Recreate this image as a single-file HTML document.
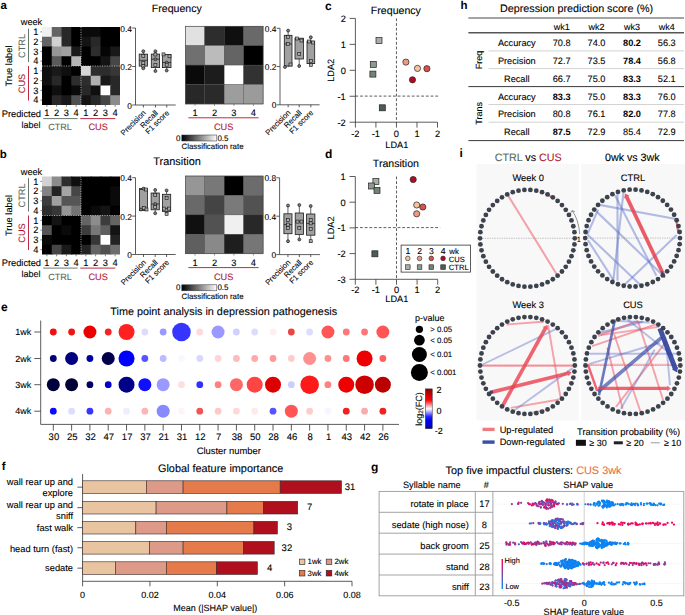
<!DOCTYPE html>
<html><head><meta charset="utf-8"><style>
html,body{margin:0;padding:0;background:#fff;overflow:hidden;}
svg{display:block;}
text{font-family:"Liberation Sans", sans-serif;text-rendering:geometricPrecision;}
</style></head><body>
<svg width="685" height="615" viewBox="0 0 685 615">
<rect width="685" height="615" fill="#fff"/>
<text x="0.60" y="8.90" font-size="11.5" text-anchor="start" font-weight="bold" fill="#000">a</text>
<text x="176.80" y="11.90" font-size="10.6" text-anchor="middle" font-weight="normal" fill="#000" stroke="#000" stroke-width="0.1">Frequency</text>
<rect x="42.00" y="27.00" width="10.75" height="10.75" fill="rgb(240,240,240)" stroke="none" stroke-width="0"/>
<rect x="51.75" y="27.00" width="10.75" height="10.75" fill="rgb(100,100,100)" stroke="none" stroke-width="0"/>
<rect x="61.50" y="27.00" width="10.75" height="10.75" fill="rgb(40,40,40)" stroke="none" stroke-width="0"/>
<rect x="71.25" y="27.00" width="10.75" height="10.75" fill="rgb(0,0,0)" stroke="none" stroke-width="0"/>
<rect x="81.00" y="27.00" width="10.75" height="10.75" fill="rgb(10,10,10)" stroke="none" stroke-width="0"/>
<rect x="90.75" y="27.00" width="10.75" height="10.75" fill="rgb(10,10,10)" stroke="none" stroke-width="0"/>
<rect x="100.50" y="27.00" width="10.75" height="10.75" fill="rgb(0,0,0)" stroke="none" stroke-width="0"/>
<rect x="110.25" y="27.00" width="9.75" height="10.75" fill="rgb(0,0,0)" stroke="none" stroke-width="0"/>
<rect x="42.00" y="36.75" width="10.75" height="10.75" fill="rgb(100,100,100)" stroke="none" stroke-width="0"/>
<rect x="51.75" y="36.75" width="10.75" height="10.75" fill="rgb(210,210,210)" stroke="none" stroke-width="0"/>
<rect x="61.50" y="36.75" width="10.75" height="10.75" fill="rgb(40,40,40)" stroke="none" stroke-width="0"/>
<rect x="71.25" y="36.75" width="10.75" height="10.75" fill="rgb(0,0,0)" stroke="none" stroke-width="0"/>
<rect x="81.00" y="36.75" width="10.75" height="10.75" fill="rgb(20,20,20)" stroke="none" stroke-width="0"/>
<rect x="90.75" y="36.75" width="10.75" height="10.75" fill="rgb(40,40,40)" stroke="none" stroke-width="0"/>
<rect x="100.50" y="36.75" width="10.75" height="10.75" fill="rgb(0,0,0)" stroke="none" stroke-width="0"/>
<rect x="110.25" y="36.75" width="9.75" height="10.75" fill="rgb(0,0,0)" stroke="none" stroke-width="0"/>
<rect x="42.00" y="46.50" width="10.75" height="10.75" fill="rgb(0,0,0)" stroke="none" stroke-width="0"/>
<rect x="51.75" y="46.50" width="10.75" height="10.75" fill="rgb(150,150,150)" stroke="none" stroke-width="0"/>
<rect x="61.50" y="46.50" width="10.75" height="10.75" fill="rgb(160,160,160)" stroke="none" stroke-width="0"/>
<rect x="71.25" y="46.50" width="10.75" height="10.75" fill="rgb(25,25,25)" stroke="none" stroke-width="0"/>
<rect x="81.00" y="46.50" width="10.75" height="10.75" fill="rgb(0,0,0)" stroke="none" stroke-width="0"/>
<rect x="90.75" y="46.50" width="10.75" height="10.75" fill="rgb(45,45,45)" stroke="none" stroke-width="0"/>
<rect x="100.50" y="46.50" width="10.75" height="10.75" fill="rgb(5,5,5)" stroke="none" stroke-width="0"/>
<rect x="110.25" y="46.50" width="9.75" height="10.75" fill="rgb(25,25,25)" stroke="none" stroke-width="0"/>
<rect x="42.00" y="56.25" width="10.75" height="10.75" fill="rgb(0,0,0)" stroke="none" stroke-width="0"/>
<rect x="51.75" y="56.25" width="10.75" height="10.75" fill="rgb(90,90,90)" stroke="none" stroke-width="0"/>
<rect x="61.50" y="56.25" width="10.75" height="10.75" fill="rgb(0,0,0)" stroke="none" stroke-width="0"/>
<rect x="71.25" y="56.25" width="10.75" height="10.75" fill="rgb(180,180,180)" stroke="none" stroke-width="0"/>
<rect x="81.00" y="56.25" width="10.75" height="10.75" fill="rgb(0,0,0)" stroke="none" stroke-width="0"/>
<rect x="90.75" y="56.25" width="10.75" height="10.75" fill="rgb(0,0,0)" stroke="none" stroke-width="0"/>
<rect x="100.50" y="56.25" width="10.75" height="10.75" fill="rgb(20,20,20)" stroke="none" stroke-width="0"/>
<rect x="110.25" y="56.25" width="9.75" height="10.75" fill="rgb(70,70,70)" stroke="none" stroke-width="0"/>
<rect x="42.00" y="66.00" width="10.75" height="10.75" fill="rgb(15,15,15)" stroke="none" stroke-width="0"/>
<rect x="51.75" y="66.00" width="10.75" height="10.75" fill="rgb(25,25,25)" stroke="none" stroke-width="0"/>
<rect x="61.50" y="66.00" width="10.75" height="10.75" fill="rgb(15,15,15)" stroke="none" stroke-width="0"/>
<rect x="71.25" y="66.00" width="10.75" height="10.75" fill="rgb(0,0,0)" stroke="none" stroke-width="0"/>
<rect x="81.00" y="66.00" width="10.75" height="10.75" fill="rgb(215,215,215)" stroke="none" stroke-width="0"/>
<rect x="90.75" y="66.00" width="10.75" height="10.75" fill="rgb(45,45,45)" stroke="none" stroke-width="0"/>
<rect x="100.50" y="66.00" width="10.75" height="10.75" fill="rgb(45,45,45)" stroke="none" stroke-width="0"/>
<rect x="110.25" y="66.00" width="9.75" height="10.75" fill="rgb(55,55,55)" stroke="none" stroke-width="0"/>
<rect x="42.00" y="75.75" width="10.75" height="10.75" fill="rgb(15,15,15)" stroke="none" stroke-width="0"/>
<rect x="51.75" y="75.75" width="10.75" height="10.75" fill="rgb(40,40,40)" stroke="none" stroke-width="0"/>
<rect x="61.50" y="75.75" width="10.75" height="10.75" fill="rgb(0,0,0)" stroke="none" stroke-width="0"/>
<rect x="71.25" y="75.75" width="10.75" height="10.75" fill="rgb(45,45,45)" stroke="none" stroke-width="0"/>
<rect x="81.00" y="75.75" width="10.75" height="10.75" fill="rgb(45,45,45)" stroke="none" stroke-width="0"/>
<rect x="90.75" y="75.75" width="10.75" height="10.75" fill="rgb(175,175,175)" stroke="none" stroke-width="0"/>
<rect x="100.50" y="75.75" width="10.75" height="10.75" fill="rgb(25,25,25)" stroke="none" stroke-width="0"/>
<rect x="110.25" y="75.75" width="9.75" height="10.75" fill="rgb(40,40,40)" stroke="none" stroke-width="0"/>
<rect x="42.00" y="85.50" width="10.75" height="10.75" fill="rgb(0,0,0)" stroke="none" stroke-width="0"/>
<rect x="51.75" y="85.50" width="10.75" height="10.75" fill="rgb(15,15,15)" stroke="none" stroke-width="0"/>
<rect x="61.50" y="85.50" width="10.75" height="10.75" fill="rgb(0,0,0)" stroke="none" stroke-width="0"/>
<rect x="71.25" y="85.50" width="10.75" height="10.75" fill="rgb(10,10,10)" stroke="none" stroke-width="0"/>
<rect x="81.00" y="85.50" width="10.75" height="10.75" fill="rgb(40,40,40)" stroke="none" stroke-width="0"/>
<rect x="90.75" y="85.50" width="10.75" height="10.75" fill="rgb(15,15,15)" stroke="none" stroke-width="0"/>
<rect x="100.50" y="85.50" width="10.75" height="10.75" fill="rgb(255,255,255)" stroke="none" stroke-width="0"/>
<rect x="110.25" y="85.50" width="9.75" height="10.75" fill="rgb(40,40,40)" stroke="none" stroke-width="0"/>
<rect x="42.00" y="95.25" width="10.75" height="9.75" fill="rgb(0,0,0)" stroke="none" stroke-width="0"/>
<rect x="51.75" y="95.25" width="10.75" height="9.75" fill="rgb(40,40,40)" stroke="none" stroke-width="0"/>
<rect x="61.50" y="95.25" width="10.75" height="9.75" fill="rgb(25,25,25)" stroke="none" stroke-width="0"/>
<rect x="71.25" y="95.25" width="10.75" height="9.75" fill="rgb(80,80,80)" stroke="none" stroke-width="0"/>
<rect x="81.00" y="95.25" width="10.75" height="9.75" fill="rgb(20,20,20)" stroke="none" stroke-width="0"/>
<rect x="90.75" y="95.25" width="10.75" height="9.75" fill="rgb(40,40,40)" stroke="none" stroke-width="0"/>
<rect x="100.50" y="95.25" width="10.75" height="9.75" fill="rgb(70,70,70)" stroke="none" stroke-width="0"/>
<rect x="110.25" y="95.25" width="9.75" height="9.75" fill="rgb(140,140,140)" stroke="none" stroke-width="0"/>
<line x1="81.00" y1="27.00" x2="81.00" y2="105.00" stroke="#dddddd" stroke-width="0.7" stroke-dasharray="1.1,1.3"/>
<line x1="42.00" y1="66.00" x2="120.00" y2="66.00" stroke="#dddddd" stroke-width="0.7" stroke-dasharray="1.1,1.3"/>
<line x1="40.40" y1="31.88" x2="42.00" y2="31.88" stroke="#333" stroke-width="0.6"/>
<line x1="40.40" y1="41.62" x2="42.00" y2="41.62" stroke="#333" stroke-width="0.6"/>
<line x1="40.40" y1="51.38" x2="42.00" y2="51.38" stroke="#333" stroke-width="0.6"/>
<line x1="40.40" y1="61.12" x2="42.00" y2="61.12" stroke="#333" stroke-width="0.6"/>
<line x1="40.40" y1="70.88" x2="42.00" y2="70.88" stroke="#333" stroke-width="0.6"/>
<line x1="40.40" y1="80.62" x2="42.00" y2="80.62" stroke="#333" stroke-width="0.6"/>
<line x1="40.40" y1="90.38" x2="42.00" y2="90.38" stroke="#333" stroke-width="0.6"/>
<line x1="40.40" y1="100.12" x2="42.00" y2="100.12" stroke="#333" stroke-width="0.6"/>
<line x1="46.88" y1="105.00" x2="46.88" y2="106.80" stroke="#333" stroke-width="0.6"/>
<line x1="56.62" y1="105.00" x2="56.62" y2="106.80" stroke="#333" stroke-width="0.6"/>
<line x1="66.38" y1="105.00" x2="66.38" y2="106.80" stroke="#333" stroke-width="0.6"/>
<line x1="76.12" y1="105.00" x2="76.12" y2="106.80" stroke="#333" stroke-width="0.6"/>
<line x1="85.88" y1="105.00" x2="85.88" y2="106.80" stroke="#333" stroke-width="0.6"/>
<line x1="95.62" y1="105.00" x2="95.62" y2="106.80" stroke="#333" stroke-width="0.6"/>
<line x1="105.38" y1="105.00" x2="105.38" y2="106.80" stroke="#333" stroke-width="0.6"/>
<line x1="115.12" y1="105.00" x2="115.12" y2="106.80" stroke="#333" stroke-width="0.6"/>
<text x="35.80" y="35.17" font-size="9.3" text-anchor="middle" font-weight="normal" fill="#000" stroke="#000" stroke-width="0.1">1</text>
<text x="35.80" y="44.92" font-size="9.3" text-anchor="middle" font-weight="normal" fill="#000" stroke="#000" stroke-width="0.1">2</text>
<text x="35.80" y="54.67" font-size="9.3" text-anchor="middle" font-weight="normal" fill="#000" stroke="#000" stroke-width="0.1">3</text>
<text x="35.80" y="64.42" font-size="9.3" text-anchor="middle" font-weight="normal" fill="#000" stroke="#000" stroke-width="0.1">4</text>
<text x="35.80" y="74.17" font-size="9.3" text-anchor="middle" font-weight="normal" fill="#000" stroke="#000" stroke-width="0.1">1</text>
<text x="35.80" y="83.92" font-size="9.3" text-anchor="middle" font-weight="normal" fill="#000" stroke="#000" stroke-width="0.1">2</text>
<text x="35.80" y="93.67" font-size="9.3" text-anchor="middle" font-weight="normal" fill="#000" stroke="#000" stroke-width="0.1">3</text>
<text x="35.80" y="103.42" font-size="9.3" text-anchor="middle" font-weight="normal" fill="#000" stroke="#000" stroke-width="0.1">4</text>
<text x="31.50" y="25.10" font-size="9.2" text-anchor="middle" font-weight="normal" fill="#000" stroke="#000" stroke-width="0.1">week</text>
<text x="25.00" y="46.00" font-size="9.2" text-anchor="middle" font-weight="normal" fill="#58695c" stroke="#58695c" stroke-width="0.1" transform="rotate(-90 25.00 46.00) ">CTRL</text>
<line x1="28.50" y1="28.60" x2="28.50" y2="62.00" stroke="#58695c" stroke-width="0.9"/>
<text x="24.70" y="83.50" font-size="9.2" text-anchor="middle" font-weight="normal" fill="#b4142e" stroke="#b4142e" stroke-width="0.1" transform="rotate(-90 24.70 83.50) ">CUS</text>
<line x1="28.50" y1="66.00" x2="28.50" y2="100.60" stroke="#b4142e" stroke-width="0.9"/>
<text x="12.40" y="66.00" font-size="9.3" text-anchor="middle" font-weight="normal" fill="#000" stroke="#000" stroke-width="0.1" transform="rotate(-90 12.40 66.00) ">True label</text>
<text x="41.00" y="116.60" font-size="9.3" text-anchor="end" font-weight="normal" fill="#000" stroke="#000" stroke-width="0.1">Predicted</text>
<text x="46.88" y="116.20" font-size="9.3" text-anchor="middle" font-weight="normal" fill="#000" stroke="#000" stroke-width="0.1">1</text>
<text x="56.62" y="116.20" font-size="9.3" text-anchor="middle" font-weight="normal" fill="#000" stroke="#000" stroke-width="0.1">2</text>
<text x="66.38" y="116.20" font-size="9.3" text-anchor="middle" font-weight="normal" fill="#000" stroke="#000" stroke-width="0.1">3</text>
<text x="76.12" y="116.20" font-size="9.3" text-anchor="middle" font-weight="normal" fill="#000" stroke="#000" stroke-width="0.1">4</text>
<text x="85.88" y="116.20" font-size="9.3" text-anchor="middle" font-weight="normal" fill="#000" stroke="#000" stroke-width="0.1">1</text>
<text x="95.62" y="116.20" font-size="9.3" text-anchor="middle" font-weight="normal" fill="#000" stroke="#000" stroke-width="0.1">2</text>
<text x="105.38" y="116.20" font-size="9.3" text-anchor="middle" font-weight="normal" fill="#000" stroke="#000" stroke-width="0.1">3</text>
<text x="115.12" y="116.20" font-size="9.3" text-anchor="middle" font-weight="normal" fill="#000" stroke="#000" stroke-width="0.1">4</text>
<line x1="43.20" y1="118.60" x2="77.60" y2="118.60" stroke="#58695c" stroke-width="0.9"/>
<line x1="80.30" y1="118.60" x2="115.30" y2="118.60" stroke="#b4142e" stroke-width="0.9"/>
<text x="40.50" y="127.80" font-size="9" text-anchor="end" font-weight="normal" fill="#000" stroke="#000" stroke-width="0.1">label</text>
<text x="60.00" y="130.00" font-size="9" text-anchor="middle" font-weight="normal" fill="#58695c" stroke="#58695c" stroke-width="0.1">CTRL</text>
<text x="98.20" y="130.00" font-size="9.2" text-anchor="middle" font-weight="normal" fill="#b4142e" stroke="#b4142e" stroke-width="0.1">CUS</text>
<rect x="185.30" y="26.20" width="19.45" height="19.45" fill="rgb(225,225,225)" stroke="#444" stroke-width="0.35"/>
<rect x="204.75" y="26.20" width="19.45" height="19.45" fill="rgb(45,45,45)" stroke="#444" stroke-width="0.35"/>
<rect x="224.20" y="26.20" width="19.45" height="19.45" fill="rgb(15,15,15)" stroke="#444" stroke-width="0.35"/>
<rect x="243.65" y="26.20" width="19.45" height="19.45" fill="rgb(105,105,105)" stroke="#444" stroke-width="0.35"/>
<rect x="185.30" y="45.65" width="19.45" height="19.45" fill="rgb(112,112,112)" stroke="#444" stroke-width="0.35"/>
<rect x="204.75" y="45.65" width="19.45" height="19.45" fill="rgb(187,187,187)" stroke="#444" stroke-width="0.35"/>
<rect x="224.20" y="45.65" width="19.45" height="19.45" fill="rgb(100,100,100)" stroke="#444" stroke-width="0.35"/>
<rect x="243.65" y="45.65" width="19.45" height="19.45" fill="rgb(0,0,0)" stroke="#444" stroke-width="0.35"/>
<rect x="185.30" y="65.10" width="19.45" height="19.45" fill="rgb(10,10,10)" stroke="#444" stroke-width="0.35"/>
<rect x="204.75" y="65.10" width="19.45" height="19.45" fill="rgb(28,28,28)" stroke="#444" stroke-width="0.35"/>
<rect x="224.20" y="65.10" width="19.45" height="19.45" fill="rgb(255,255,255)" stroke="#444" stroke-width="0.35"/>
<rect x="243.65" y="65.10" width="19.45" height="19.45" fill="rgb(50,50,50)" stroke="#444" stroke-width="0.35"/>
<rect x="185.30" y="84.55" width="19.45" height="19.45" fill="rgb(40,40,40)" stroke="#444" stroke-width="0.35"/>
<rect x="204.75" y="84.55" width="19.45" height="19.45" fill="rgb(42,42,42)" stroke="#444" stroke-width="0.35"/>
<rect x="224.20" y="84.55" width="19.45" height="19.45" fill="rgb(157,157,157)" stroke="#444" stroke-width="0.35"/>
<rect x="243.65" y="84.55" width="19.45" height="19.45" fill="rgb(155,155,155)" stroke="#444" stroke-width="0.35"/>
<rect x="185.30" y="26.20" width="77.80" height="77.80" fill="none" stroke="#444" stroke-width="0.5"/>
<line x1="195.03" y1="104.00" x2="195.03" y2="105.80" stroke="#555" stroke-width="0.6"/>
<text x="195.03" y="115.80" font-size="9.3" text-anchor="middle" font-weight="normal" fill="#000" stroke="#000" stroke-width="0.1">1</text>
<line x1="214.48" y1="104.00" x2="214.48" y2="105.80" stroke="#555" stroke-width="0.6"/>
<text x="214.48" y="115.80" font-size="9.3" text-anchor="middle" font-weight="normal" fill="#000" stroke="#000" stroke-width="0.1">2</text>
<line x1="233.93" y1="104.00" x2="233.93" y2="105.80" stroke="#555" stroke-width="0.6"/>
<text x="233.93" y="115.80" font-size="9.3" text-anchor="middle" font-weight="normal" fill="#000" stroke="#000" stroke-width="0.1">3</text>
<line x1="253.38" y1="104.00" x2="253.38" y2="105.80" stroke="#555" stroke-width="0.6"/>
<text x="253.38" y="115.80" font-size="9.3" text-anchor="middle" font-weight="normal" fill="#000" stroke="#000" stroke-width="0.1">4</text>
<line x1="188.40" y1="117.80" x2="258.60" y2="117.80" stroke="#b4142e" stroke-width="0.9"/>
<text x="223.70" y="129.80" font-size="9.2" text-anchor="middle" font-weight="normal" fill="#b4142e" stroke="#b4142e" stroke-width="0.1">CUS</text>
<defs><linearGradient id="gb135" x1="0" x2="1" y1="0" y2="0"><stop offset="0" stop-color="#000"/><stop offset="1" stop-color="#fff"/></linearGradient></defs>
<rect x="181.80" y="135.00" width="35.00" height="6.00" fill="url(#gb135)" stroke="#333" stroke-width="0.5"/>
<line x1="188.80" y1="141.00" x2="188.80" y2="140.00" stroke="#888" stroke-width="0.4"/>
<line x1="195.80" y1="141.00" x2="195.80" y2="140.00" stroke="#888" stroke-width="0.4"/>
<line x1="202.80" y1="141.00" x2="202.80" y2="140.00" stroke="#888" stroke-width="0.4"/>
<line x1="209.80" y1="141.00" x2="209.80" y2="140.00" stroke="#888" stroke-width="0.4"/>
<text x="180.50" y="140.60" font-size="8" text-anchor="end" font-weight="normal" fill="#000" stroke="#000" stroke-width="0.1">0</text>
<text x="217.40" y="140.60" font-size="8" text-anchor="start" font-weight="normal" fill="#000" stroke="#000" stroke-width="0.1">0.5</text>
<text x="181.60" y="149.00" font-size="7.85" text-anchor="start" font-weight="normal" fill="#000" stroke="#000" stroke-width="0.1">Classification rate</text>
<line x1="135.50" y1="28.00" x2="135.50" y2="105.00" stroke="#333" stroke-width="0.8"/>
<line x1="135.50" y1="105.00" x2="175.70" y2="105.00" stroke="#333" stroke-width="0.8"/>
<line x1="132.20" y1="28.00" x2="135.50" y2="28.00" stroke="#333" stroke-width="0.8"/>
<text x="132.00" y="31.50" font-size="8.4" text-anchor="end" font-weight="normal" fill="#000" stroke="#000" stroke-width="0.1">0.4</text>
<line x1="132.20" y1="66.50" x2="135.50" y2="66.50" stroke="#333" stroke-width="0.8"/>
<text x="132.00" y="70.00" font-size="8.4" text-anchor="end" font-weight="normal" fill="#000" stroke="#000" stroke-width="0.1">0.2</text>
<line x1="132.20" y1="105.00" x2="135.50" y2="105.00" stroke="#333" stroke-width="0.8"/>
<text x="132.00" y="108.50" font-size="8.4" text-anchor="end" font-weight="normal" fill="#000" stroke="#000" stroke-width="0.1">0</text>
<line x1="143.35" y1="105.00" x2="143.35" y2="107.50" stroke="#333" stroke-width="0.8"/>
<line x1="143.35" y1="51.20" x2="143.35" y2="54.10" stroke="#222" stroke-width="0.7"/>
<line x1="143.35" y1="66.10" x2="143.35" y2="68.30" stroke="#222" stroke-width="0.7"/>
<rect x="139.20" y="54.10" width="8.30" height="12.00" fill="#a0a0a0" stroke="#1a1a1a" stroke-width="0.8"/>
<line x1="139.20" y1="60.30" x2="147.50" y2="60.30" stroke="#222" stroke-width="0.8"/>
<line x1="155.45" y1="105.00" x2="155.45" y2="107.50" stroke="#333" stroke-width="0.8"/>
<line x1="155.45" y1="51.20" x2="155.45" y2="54.10" stroke="#222" stroke-width="0.7"/>
<line x1="155.45" y1="67.60" x2="155.45" y2="71.00" stroke="#222" stroke-width="0.7"/>
<rect x="151.30" y="54.10" width="8.30" height="13.50" fill="#a0a0a0" stroke="#1a1a1a" stroke-width="0.8"/>
<line x1="151.30" y1="59.20" x2="159.60" y2="59.20" stroke="#222" stroke-width="0.8"/>
<line x1="166.75" y1="105.00" x2="166.75" y2="107.50" stroke="#333" stroke-width="0.8"/>
<line x1="166.75" y1="54.40" x2="166.75" y2="54.40" stroke="#222" stroke-width="0.7"/>
<line x1="166.75" y1="67.60" x2="166.75" y2="70.50" stroke="#222" stroke-width="0.7"/>
<rect x="162.50" y="54.40" width="8.50" height="13.20" fill="#a0a0a0" stroke="#1a1a1a" stroke-width="0.8"/>
<line x1="162.50" y1="62.50" x2="171.00" y2="62.50" stroke="#222" stroke-width="0.8"/>
<circle cx="143.30" cy="51.20" r="1.50" fill="#7a7a7a" stroke="#111" stroke-width="0.6"/>
<rect x="141.80" y="54.50" width="3.00" height="3.00" fill="#acacac" stroke="#111" stroke-width="0.6"/>
<rect x="141.80" y="61.50" width="3.00" height="3.00" fill="#acacac" stroke="#111" stroke-width="0.6"/>
<rect x="141.80" y="64.50" width="3.00" height="3.00" fill="#acacac" stroke="#111" stroke-width="0.6"/>
<circle cx="143.30" cy="68.30" r="1.50" fill="#7a7a7a" stroke="#111" stroke-width="0.6"/>
<circle cx="155.40" cy="51.20" r="1.50" fill="#7a7a7a" stroke="#111" stroke-width="0.6"/>
<rect x="153.90" y="53.00" width="3.00" height="3.00" fill="#acacac" stroke="#111" stroke-width="0.6"/>
<circle cx="155.40" cy="59.20" r="1.50" fill="#7a7a7a" stroke="#111" stroke-width="0.6"/>
<rect x="153.90" y="63.50" width="3.00" height="3.00" fill="#acacac" stroke="#111" stroke-width="0.6"/>
<circle cx="155.40" cy="71.00" r="1.50" fill="#7a7a7a" stroke="#111" stroke-width="0.6"/>
<rect x="162.00" y="52.90" width="3.00" height="3.00" fill="#acacac" stroke="#111" stroke-width="0.6"/>
<rect x="168.00" y="54.80" width="3.00" height="3.00" fill="#acacac" stroke="#111" stroke-width="0.6"/>
<circle cx="166.70" cy="62.50" r="1.50" fill="#7a7a7a" stroke="#111" stroke-width="0.6"/>
<rect x="165.20" y="63.20" width="3.00" height="3.00" fill="#acacac" stroke="#111" stroke-width="0.6"/>
<circle cx="166.70" cy="70.50" r="1.50" fill="#7a7a7a" stroke="#111" stroke-width="0.6"/>
<text x="146.35" y="113.40" font-size="7.75" text-anchor="end" font-weight="normal" fill="#000" stroke="#000" stroke-width="0.1" transform="rotate(-45 146.35 113.40) ">Precision</text>
<text x="158.45" y="113.40" font-size="7.75" text-anchor="end" font-weight="normal" fill="#000" stroke="#000" stroke-width="0.1" transform="rotate(-45 158.45 113.40) ">Recall</text>
<text x="169.75" y="113.40" font-size="7.75" text-anchor="end" font-weight="normal" fill="#000" stroke="#000" stroke-width="0.1" transform="rotate(-45 169.75 113.40) ">F1 score</text>
<line x1="280.00" y1="28.30" x2="280.00" y2="104.80" stroke="#333" stroke-width="0.8"/>
<line x1="280.00" y1="104.80" x2="319.60" y2="104.80" stroke="#333" stroke-width="0.8"/>
<line x1="276.70" y1="28.30" x2="280.00" y2="28.30" stroke="#333" stroke-width="0.8"/>
<text x="276.50" y="31.80" font-size="8.4" text-anchor="end" font-weight="normal" fill="#000" stroke="#000" stroke-width="0.1">0.4</text>
<line x1="276.70" y1="66.55" x2="280.00" y2="66.55" stroke="#333" stroke-width="0.8"/>
<text x="276.50" y="70.05" font-size="8.4" text-anchor="end" font-weight="normal" fill="#000" stroke="#000" stroke-width="0.1">0.2</text>
<line x1="276.70" y1="104.80" x2="280.00" y2="104.80" stroke="#333" stroke-width="0.8"/>
<text x="276.50" y="108.30" font-size="8.4" text-anchor="end" font-weight="normal" fill="#000" stroke="#000" stroke-width="0.1">0</text>
<line x1="288.15" y1="104.80" x2="288.15" y2="107.30" stroke="#333" stroke-width="0.8"/>
<line x1="288.15" y1="30.60" x2="288.15" y2="35.30" stroke="#222" stroke-width="0.7"/>
<line x1="288.15" y1="66.00" x2="288.15" y2="67.20" stroke="#222" stroke-width="0.7"/>
<rect x="284.30" y="35.30" width="7.70" height="30.70" fill="#a0a0a0" stroke="#1a1a1a" stroke-width="0.8"/>
<line x1="284.30" y1="44.00" x2="292.00" y2="44.00" stroke="#222" stroke-width="0.8"/>
<line x1="299.20" y1="104.80" x2="299.20" y2="107.30" stroke="#333" stroke-width="0.8"/>
<line x1="299.20" y1="38.20" x2="299.20" y2="38.20" stroke="#222" stroke-width="0.7"/>
<line x1="299.20" y1="59.00" x2="299.20" y2="66.00" stroke="#222" stroke-width="0.7"/>
<rect x="295.00" y="38.20" width="8.40" height="20.80" fill="#a0a0a0" stroke="#1a1a1a" stroke-width="0.8"/>
<line x1="295.00" y1="39.50" x2="303.40" y2="39.50" stroke="#222" stroke-width="0.8"/>
<line x1="310.85" y1="104.80" x2="310.85" y2="107.30" stroke="#333" stroke-width="0.8"/>
<line x1="310.85" y1="37.20" x2="310.85" y2="41.20" stroke="#222" stroke-width="0.7"/>
<line x1="310.85" y1="63.60" x2="310.85" y2="64.80" stroke="#222" stroke-width="0.7"/>
<rect x="307.00" y="41.20" width="7.70" height="22.40" fill="#a0a0a0" stroke="#1a1a1a" stroke-width="0.8"/>
<line x1="307.00" y1="42.50" x2="314.70" y2="42.50" stroke="#222" stroke-width="0.8"/>
<circle cx="288.10" cy="30.60" r="1.50" fill="#7a7a7a" stroke="#111" stroke-width="0.6"/>
<rect x="286.60" y="35.50" width="3.00" height="3.00" fill="#acacac" stroke="#111" stroke-width="0.6"/>
<rect x="286.60" y="42.50" width="3.00" height="3.00" fill="#acacac" stroke="#111" stroke-width="0.6"/>
<rect x="289.00" y="63.00" width="3.00" height="3.00" fill="#acacac" stroke="#111" stroke-width="0.6"/>
<circle cx="285.00" cy="67.00" r="1.50" fill="#7a7a7a" stroke="#111" stroke-width="0.6"/>
<rect x="295.50" y="37.00" width="3.00" height="3.00" fill="#acacac" stroke="#111" stroke-width="0.6"/>
<rect x="300.00" y="39.00" width="3.00" height="3.00" fill="#acacac" stroke="#111" stroke-width="0.6"/>
<rect x="297.70" y="52.50" width="3.00" height="3.00" fill="#acacac" stroke="#111" stroke-width="0.6"/>
<circle cx="299.20" cy="66.00" r="1.50" fill="#7a7a7a" stroke="#111" stroke-width="0.6"/>
<circle cx="310.80" cy="37.20" r="1.50" fill="#7a7a7a" stroke="#111" stroke-width="0.6"/>
<rect x="307.50" y="40.00" width="3.00" height="3.00" fill="#acacac" stroke="#111" stroke-width="0.6"/>
<rect x="311.50" y="41.00" width="3.00" height="3.00" fill="#acacac" stroke="#111" stroke-width="0.6"/>
<rect x="309.30" y="59.50" width="3.00" height="3.00" fill="#acacac" stroke="#111" stroke-width="0.6"/>
<rect x="309.30" y="63.30" width="3.00" height="3.00" fill="#acacac" stroke="#111" stroke-width="0.6"/>
<text x="291.15" y="113.20" font-size="7.75" text-anchor="end" font-weight="normal" fill="#000" stroke="#000" stroke-width="0.1" transform="rotate(-45 291.15 113.20) ">Precision</text>
<text x="302.20" y="113.20" font-size="7.75" text-anchor="end" font-weight="normal" fill="#000" stroke="#000" stroke-width="0.1" transform="rotate(-45 302.20 113.20) ">Recall</text>
<text x="313.85" y="113.20" font-size="7.75" text-anchor="end" font-weight="normal" fill="#000" stroke="#000" stroke-width="0.1" transform="rotate(-45 313.85 113.20) ">F1 score</text>
<text x="-0.20" y="158.30" font-size="11.5" text-anchor="start" font-weight="bold" fill="#000">b</text>
<text x="177.10" y="164.70" font-size="10.95" text-anchor="middle" font-weight="normal" fill="#000" stroke="#000" stroke-width="0.1">Transition</text>
<rect x="42.00" y="176.50" width="10.75" height="10.75" fill="rgb(210,210,210)" stroke="none" stroke-width="0"/>
<rect x="51.75" y="176.50" width="10.75" height="10.75" fill="rgb(140,140,140)" stroke="none" stroke-width="0"/>
<rect x="61.50" y="176.50" width="10.75" height="10.75" fill="rgb(45,45,45)" stroke="none" stroke-width="0"/>
<rect x="71.25" y="176.50" width="10.75" height="10.75" fill="rgb(15,15,15)" stroke="none" stroke-width="0"/>
<rect x="81.00" y="176.50" width="10.75" height="10.75" fill="rgb(0,0,0)" stroke="none" stroke-width="0"/>
<rect x="90.75" y="176.50" width="10.75" height="10.75" fill="rgb(0,0,0)" stroke="none" stroke-width="0"/>
<rect x="100.50" y="176.50" width="10.75" height="10.75" fill="rgb(0,0,0)" stroke="none" stroke-width="0"/>
<rect x="110.25" y="176.50" width="9.75" height="10.75" fill="rgb(0,0,0)" stroke="none" stroke-width="0"/>
<rect x="42.00" y="186.25" width="10.75" height="10.75" fill="rgb(130,130,130)" stroke="none" stroke-width="0"/>
<rect x="51.75" y="186.25" width="10.75" height="10.75" fill="rgb(35,35,35)" stroke="none" stroke-width="0"/>
<rect x="61.50" y="186.25" width="10.75" height="10.75" fill="rgb(165,165,165)" stroke="none" stroke-width="0"/>
<rect x="71.25" y="186.25" width="10.75" height="10.75" fill="rgb(70,70,70)" stroke="none" stroke-width="0"/>
<rect x="81.00" y="186.25" width="10.75" height="10.75" fill="rgb(0,0,0)" stroke="none" stroke-width="0"/>
<rect x="90.75" y="186.25" width="10.75" height="10.75" fill="rgb(0,0,0)" stroke="none" stroke-width="0"/>
<rect x="100.50" y="186.25" width="10.75" height="10.75" fill="rgb(0,0,0)" stroke="none" stroke-width="0"/>
<rect x="110.25" y="186.25" width="9.75" height="10.75" fill="rgb(10,10,10)" stroke="none" stroke-width="0"/>
<rect x="42.00" y="196.00" width="10.75" height="10.75" fill="rgb(60,60,60)" stroke="none" stroke-width="0"/>
<rect x="51.75" y="196.00" width="10.75" height="10.75" fill="rgb(160,160,160)" stroke="none" stroke-width="0"/>
<rect x="61.50" y="196.00" width="10.75" height="10.75" fill="rgb(85,85,85)" stroke="none" stroke-width="0"/>
<rect x="71.25" y="196.00" width="10.75" height="10.75" fill="rgb(85,85,85)" stroke="none" stroke-width="0"/>
<rect x="81.00" y="196.00" width="10.75" height="10.75" fill="rgb(0,0,0)" stroke="none" stroke-width="0"/>
<rect x="90.75" y="196.00" width="10.75" height="10.75" fill="rgb(0,0,0)" stroke="none" stroke-width="0"/>
<rect x="100.50" y="196.00" width="10.75" height="10.75" fill="rgb(0,0,0)" stroke="none" stroke-width="0"/>
<rect x="110.25" y="196.00" width="9.75" height="10.75" fill="rgb(10,10,10)" stroke="none" stroke-width="0"/>
<rect x="42.00" y="205.75" width="10.75" height="10.75" fill="rgb(45,45,45)" stroke="none" stroke-width="0"/>
<rect x="51.75" y="205.75" width="10.75" height="10.75" fill="rgb(55,55,55)" stroke="none" stroke-width="0"/>
<rect x="61.50" y="205.75" width="10.75" height="10.75" fill="rgb(150,150,150)" stroke="none" stroke-width="0"/>
<rect x="71.25" y="205.75" width="10.75" height="10.75" fill="rgb(115,115,115)" stroke="none" stroke-width="0"/>
<rect x="81.00" y="205.75" width="10.75" height="10.75" fill="rgb(0,0,0)" stroke="none" stroke-width="0"/>
<rect x="90.75" y="205.75" width="10.75" height="10.75" fill="rgb(10,10,10)" stroke="none" stroke-width="0"/>
<rect x="100.50" y="205.75" width="10.75" height="10.75" fill="rgb(20,20,20)" stroke="none" stroke-width="0"/>
<rect x="110.25" y="205.75" width="9.75" height="10.75" fill="rgb(0,0,0)" stroke="none" stroke-width="0"/>
<rect x="42.00" y="215.50" width="10.75" height="10.75" fill="rgb(0,0,0)" stroke="none" stroke-width="0"/>
<rect x="51.75" y="215.50" width="10.75" height="10.75" fill="rgb(20,20,20)" stroke="none" stroke-width="0"/>
<rect x="61.50" y="215.50" width="10.75" height="10.75" fill="rgb(0,0,0)" stroke="none" stroke-width="0"/>
<rect x="71.25" y="215.50" width="10.75" height="10.75" fill="rgb(0,0,0)" stroke="none" stroke-width="0"/>
<rect x="81.00" y="215.50" width="10.75" height="10.75" fill="rgb(100,100,100)" stroke="none" stroke-width="0"/>
<rect x="90.75" y="215.50" width="10.75" height="10.75" fill="rgb(140,140,140)" stroke="none" stroke-width="0"/>
<rect x="100.50" y="215.50" width="10.75" height="10.75" fill="rgb(60,60,60)" stroke="none" stroke-width="0"/>
<rect x="110.25" y="215.50" width="9.75" height="10.75" fill="rgb(100,100,100)" stroke="none" stroke-width="0"/>
<rect x="42.00" y="225.25" width="10.75" height="10.75" fill="rgb(85,85,85)" stroke="none" stroke-width="0"/>
<rect x="51.75" y="225.25" width="10.75" height="10.75" fill="rgb(0,0,0)" stroke="none" stroke-width="0"/>
<rect x="61.50" y="225.25" width="10.75" height="10.75" fill="rgb(10,10,10)" stroke="none" stroke-width="0"/>
<rect x="71.25" y="225.25" width="10.75" height="10.75" fill="rgb(0,0,0)" stroke="none" stroke-width="0"/>
<rect x="81.00" y="225.25" width="10.75" height="10.75" fill="rgb(60,60,60)" stroke="none" stroke-width="0"/>
<rect x="90.75" y="225.25" width="10.75" height="10.75" fill="rgb(120,120,120)" stroke="none" stroke-width="0"/>
<rect x="100.50" y="225.25" width="10.75" height="10.75" fill="rgb(95,95,95)" stroke="none" stroke-width="0"/>
<rect x="110.25" y="225.25" width="9.75" height="10.75" fill="rgb(20,20,20)" stroke="none" stroke-width="0"/>
<rect x="42.00" y="235.00" width="10.75" height="10.75" fill="rgb(10,10,10)" stroke="none" stroke-width="0"/>
<rect x="51.75" y="235.00" width="10.75" height="10.75" fill="rgb(0,0,0)" stroke="none" stroke-width="0"/>
<rect x="61.50" y="235.00" width="10.75" height="10.75" fill="rgb(0,0,0)" stroke="none" stroke-width="0"/>
<rect x="71.25" y="235.00" width="10.75" height="10.75" fill="rgb(0,0,0)" stroke="none" stroke-width="0"/>
<rect x="81.00" y="235.00" width="10.75" height="10.75" fill="rgb(0,0,0)" stroke="none" stroke-width="0"/>
<rect x="90.75" y="235.00" width="10.75" height="10.75" fill="rgb(55,55,55)" stroke="none" stroke-width="0"/>
<rect x="100.50" y="235.00" width="10.75" height="10.75" fill="rgb(255,255,255)" stroke="none" stroke-width="0"/>
<rect x="110.25" y="235.00" width="9.75" height="10.75" fill="rgb(35,35,35)" stroke="none" stroke-width="0"/>
<rect x="42.00" y="244.75" width="10.75" height="9.75" fill="rgb(0,0,0)" stroke="none" stroke-width="0"/>
<rect x="51.75" y="244.75" width="10.75" height="9.75" fill="rgb(70,70,70)" stroke="none" stroke-width="0"/>
<rect x="61.50" y="244.75" width="10.75" height="9.75" fill="rgb(25,25,25)" stroke="none" stroke-width="0"/>
<rect x="71.25" y="244.75" width="10.75" height="9.75" fill="rgb(0,0,0)" stroke="none" stroke-width="0"/>
<rect x="81.00" y="244.75" width="10.75" height="9.75" fill="rgb(35,35,35)" stroke="none" stroke-width="0"/>
<rect x="90.75" y="244.75" width="10.75" height="9.75" fill="rgb(100,100,100)" stroke="none" stroke-width="0"/>
<rect x="100.50" y="244.75" width="10.75" height="9.75" fill="rgb(80,80,80)" stroke="none" stroke-width="0"/>
<rect x="110.25" y="244.75" width="9.75" height="9.75" fill="rgb(110,110,110)" stroke="none" stroke-width="0"/>
<line x1="81.00" y1="176.50" x2="81.00" y2="254.50" stroke="#dddddd" stroke-width="0.7" stroke-dasharray="1.1,1.3"/>
<line x1="42.00" y1="215.50" x2="120.00" y2="215.50" stroke="#dddddd" stroke-width="0.7" stroke-dasharray="1.1,1.3"/>
<line x1="40.40" y1="181.38" x2="42.00" y2="181.38" stroke="#333" stroke-width="0.6"/>
<line x1="40.40" y1="191.12" x2="42.00" y2="191.12" stroke="#333" stroke-width="0.6"/>
<line x1="40.40" y1="200.88" x2="42.00" y2="200.88" stroke="#333" stroke-width="0.6"/>
<line x1="40.40" y1="210.62" x2="42.00" y2="210.62" stroke="#333" stroke-width="0.6"/>
<line x1="40.40" y1="220.38" x2="42.00" y2="220.38" stroke="#333" stroke-width="0.6"/>
<line x1="40.40" y1="230.12" x2="42.00" y2="230.12" stroke="#333" stroke-width="0.6"/>
<line x1="40.40" y1="239.88" x2="42.00" y2="239.88" stroke="#333" stroke-width="0.6"/>
<line x1="40.40" y1="249.62" x2="42.00" y2="249.62" stroke="#333" stroke-width="0.6"/>
<line x1="46.88" y1="254.50" x2="46.88" y2="256.30" stroke="#333" stroke-width="0.6"/>
<line x1="56.62" y1="254.50" x2="56.62" y2="256.30" stroke="#333" stroke-width="0.6"/>
<line x1="66.38" y1="254.50" x2="66.38" y2="256.30" stroke="#333" stroke-width="0.6"/>
<line x1="76.12" y1="254.50" x2="76.12" y2="256.30" stroke="#333" stroke-width="0.6"/>
<line x1="85.88" y1="254.50" x2="85.88" y2="256.30" stroke="#333" stroke-width="0.6"/>
<line x1="95.62" y1="254.50" x2="95.62" y2="256.30" stroke="#333" stroke-width="0.6"/>
<line x1="105.38" y1="254.50" x2="105.38" y2="256.30" stroke="#333" stroke-width="0.6"/>
<line x1="115.12" y1="254.50" x2="115.12" y2="256.30" stroke="#333" stroke-width="0.6"/>
<text x="35.80" y="184.68" font-size="9.3" text-anchor="middle" font-weight="normal" fill="#000" stroke="#000" stroke-width="0.1">1</text>
<text x="35.80" y="194.43" font-size="9.3" text-anchor="middle" font-weight="normal" fill="#000" stroke="#000" stroke-width="0.1">2</text>
<text x="35.80" y="204.18" font-size="9.3" text-anchor="middle" font-weight="normal" fill="#000" stroke="#000" stroke-width="0.1">3</text>
<text x="35.80" y="213.93" font-size="9.3" text-anchor="middle" font-weight="normal" fill="#000" stroke="#000" stroke-width="0.1">4</text>
<text x="35.80" y="223.68" font-size="9.3" text-anchor="middle" font-weight="normal" fill="#000" stroke="#000" stroke-width="0.1">1</text>
<text x="35.80" y="233.43" font-size="9.3" text-anchor="middle" font-weight="normal" fill="#000" stroke="#000" stroke-width="0.1">2</text>
<text x="35.80" y="243.18" font-size="9.3" text-anchor="middle" font-weight="normal" fill="#000" stroke="#000" stroke-width="0.1">3</text>
<text x="35.80" y="252.93" font-size="9.3" text-anchor="middle" font-weight="normal" fill="#000" stroke="#000" stroke-width="0.1">4</text>
<text x="31.50" y="174.60" font-size="9.2" text-anchor="middle" font-weight="normal" fill="#000" stroke="#000" stroke-width="0.1">week</text>
<text x="25.00" y="195.50" font-size="9.2" text-anchor="middle" font-weight="normal" fill="#58695c" stroke="#58695c" stroke-width="0.1" transform="rotate(-90 25.00 195.50) ">CTRL</text>
<line x1="28.50" y1="178.10" x2="28.50" y2="211.50" stroke="#58695c" stroke-width="0.9"/>
<text x="24.70" y="233.00" font-size="9.2" text-anchor="middle" font-weight="normal" fill="#b4142e" stroke="#b4142e" stroke-width="0.1" transform="rotate(-90 24.70 233.00) ">CUS</text>
<line x1="28.50" y1="215.50" x2="28.50" y2="250.10" stroke="#b4142e" stroke-width="0.9"/>
<text x="12.40" y="215.50" font-size="9.3" text-anchor="middle" font-weight="normal" fill="#000" stroke="#000" stroke-width="0.1" transform="rotate(-90 12.40 215.50) ">True label</text>
<text x="41.00" y="266.10" font-size="9.3" text-anchor="end" font-weight="normal" fill="#000" stroke="#000" stroke-width="0.1">Predicted</text>
<text x="46.88" y="265.70" font-size="9.3" text-anchor="middle" font-weight="normal" fill="#000" stroke="#000" stroke-width="0.1">1</text>
<text x="56.62" y="265.70" font-size="9.3" text-anchor="middle" font-weight="normal" fill="#000" stroke="#000" stroke-width="0.1">2</text>
<text x="66.38" y="265.70" font-size="9.3" text-anchor="middle" font-weight="normal" fill="#000" stroke="#000" stroke-width="0.1">3</text>
<text x="76.12" y="265.70" font-size="9.3" text-anchor="middle" font-weight="normal" fill="#000" stroke="#000" stroke-width="0.1">4</text>
<text x="85.88" y="265.70" font-size="9.3" text-anchor="middle" font-weight="normal" fill="#000" stroke="#000" stroke-width="0.1">1</text>
<text x="95.62" y="265.70" font-size="9.3" text-anchor="middle" font-weight="normal" fill="#000" stroke="#000" stroke-width="0.1">2</text>
<text x="105.38" y="265.70" font-size="9.3" text-anchor="middle" font-weight="normal" fill="#000" stroke="#000" stroke-width="0.1">3</text>
<text x="115.12" y="265.70" font-size="9.3" text-anchor="middle" font-weight="normal" fill="#000" stroke="#000" stroke-width="0.1">4</text>
<line x1="43.20" y1="268.10" x2="77.60" y2="268.10" stroke="#58695c" stroke-width="0.9"/>
<line x1="80.30" y1="268.10" x2="115.30" y2="268.10" stroke="#b4142e" stroke-width="0.9"/>
<text x="40.50" y="277.30" font-size="9" text-anchor="end" font-weight="normal" fill="#000" stroke="#000" stroke-width="0.1">label</text>
<text x="60.00" y="279.50" font-size="9" text-anchor="middle" font-weight="normal" fill="#58695c" stroke="#58695c" stroke-width="0.1">CTRL</text>
<text x="98.20" y="279.50" font-size="9.2" text-anchor="middle" font-weight="normal" fill="#b4142e" stroke="#b4142e" stroke-width="0.1">CUS</text>
<rect x="185.30" y="176.00" width="19.45" height="19.45" fill="rgb(150,150,150)" stroke="#444" stroke-width="0.35"/>
<rect x="204.75" y="176.00" width="19.45" height="19.45" fill="rgb(120,120,120)" stroke="#444" stroke-width="0.35"/>
<rect x="224.20" y="176.00" width="19.45" height="19.45" fill="rgb(0,0,0)" stroke="#444" stroke-width="0.35"/>
<rect x="243.65" y="176.00" width="19.45" height="19.45" fill="rgb(108,108,108)" stroke="#444" stroke-width="0.35"/>
<rect x="185.30" y="195.45" width="19.45" height="19.45" fill="rgb(105,105,105)" stroke="#444" stroke-width="0.35"/>
<rect x="204.75" y="195.45" width="19.45" height="19.45" fill="rgb(68,68,68)" stroke="#444" stroke-width="0.35"/>
<rect x="224.20" y="195.45" width="19.45" height="19.45" fill="rgb(122,122,122)" stroke="#444" stroke-width="0.35"/>
<rect x="243.65" y="195.45" width="19.45" height="19.45" fill="rgb(82,82,82)" stroke="#444" stroke-width="0.35"/>
<rect x="185.30" y="214.90" width="19.45" height="19.45" fill="rgb(16,16,16)" stroke="#444" stroke-width="0.35"/>
<rect x="204.75" y="214.90" width="19.45" height="19.45" fill="rgb(82,82,82)" stroke="#444" stroke-width="0.35"/>
<rect x="224.20" y="214.90" width="19.45" height="19.45" fill="rgb(240,240,240)" stroke="#444" stroke-width="0.35"/>
<rect x="243.65" y="214.90" width="19.45" height="19.45" fill="rgb(40,40,40)" stroke="#444" stroke-width="0.35"/>
<rect x="185.30" y="234.35" width="19.45" height="19.45" fill="rgb(95,95,95)" stroke="#444" stroke-width="0.35"/>
<rect x="204.75" y="234.35" width="19.45" height="19.45" fill="rgb(137,137,137)" stroke="#444" stroke-width="0.35"/>
<rect x="224.20" y="234.35" width="19.45" height="19.45" fill="rgb(30,30,30)" stroke="#444" stroke-width="0.35"/>
<rect x="243.65" y="234.35" width="19.45" height="19.45" fill="rgb(118,118,118)" stroke="#444" stroke-width="0.35"/>
<rect x="185.30" y="176.00" width="77.80" height="77.80" fill="none" stroke="#444" stroke-width="0.5"/>
<line x1="195.03" y1="253.80" x2="195.03" y2="255.60" stroke="#555" stroke-width="0.6"/>
<text x="195.03" y="265.60" font-size="9.3" text-anchor="middle" font-weight="normal" fill="#000" stroke="#000" stroke-width="0.1">1</text>
<line x1="214.48" y1="253.80" x2="214.48" y2="255.60" stroke="#555" stroke-width="0.6"/>
<text x="214.48" y="265.60" font-size="9.3" text-anchor="middle" font-weight="normal" fill="#000" stroke="#000" stroke-width="0.1">2</text>
<line x1="233.93" y1="253.80" x2="233.93" y2="255.60" stroke="#555" stroke-width="0.6"/>
<text x="233.93" y="265.60" font-size="9.3" text-anchor="middle" font-weight="normal" fill="#000" stroke="#000" stroke-width="0.1">3</text>
<line x1="253.38" y1="253.80" x2="253.38" y2="255.60" stroke="#555" stroke-width="0.6"/>
<text x="253.38" y="265.60" font-size="9.3" text-anchor="middle" font-weight="normal" fill="#000" stroke="#000" stroke-width="0.1">4</text>
<line x1="188.40" y1="267.60" x2="258.60" y2="267.60" stroke="#b4142e" stroke-width="0.9"/>
<text x="223.70" y="279.60" font-size="9.2" text-anchor="middle" font-weight="normal" fill="#b4142e" stroke="#b4142e" stroke-width="0.1">CUS</text>
<defs><linearGradient id="gb284" x1="0" x2="1" y1="0" y2="0"><stop offset="0" stop-color="#000"/><stop offset="1" stop-color="#fff"/></linearGradient></defs>
<rect x="181.80" y="284.80" width="35.00" height="6.00" fill="url(#gb284)" stroke="#333" stroke-width="0.5"/>
<line x1="188.80" y1="290.80" x2="188.80" y2="289.80" stroke="#888" stroke-width="0.4"/>
<line x1="195.80" y1="290.80" x2="195.80" y2="289.80" stroke="#888" stroke-width="0.4"/>
<line x1="202.80" y1="290.80" x2="202.80" y2="289.80" stroke="#888" stroke-width="0.4"/>
<line x1="209.80" y1="290.80" x2="209.80" y2="289.80" stroke="#888" stroke-width="0.4"/>
<text x="180.50" y="290.40" font-size="8" text-anchor="end" font-weight="normal" fill="#000" stroke="#000" stroke-width="0.1">0</text>
<text x="217.40" y="290.40" font-size="8" text-anchor="start" font-weight="normal" fill="#000" stroke="#000" stroke-width="0.1">0.5</text>
<text x="181.60" y="298.80" font-size="7.85" text-anchor="start" font-weight="normal" fill="#000" stroke="#000" stroke-width="0.1">Classification rate</text>
<line x1="135.50" y1="177.70" x2="135.50" y2="254.50" stroke="#333" stroke-width="0.8"/>
<line x1="135.50" y1="254.50" x2="175.70" y2="254.50" stroke="#333" stroke-width="0.8"/>
<line x1="132.20" y1="177.70" x2="135.50" y2="177.70" stroke="#333" stroke-width="0.8"/>
<text x="132.00" y="181.20" font-size="8.4" text-anchor="end" font-weight="normal" fill="#000" stroke="#000" stroke-width="0.1">0.4</text>
<line x1="132.20" y1="216.10" x2="135.50" y2="216.10" stroke="#333" stroke-width="0.8"/>
<text x="132.00" y="219.60" font-size="8.4" text-anchor="end" font-weight="normal" fill="#000" stroke="#000" stroke-width="0.1">0.2</text>
<line x1="132.20" y1="254.50" x2="135.50" y2="254.50" stroke="#333" stroke-width="0.8"/>
<text x="132.00" y="258.00" font-size="8.4" text-anchor="end" font-weight="normal" fill="#000" stroke="#000" stroke-width="0.1">0</text>
<line x1="143.50" y1="254.50" x2="143.50" y2="257.00" stroke="#333" stroke-width="0.8"/>
<line x1="143.50" y1="188.60" x2="143.50" y2="188.60" stroke="#222" stroke-width="0.7"/>
<line x1="143.50" y1="210.60" x2="143.50" y2="210.60" stroke="#222" stroke-width="0.7"/>
<rect x="139.40" y="188.60" width="8.20" height="22.00" fill="#a0a0a0" stroke="#1a1a1a" stroke-width="0.8"/>
<line x1="139.40" y1="189.50" x2="147.60" y2="189.50" stroke="#222" stroke-width="0.8"/>
<line x1="155.20" y1="254.50" x2="155.20" y2="257.00" stroke="#333" stroke-width="0.8"/>
<line x1="155.20" y1="189.90" x2="155.20" y2="193.00" stroke="#222" stroke-width="0.7"/>
<line x1="155.20" y1="209.80" x2="155.20" y2="213.30" stroke="#222" stroke-width="0.7"/>
<rect x="151.10" y="193.00" width="8.20" height="16.80" fill="#a0a0a0" stroke="#1a1a1a" stroke-width="0.8"/>
<line x1="151.10" y1="204.00" x2="159.30" y2="204.00" stroke="#222" stroke-width="0.8"/>
<line x1="166.60" y1="254.50" x2="166.60" y2="257.00" stroke="#333" stroke-width="0.8"/>
<line x1="166.60" y1="190.40" x2="166.60" y2="194.30" stroke="#222" stroke-width="0.7"/>
<line x1="166.60" y1="211.40" x2="166.60" y2="213.80" stroke="#222" stroke-width="0.7"/>
<rect x="162.50" y="194.30" width="8.20" height="17.10" fill="#a0a0a0" stroke="#1a1a1a" stroke-width="0.8"/>
<line x1="162.50" y1="208.60" x2="170.70" y2="208.60" stroke="#222" stroke-width="0.8"/>
<circle cx="143.50" cy="188.60" r="1.50" fill="#7a7a7a" stroke="#111" stroke-width="0.6"/>
<rect x="144.50" y="188.00" width="3.00" height="3.00" fill="#acacac" stroke="#111" stroke-width="0.6"/>
<circle cx="141.00" cy="209.50" r="1.50" fill="#7a7a7a" stroke="#111" stroke-width="0.6"/>
<rect x="142.50" y="206.50" width="3.00" height="3.00" fill="#acacac" stroke="#111" stroke-width="0.6"/>
<rect x="145.00" y="208.00" width="3.00" height="3.00" fill="#acacac" stroke="#111" stroke-width="0.6"/>
<circle cx="155.20" cy="189.90" r="1.50" fill="#7a7a7a" stroke="#111" stroke-width="0.6"/>
<rect x="153.70" y="193.50" width="3.00" height="3.00" fill="#acacac" stroke="#111" stroke-width="0.6"/>
<circle cx="155.20" cy="204.00" r="1.50" fill="#7a7a7a" stroke="#111" stroke-width="0.6"/>
<rect x="153.70" y="205.50" width="3.00" height="3.00" fill="#acacac" stroke="#111" stroke-width="0.6"/>
<circle cx="155.20" cy="213.30" r="1.50" fill="#7a7a7a" stroke="#111" stroke-width="0.6"/>
<circle cx="166.60" cy="190.40" r="1.50" fill="#7a7a7a" stroke="#111" stroke-width="0.6"/>
<rect x="165.10" y="196.50" width="3.00" height="3.00" fill="#acacac" stroke="#111" stroke-width="0.6"/>
<rect x="162.50" y="207.10" width="3.00" height="3.00" fill="#acacac" stroke="#111" stroke-width="0.6"/>
<rect x="167.50" y="207.10" width="3.00" height="3.00" fill="#acacac" stroke="#111" stroke-width="0.6"/>
<rect x="165.10" y="212.30" width="3.00" height="3.00" fill="#acacac" stroke="#111" stroke-width="0.6"/>
<text x="146.50" y="262.90" font-size="7.75" text-anchor="end" font-weight="normal" fill="#000" stroke="#000" stroke-width="0.1" transform="rotate(-45 146.50 262.90) ">Precision</text>
<text x="158.20" y="262.90" font-size="7.75" text-anchor="end" font-weight="normal" fill="#000" stroke="#000" stroke-width="0.1" transform="rotate(-45 158.20 262.90) ">Recall</text>
<text x="169.60" y="262.90" font-size="7.75" text-anchor="end" font-weight="normal" fill="#000" stroke="#000" stroke-width="0.1" transform="rotate(-45 169.60 262.90) ">F1 score</text>
<line x1="279.60" y1="177.80" x2="279.60" y2="254.60" stroke="#333" stroke-width="0.8"/>
<line x1="279.60" y1="254.60" x2="320.00" y2="254.60" stroke="#333" stroke-width="0.8"/>
<line x1="276.30" y1="177.80" x2="279.60" y2="177.80" stroke="#333" stroke-width="0.8"/>
<text x="276.10" y="181.30" font-size="8.4" text-anchor="end" font-weight="normal" fill="#000" stroke="#000" stroke-width="0.1">0.8</text>
<line x1="276.30" y1="216.20" x2="279.60" y2="216.20" stroke="#333" stroke-width="0.8"/>
<text x="276.10" y="219.70" font-size="8.4" text-anchor="end" font-weight="normal" fill="#000" stroke="#000" stroke-width="0.1">0.4</text>
<line x1="276.30" y1="254.60" x2="279.60" y2="254.60" stroke="#333" stroke-width="0.8"/>
<text x="276.10" y="258.10" font-size="8.4" text-anchor="end" font-weight="normal" fill="#000" stroke="#000" stroke-width="0.1">0</text>
<line x1="287.95" y1="254.60" x2="287.95" y2="257.10" stroke="#333" stroke-width="0.8"/>
<line x1="287.95" y1="205.50" x2="287.95" y2="213.80" stroke="#222" stroke-width="0.7"/>
<line x1="287.95" y1="233.70" x2="287.95" y2="241.20" stroke="#222" stroke-width="0.7"/>
<rect x="283.90" y="213.80" width="8.10" height="19.90" fill="#a0a0a0" stroke="#1a1a1a" stroke-width="0.8"/>
<line x1="283.90" y1="224.60" x2="292.00" y2="224.60" stroke="#222" stroke-width="0.8"/>
<line x1="299.35" y1="254.60" x2="299.35" y2="257.10" stroke="#333" stroke-width="0.8"/>
<line x1="299.35" y1="205.00" x2="299.35" y2="213.00" stroke="#222" stroke-width="0.7"/>
<line x1="299.35" y1="234.40" x2="299.35" y2="239.50" stroke="#222" stroke-width="0.7"/>
<rect x="295.20" y="213.00" width="8.30" height="21.40" fill="#a0a0a0" stroke="#1a1a1a" stroke-width="0.8"/>
<line x1="295.20" y1="221.60" x2="303.50" y2="221.60" stroke="#222" stroke-width="0.8"/>
<line x1="310.75" y1="254.60" x2="310.75" y2="257.10" stroke="#333" stroke-width="0.8"/>
<line x1="310.75" y1="206.00" x2="310.75" y2="214.00" stroke="#222" stroke-width="0.7"/>
<line x1="310.75" y1="235.20" x2="310.75" y2="241.20" stroke="#222" stroke-width="0.7"/>
<rect x="306.60" y="214.00" width="8.30" height="21.20" fill="#a0a0a0" stroke="#1a1a1a" stroke-width="0.8"/>
<line x1="306.60" y1="223.40" x2="314.90" y2="223.40" stroke="#222" stroke-width="0.8"/>
<circle cx="288.00" cy="205.50" r="1.50" fill="#7a7a7a" stroke="#111" stroke-width="0.6"/>
<rect x="286.50" y="218.50" width="3.00" height="3.00" fill="#acacac" stroke="#111" stroke-width="0.6"/>
<rect x="286.50" y="223.10" width="3.00" height="3.00" fill="#acacac" stroke="#111" stroke-width="0.6"/>
<rect x="286.50" y="226.50" width="3.00" height="3.00" fill="#acacac" stroke="#111" stroke-width="0.6"/>
<circle cx="288.00" cy="241.20" r="1.50" fill="#7a7a7a" stroke="#111" stroke-width="0.6"/>
<circle cx="299.30" cy="205.00" r="1.50" fill="#7a7a7a" stroke="#111" stroke-width="0.6"/>
<rect x="296.00" y="220.10" width="3.00" height="3.00" fill="#acacac" stroke="#111" stroke-width="0.6"/>
<rect x="300.00" y="220.10" width="3.00" height="3.00" fill="#acacac" stroke="#111" stroke-width="0.6"/>
<rect x="297.80" y="226.50" width="3.00" height="3.00" fill="#acacac" stroke="#111" stroke-width="0.6"/>
<circle cx="299.30" cy="239.50" r="1.50" fill="#7a7a7a" stroke="#111" stroke-width="0.6"/>
<circle cx="310.70" cy="206.00" r="1.50" fill="#7a7a7a" stroke="#111" stroke-width="0.6"/>
<rect x="309.20" y="218.50" width="3.00" height="3.00" fill="#acacac" stroke="#111" stroke-width="0.6"/>
<rect x="309.20" y="221.90" width="3.00" height="3.00" fill="#acacac" stroke="#111" stroke-width="0.6"/>
<rect x="309.20" y="227.50" width="3.00" height="3.00" fill="#acacac" stroke="#111" stroke-width="0.6"/>
<rect x="309.20" y="239.70" width="3.00" height="3.00" fill="#acacac" stroke="#111" stroke-width="0.6"/>
<text x="290.95" y="263.00" font-size="7.75" text-anchor="end" font-weight="normal" fill="#000" stroke="#000" stroke-width="0.1" transform="rotate(-45 290.95 263.00) ">Precision</text>
<text x="302.35" y="263.00" font-size="7.75" text-anchor="end" font-weight="normal" fill="#000" stroke="#000" stroke-width="0.1" transform="rotate(-45 302.35 263.00) ">Recall</text>
<text x="313.75" y="263.00" font-size="7.75" text-anchor="end" font-weight="normal" fill="#000" stroke="#000" stroke-width="0.1" transform="rotate(-45 313.75 263.00) ">F1 score</text>
<text x="325.00" y="9.50" font-size="12" text-anchor="start" font-weight="bold" fill="#000">c</text>
<text x="395.90" y="13.50" font-size="10.6" text-anchor="middle" font-weight="normal" fill="#000" stroke="#000" stroke-width="0.1">Frequency</text>
<line x1="355.40" y1="18.40" x2="355.40" y2="122.20" stroke="#333" stroke-width="0.8"/>
<line x1="355.40" y1="122.20" x2="437.50" y2="122.20" stroke="#333" stroke-width="0.8"/>
<line x1="349.60" y1="18.40" x2="355.40" y2="18.40" stroke="#333" stroke-width="0.8"/>
<text x="345.80" y="21.70" font-size="9.3" text-anchor="end" font-weight="normal" fill="#000" stroke="#000" stroke-width="0.1">2</text>
<line x1="349.60" y1="44.35" x2="355.40" y2="44.35" stroke="#333" stroke-width="0.8"/>
<text x="345.80" y="47.65" font-size="9.3" text-anchor="end" font-weight="normal" fill="#000" stroke="#000" stroke-width="0.1">1</text>
<line x1="349.60" y1="70.30" x2="355.40" y2="70.30" stroke="#333" stroke-width="0.8"/>
<text x="345.80" y="73.60" font-size="9.3" text-anchor="end" font-weight="normal" fill="#000" stroke="#000" stroke-width="0.1">0</text>
<line x1="349.60" y1="96.25" x2="355.40" y2="96.25" stroke="#333" stroke-width="0.8"/>
<text x="345.80" y="99.55" font-size="9.3" text-anchor="end" font-weight="normal" fill="#000" stroke="#000" stroke-width="0.1">-1</text>
<line x1="349.60" y1="122.20" x2="355.40" y2="122.20" stroke="#333" stroke-width="0.8"/>
<text x="345.80" y="125.50" font-size="9.3" text-anchor="end" font-weight="normal" fill="#000" stroke="#000" stroke-width="0.1">-2</text>
<line x1="355.40" y1="122.20" x2="355.40" y2="127.60" stroke="#333" stroke-width="0.8"/>
<text x="355.40" y="136.70" font-size="9.3" text-anchor="middle" font-weight="normal" fill="#000" stroke="#000" stroke-width="0.1">-2</text>
<line x1="375.92" y1="122.20" x2="375.92" y2="127.60" stroke="#333" stroke-width="0.8"/>
<text x="375.92" y="136.70" font-size="9.3" text-anchor="middle" font-weight="normal" fill="#000" stroke="#000" stroke-width="0.1">-1</text>
<line x1="396.45" y1="122.20" x2="396.45" y2="127.60" stroke="#333" stroke-width="0.8"/>
<text x="396.45" y="136.70" font-size="9.3" text-anchor="middle" font-weight="normal" fill="#000" stroke="#000" stroke-width="0.1">0</text>
<line x1="416.98" y1="122.20" x2="416.98" y2="127.60" stroke="#333" stroke-width="0.8"/>
<text x="416.98" y="136.70" font-size="9.3" text-anchor="middle" font-weight="normal" fill="#000" stroke="#000" stroke-width="0.1">1</text>
<line x1="437.50" y1="122.20" x2="437.50" y2="127.60" stroke="#333" stroke-width="0.8"/>
<text x="437.50" y="136.70" font-size="9.3" text-anchor="middle" font-weight="normal" fill="#000" stroke="#000" stroke-width="0.1">2</text>
<line x1="396.45" y1="18.40" x2="396.45" y2="122.20" stroke="#333" stroke-width="0.8" stroke-dasharray="2.8,1.9"/>
<line x1="355.40" y1="96.10" x2="440.00" y2="96.10" stroke="#333" stroke-width="0.8" stroke-dasharray="2.8,1.9"/>
<text x="396.80" y="147.70" font-size="9.2" text-anchor="middle" font-weight="normal" fill="#000" stroke="#000" stroke-width="0.1">LDA1</text>
<text x="333.90" y="70.30" font-size="9.2" text-anchor="middle" font-weight="normal" fill="#000" stroke="#000" stroke-width="0.1" transform="rotate(-90 333.90 70.30) ">LDA2</text>
<rect x="376.00" y="37.60" width="6.00" height="6.00" fill="#a9aea9" stroke="#222" stroke-width="0.7"/>
<rect x="370.30" y="61.40" width="6.00" height="6.00" fill="#8f9a8f" stroke="#222" stroke-width="0.7"/>
<rect x="369.90" y="71.10" width="6.00" height="6.00" fill="#748474" stroke="#222" stroke-width="0.7"/>
<rect x="379.30" y="104.80" width="6.00" height="6.00" fill="#4c5c50" stroke="#222" stroke-width="0.7"/>
<circle cx="405.90" cy="62.10" r="3.10" fill="#eb9a86" stroke="#222" stroke-width="0.7"/>
<circle cx="417.50" cy="68.40" r="3.10" fill="#f4c49a" stroke="#222" stroke-width="0.7"/>
<circle cx="426.90" cy="68.70" r="3.10" fill="#d85050" stroke="#222" stroke-width="0.7"/>
<circle cx="412.50" cy="79.80" r="3.10" fill="#b5091f" stroke="#222" stroke-width="0.7"/>
<text x="325.00" y="157.50" font-size="12" text-anchor="start" font-weight="bold" fill="#000">d</text>
<text x="395.90" y="166.50" font-size="10.6" text-anchor="middle" font-weight="normal" fill="#000" stroke="#000" stroke-width="0.1">Transition</text>
<line x1="355.30" y1="176.50" x2="355.30" y2="279.30" stroke="#333" stroke-width="0.8"/>
<line x1="355.30" y1="279.30" x2="437.70" y2="279.30" stroke="#333" stroke-width="0.8"/>
<line x1="349.50" y1="176.50" x2="355.30" y2="176.50" stroke="#333" stroke-width="0.8"/>
<text x="345.70" y="179.80" font-size="9.3" text-anchor="end" font-weight="normal" fill="#000" stroke="#000" stroke-width="0.1">1</text>
<line x1="349.50" y1="202.20" x2="355.30" y2="202.20" stroke="#333" stroke-width="0.8"/>
<text x="345.70" y="205.50" font-size="9.3" text-anchor="end" font-weight="normal" fill="#000" stroke="#000" stroke-width="0.1">0</text>
<line x1="349.50" y1="227.90" x2="355.30" y2="227.90" stroke="#333" stroke-width="0.8"/>
<text x="345.70" y="231.20" font-size="9.3" text-anchor="end" font-weight="normal" fill="#000" stroke="#000" stroke-width="0.1">-1</text>
<line x1="349.50" y1="253.60" x2="355.30" y2="253.60" stroke="#333" stroke-width="0.8"/>
<text x="345.70" y="256.90" font-size="9.3" text-anchor="end" font-weight="normal" fill="#000" stroke="#000" stroke-width="0.1">-2</text>
<line x1="349.50" y1="279.30" x2="355.30" y2="279.30" stroke="#333" stroke-width="0.8"/>
<text x="345.70" y="282.60" font-size="9.3" text-anchor="end" font-weight="normal" fill="#000" stroke="#000" stroke-width="0.1">-3</text>
<line x1="355.30" y1="279.30" x2="355.30" y2="284.70" stroke="#333" stroke-width="0.8"/>
<text x="355.30" y="292.50" font-size="9.3" text-anchor="middle" font-weight="normal" fill="#000" stroke="#000" stroke-width="0.1">-2</text>
<line x1="375.90" y1="279.30" x2="375.90" y2="284.70" stroke="#333" stroke-width="0.8"/>
<text x="375.90" y="292.50" font-size="9.3" text-anchor="middle" font-weight="normal" fill="#000" stroke="#000" stroke-width="0.1">-1</text>
<line x1="396.50" y1="279.30" x2="396.50" y2="284.70" stroke="#333" stroke-width="0.8"/>
<text x="396.50" y="292.50" font-size="9.3" text-anchor="middle" font-weight="normal" fill="#000" stroke="#000" stroke-width="0.1">0</text>
<line x1="417.10" y1="279.30" x2="417.10" y2="284.70" stroke="#333" stroke-width="0.8"/>
<text x="417.10" y="292.50" font-size="9.3" text-anchor="middle" font-weight="normal" fill="#000" stroke="#000" stroke-width="0.1">1</text>
<line x1="437.70" y1="279.30" x2="437.70" y2="284.70" stroke="#333" stroke-width="0.8"/>
<text x="437.70" y="292.50" font-size="9.3" text-anchor="middle" font-weight="normal" fill="#000" stroke="#000" stroke-width="0.1">2</text>
<line x1="396.50" y1="176.50" x2="396.50" y2="279.30" stroke="#333" stroke-width="0.8" stroke-dasharray="2.8,1.9"/>
<line x1="355.30" y1="227.60" x2="440.20" y2="227.60" stroke="#333" stroke-width="0.8" stroke-dasharray="2.8,1.9"/>
<text x="396.80" y="302.40" font-size="9.2" text-anchor="middle" font-weight="normal" fill="#000" stroke="#000" stroke-width="0.1">LDA1</text>
<text x="333.90" y="227.90" font-size="9.2" text-anchor="middle" font-weight="normal" fill="#000" stroke="#000" stroke-width="0.1" transform="rotate(-90 333.90 227.90) ">LDA2</text>
<rect x="372.90" y="178.50" width="6.00" height="6.00" fill="#a9aea9" stroke="#222" stroke-width="0.7"/>
<rect x="368.60" y="183.00" width="6.00" height="6.00" fill="#8f9a8f" stroke="#222" stroke-width="0.7"/>
<rect x="374.00" y="187.40" width="6.00" height="6.00" fill="#748474" stroke="#222" stroke-width="0.7"/>
<rect x="371.90" y="250.80" width="6.00" height="6.00" fill="#4c5c50" stroke="#222" stroke-width="0.7"/>
<circle cx="413.20" cy="179.50" r="3.10" fill="#b5091f" stroke="#222" stroke-width="0.7"/>
<circle cx="416.70" cy="205.00" r="3.10" fill="#f4c49a" stroke="#222" stroke-width="0.7"/>
<circle cx="422.80" cy="207.00" r="3.10" fill="#d85050" stroke="#222" stroke-width="0.7"/>
<circle cx="416.70" cy="213.80" r="3.10" fill="#eb9a86" stroke="#222" stroke-width="0.7"/>
<rect x="401.10" y="245.10" width="69.40" height="27.00" fill="#fff" stroke="#333" stroke-width="0.8"/>
<text x="407.80" y="254.40" font-size="8.6" text-anchor="middle" font-weight="normal" fill="#000" stroke="#000" stroke-width="0.1">1</text>
<circle cx="407.80" cy="258.40" r="2.30" fill="#f4c49a" stroke="#222" stroke-width="0.6"/>
<rect x="405.50" y="264.80" width="4.60" height="4.60" fill="#a9aea9" stroke="#222" stroke-width="0.6"/>
<text x="419.55" y="254.40" font-size="8.6" text-anchor="middle" font-weight="normal" fill="#000" stroke="#000" stroke-width="0.1">2</text>
<circle cx="419.55" cy="258.40" r="2.30" fill="#eb9a86" stroke="#222" stroke-width="0.6"/>
<rect x="417.25" y="264.80" width="4.60" height="4.60" fill="#8f9a8f" stroke="#222" stroke-width="0.6"/>
<text x="431.30" y="254.40" font-size="8.6" text-anchor="middle" font-weight="normal" fill="#000" stroke="#000" stroke-width="0.1">3</text>
<circle cx="431.30" cy="258.40" r="2.30" fill="#d85050" stroke="#222" stroke-width="0.6"/>
<rect x="429.00" y="264.80" width="4.60" height="4.60" fill="#748474" stroke="#222" stroke-width="0.6"/>
<text x="443.05" y="254.40" font-size="8.6" text-anchor="middle" font-weight="normal" fill="#000" stroke="#000" stroke-width="0.1">4</text>
<circle cx="443.05" cy="258.40" r="2.30" fill="#b5091f" stroke="#222" stroke-width="0.6"/>
<rect x="440.75" y="264.80" width="4.60" height="4.60" fill="#4c5c50" stroke="#222" stroke-width="0.6"/>
<text x="449.30" y="254.20" font-size="7.8" text-anchor="start" font-weight="normal" fill="#000" stroke="#000" stroke-width="0.1">wk</text>
<text x="448.80" y="261.50" font-size="7.6" text-anchor="start" font-weight="normal" fill="#000" stroke="#000" stroke-width="0.1">CUS</text>
<text x="448.80" y="270.40" font-size="7.6" text-anchor="start" font-weight="normal" fill="#000" stroke="#000" stroke-width="0.1">CTRL</text>
<text x="460.40" y="9.20" font-size="11.5" text-anchor="start" font-weight="bold" fill="#000">h</text>
<text x="500.00" y="11.60" font-size="10.78" text-anchor="start" font-weight="normal" fill="#000" stroke="#000" stroke-width="0.1">Depression prediction score (%)</text>
<line x1="468.40" y1="18.00" x2="684.00" y2="18.00" stroke="#333" stroke-width="0.9"/>
<line x1="468.40" y1="32.80" x2="684.00" y2="32.80" stroke="#555" stroke-width="1.4"/>
<line x1="468.40" y1="86.60" x2="684.00" y2="86.60" stroke="#222" stroke-width="0.9"/>
<line x1="468.40" y1="140.60" x2="684.00" y2="140.60" stroke="#222" stroke-width="0.9"/>
<line x1="488.50" y1="50.90" x2="684.00" y2="50.90" stroke="#c8c8c8" stroke-width="0.8"/>
<line x1="488.50" y1="68.60" x2="684.00" y2="68.60" stroke="#c8c8c8" stroke-width="0.8"/>
<line x1="488.50" y1="104.50" x2="684.00" y2="104.50" stroke="#c8c8c8" stroke-width="0.8"/>
<line x1="488.50" y1="122.20" x2="684.00" y2="122.20" stroke="#c8c8c8" stroke-width="0.8"/>
<text x="561.70" y="30.20" font-size="9" text-anchor="middle" font-weight="normal" fill="#000" stroke="#000" stroke-width="0.1">wk1</text>
<text x="596.50" y="30.20" font-size="9" text-anchor="middle" font-weight="normal" fill="#000" stroke="#000" stroke-width="0.1">wk2</text>
<text x="632.00" y="30.20" font-size="9" text-anchor="middle" font-weight="normal" fill="#000" stroke="#000" stroke-width="0.1">wk3</text>
<text x="666.80" y="30.20" font-size="9" text-anchor="middle" font-weight="normal" fill="#000" stroke="#000" stroke-width="0.1">wk4</text>
<text x="516.80" y="45.90" font-size="9.2" text-anchor="middle" font-weight="normal" fill="#000" stroke="#000" stroke-width="0.1">Accuracy</text>
<text x="561.70" y="45.90" font-size="9.2" text-anchor="middle" font-weight="normal" fill="#000" stroke="#000" stroke-width="0.1">70.8</text>
<text x="596.50" y="45.90" font-size="9.2" text-anchor="middle" font-weight="normal" fill="#000" stroke="#000" stroke-width="0.1">74.0</text>
<text x="632.00" y="45.90" font-size="9.2" text-anchor="middle" font-weight="bold" fill="#000">80.2</text>
<text x="666.80" y="45.90" font-size="9.2" text-anchor="middle" font-weight="normal" fill="#000" stroke="#000" stroke-width="0.1">56.3</text>
<text x="516.80" y="63.70" font-size="9.2" text-anchor="middle" font-weight="normal" fill="#000" stroke="#000" stroke-width="0.1">Precision</text>
<text x="561.70" y="63.70" font-size="9.2" text-anchor="middle" font-weight="normal" fill="#000" stroke="#000" stroke-width="0.1">72.7</text>
<text x="596.50" y="63.70" font-size="9.2" text-anchor="middle" font-weight="normal" fill="#000" stroke="#000" stroke-width="0.1">73.5</text>
<text x="632.00" y="63.70" font-size="9.2" text-anchor="middle" font-weight="bold" fill="#000">78.4</text>
<text x="666.80" y="63.70" font-size="9.2" text-anchor="middle" font-weight="normal" fill="#000" stroke="#000" stroke-width="0.1">56.8</text>
<text x="516.80" y="81.70" font-size="9.2" text-anchor="middle" font-weight="normal" fill="#000" stroke="#000" stroke-width="0.1">Recall</text>
<text x="561.70" y="81.70" font-size="9.2" text-anchor="middle" font-weight="normal" fill="#000" stroke="#000" stroke-width="0.1">66.7</text>
<text x="596.50" y="81.70" font-size="9.2" text-anchor="middle" font-weight="normal" fill="#000" stroke="#000" stroke-width="0.1">75.0</text>
<text x="632.00" y="81.70" font-size="9.2" text-anchor="middle" font-weight="bold" fill="#000">83.3</text>
<text x="666.80" y="81.70" font-size="9.2" text-anchor="middle" font-weight="normal" fill="#000" stroke="#000" stroke-width="0.1">52.1</text>
<text x="516.80" y="99.60" font-size="9.2" text-anchor="middle" font-weight="normal" fill="#000" stroke="#000" stroke-width="0.1">Accuracy</text>
<text x="561.70" y="99.60" font-size="9.2" text-anchor="middle" font-weight="bold" fill="#000">83.3</text>
<text x="596.50" y="99.60" font-size="9.2" text-anchor="middle" font-weight="normal" fill="#000" stroke="#000" stroke-width="0.1">75.0</text>
<text x="632.00" y="99.60" font-size="9.2" text-anchor="middle" font-weight="bold" fill="#000">83.3</text>
<text x="666.80" y="99.60" font-size="9.2" text-anchor="middle" font-weight="normal" fill="#000" stroke="#000" stroke-width="0.1">76.0</text>
<text x="516.80" y="117.30" font-size="9.2" text-anchor="middle" font-weight="normal" fill="#000" stroke="#000" stroke-width="0.1">Precision</text>
<text x="561.70" y="117.30" font-size="9.2" text-anchor="middle" font-weight="normal" fill="#000" stroke="#000" stroke-width="0.1">80.8</text>
<text x="596.50" y="117.30" font-size="9.2" text-anchor="middle" font-weight="normal" fill="#000" stroke="#000" stroke-width="0.1">76.1</text>
<text x="632.00" y="117.30" font-size="9.2" text-anchor="middle" font-weight="bold" fill="#000">82.0</text>
<text x="666.80" y="117.30" font-size="9.2" text-anchor="middle" font-weight="normal" fill="#000" stroke="#000" stroke-width="0.1">77.8</text>
<text x="516.80" y="135.10" font-size="9.2" text-anchor="middle" font-weight="normal" fill="#000" stroke="#000" stroke-width="0.1">Recall</text>
<text x="561.70" y="135.10" font-size="9.2" text-anchor="middle" font-weight="bold" fill="#000">87.5</text>
<text x="596.50" y="135.10" font-size="9.2" text-anchor="middle" font-weight="normal" fill="#000" stroke="#000" stroke-width="0.1">72.9</text>
<text x="632.00" y="135.10" font-size="9.2" text-anchor="middle" font-weight="normal" fill="#000" stroke="#000" stroke-width="0.1">85.4</text>
<text x="666.80" y="135.10" font-size="9.2" text-anchor="middle" font-weight="normal" fill="#000" stroke="#000" stroke-width="0.1">72.9</text>
<text x="481.60" y="60.00" font-size="9" text-anchor="middle" font-weight="normal" fill="#000" stroke="#000" stroke-width="0.1" transform="rotate(-90 481.60 60.00) ">Freq</text>
<text x="481.60" y="113.40" font-size="9" text-anchor="middle" font-weight="normal" fill="#000" stroke="#000" stroke-width="0.1" transform="rotate(-90 481.60 113.40) ">Trans</text>
<text x="459.50" y="157.00" font-size="12" text-anchor="start" font-weight="bold" fill="#000">i</text>
<text x="528.2" y="160.6" font-size="10.7" text-anchor="middle" fill="#000" stroke="#000" stroke-width="0.1" transform="translate(528.2 160.6) scale(1 1.0) translate(-528.2 -160.6)"><tspan fill="#58695c" stroke="#58695c">CTRL</tspan> vs <tspan fill="#b4142e" stroke="#b4142e">CUS</tspan></text>
<text x="632.30" y="160.60" font-size="10.7" text-anchor="middle" font-weight="normal" fill="#000" stroke="#000" stroke-width="0.1">0wk vs 3wk</text>
<rect x="476.60" y="164.00" width="102.20" height="256.40" fill="#f8f8f8" stroke="none" stroke-width="0"/>
<rect x="581.40" y="164.00" width="103.60" height="256.40" fill="#f8f8f8" stroke="none" stroke-width="0"/>
<text x="528.20" y="181.30" font-size="9.35" text-anchor="middle" font-weight="normal" fill="#000" stroke="#000" stroke-width="0.1">Week 0</text>
<text x="633.00" y="181.30" font-size="9.35" text-anchor="middle" font-weight="normal" fill="#000" stroke="#000" stroke-width="0.1">CTRL</text>
<text x="528.20" y="307.50" font-size="9.35" text-anchor="middle" font-weight="normal" fill="#000" stroke="#000" stroke-width="0.1">Week 3</text>
<text x="633.00" y="307.50" font-size="9.35" text-anchor="middle" font-weight="normal" fill="#000" stroke="#000" stroke-width="0.1">CUS</text>
<line x1="480.00" y1="238.30" x2="574.80" y2="238.30" stroke="#888" stroke-width="0.5" stroke-dasharray="1.4,1"/>
<line x1="507.45" y1="194.46" x2="556.50" y2="273.96" stroke="#f05a68" stroke-width="2.1" stroke-opacity="0.55"/>
<line x1="545.50" y1="193.61" x2="554.81" y2="198.69" stroke="#e8404e" stroke-width="1.8" stroke-opacity="0.7"/>
<circle cx="480.00" cy="238.30" r="2.40" fill="#3d434d" stroke="none" stroke-width="0"/>
<circle cx="480.37" cy="232.22" r="2.40" fill="#3d434d" stroke="none" stroke-width="0"/>
<circle cx="481.49" cy="226.24" r="2.40" fill="#3d434d" stroke="none" stroke-width="0"/>
<circle cx="483.33" cy="220.45" r="2.40" fill="#3d434d" stroke="none" stroke-width="0"/>
<circle cx="485.86" cy="214.93" r="2.40" fill="#3d434d" stroke="none" stroke-width="0"/>
<circle cx="489.05" cy="209.79" r="2.40" fill="#3d434d" stroke="none" stroke-width="0"/>
<circle cx="492.85" cy="205.10" r="2.40" fill="#3d434d" stroke="none" stroke-width="0"/>
<circle cx="497.19" cy="200.93" r="2.40" fill="#3d434d" stroke="none" stroke-width="0"/>
<circle cx="502.00" cy="197.35" r="2.40" fill="#3d434d" stroke="none" stroke-width="0"/>
<circle cx="507.22" cy="194.42" r="2.40" fill="#3d434d" stroke="none" stroke-width="0"/>
<circle cx="512.75" cy="192.17" r="2.40" fill="#3d434d" stroke="none" stroke-width="0"/>
<circle cx="518.52" cy="190.66" r="2.40" fill="#3d434d" stroke="none" stroke-width="0"/>
<circle cx="524.42" cy="189.90" r="2.40" fill="#3d434d" stroke="none" stroke-width="0"/>
<circle cx="530.38" cy="189.90" r="2.40" fill="#3d434d" stroke="none" stroke-width="0"/>
<circle cx="536.28" cy="190.66" r="2.40" fill="#3d434d" stroke="none" stroke-width="0"/>
<circle cx="542.05" cy="192.17" r="2.40" fill="#3d434d" stroke="none" stroke-width="0"/>
<circle cx="547.58" cy="194.42" r="2.40" fill="#3d434d" stroke="none" stroke-width="0"/>
<circle cx="552.80" cy="197.35" r="2.40" fill="#3d434d" stroke="none" stroke-width="0"/>
<circle cx="557.61" cy="200.93" r="2.40" fill="#3d434d" stroke="none" stroke-width="0"/>
<circle cx="561.95" cy="205.10" r="2.40" fill="#3d434d" stroke="none" stroke-width="0"/>
<circle cx="565.75" cy="209.79" r="2.40" fill="#3d434d" stroke="none" stroke-width="0"/>
<circle cx="568.94" cy="214.93" r="2.40" fill="#3d434d" stroke="none" stroke-width="0"/>
<circle cx="571.47" cy="220.45" r="2.40" fill="#3d434d" stroke="none" stroke-width="0"/>
<circle cx="573.31" cy="226.24" r="2.40" fill="#3d434d" stroke="none" stroke-width="0"/>
<circle cx="574.43" cy="232.22" r="2.40" fill="#3d434d" stroke="none" stroke-width="0"/>
<circle cx="574.80" cy="238.30" r="2.40" fill="#3d434d" stroke="none" stroke-width="0"/>
<circle cx="574.43" cy="244.38" r="2.40" fill="#3d434d" stroke="none" stroke-width="0"/>
<circle cx="573.31" cy="250.36" r="2.40" fill="#3d434d" stroke="none" stroke-width="0"/>
<circle cx="571.47" cy="256.15" r="2.40" fill="#3d434d" stroke="none" stroke-width="0"/>
<circle cx="568.94" cy="261.67" r="2.40" fill="#3d434d" stroke="none" stroke-width="0"/>
<circle cx="565.75" cy="266.81" r="2.40" fill="#3d434d" stroke="none" stroke-width="0"/>
<circle cx="561.95" cy="271.50" r="2.40" fill="#3d434d" stroke="none" stroke-width="0"/>
<circle cx="557.61" cy="275.67" r="2.40" fill="#3d434d" stroke="none" stroke-width="0"/>
<circle cx="552.80" cy="279.25" r="2.40" fill="#3d434d" stroke="none" stroke-width="0"/>
<circle cx="547.58" cy="282.18" r="2.40" fill="#3d434d" stroke="none" stroke-width="0"/>
<circle cx="542.05" cy="284.43" r="2.40" fill="#3d434d" stroke="none" stroke-width="0"/>
<circle cx="536.28" cy="285.94" r="2.40" fill="#3d434d" stroke="none" stroke-width="0"/>
<circle cx="530.38" cy="286.70" r="2.40" fill="#3d434d" stroke="none" stroke-width="0"/>
<circle cx="524.42" cy="286.70" r="2.40" fill="#3d434d" stroke="none" stroke-width="0"/>
<circle cx="518.52" cy="285.94" r="2.40" fill="#3d434d" stroke="none" stroke-width="0"/>
<circle cx="512.75" cy="284.43" r="2.40" fill="#3d434d" stroke="none" stroke-width="0"/>
<circle cx="507.22" cy="282.18" r="2.40" fill="#3d434d" stroke="none" stroke-width="0"/>
<circle cx="502.00" cy="279.25" r="2.40" fill="#3d434d" stroke="none" stroke-width="0"/>
<circle cx="497.19" cy="275.67" r="2.40" fill="#3d434d" stroke="none" stroke-width="0"/>
<circle cx="492.85" cy="271.50" r="2.40" fill="#3d434d" stroke="none" stroke-width="0"/>
<circle cx="489.05" cy="266.81" r="2.40" fill="#3d434d" stroke="none" stroke-width="0"/>
<circle cx="485.86" cy="261.67" r="2.40" fill="#3d434d" stroke="none" stroke-width="0"/>
<circle cx="483.33" cy="256.15" r="2.40" fill="#3d434d" stroke="none" stroke-width="0"/>
<circle cx="481.49" cy="250.36" r="2.40" fill="#3d434d" stroke="none" stroke-width="0"/>
<circle cx="480.37" cy="244.38" r="2.40" fill="#3d434d" stroke="none" stroke-width="0"/>
<path d="M579.8,234.1 Q578.5,219 572.1,210.6" fill="none" stroke="#333" stroke-width="0.5"/>
<path d="M570.6,213.2 L572.1,210.6 L574.9,211.7" fill="none" stroke="#333" stroke-width="0.5"/>
<text x="578.80" y="241.80" font-size="7.5" text-anchor="middle" font-weight="normal" fill="#000" stroke="#000" stroke-width="0.1">1</text>
<line x1="585.20" y1="238.10" x2="680.00" y2="238.10" stroke="#888" stroke-width="0.5" stroke-dasharray="1.4,1"/>
<line x1="598.07" y1="204.61" x2="675.88" y2="218.98" stroke="#5a6ec8" stroke-width="2.1" stroke-opacity="0.45"/>
<line x1="614.98" y1="195.30" x2="656.42" y2="275.65" stroke="#5a6ec8" stroke-width="2.1" stroke-opacity="0.45"/>
<line x1="617.52" y1="193.61" x2="617.52" y2="280.72" stroke="#5a6ec8" stroke-width="2.1" stroke-opacity="0.45"/>
<line x1="623.44" y1="192.77" x2="613.29" y2="280.72" stroke="#5a6ec8" stroke-width="2.1" stroke-opacity="0.45"/>
<line x1="587.92" y1="235.05" x2="641.20" y2="285.80" stroke="#5a6ec8" stroke-width="2.1" stroke-opacity="0.45"/>
<line x1="587.92" y1="240.13" x2="613.29" y2="279.88" stroke="#5a6ec8" stroke-width="2.1" stroke-opacity="0.45"/>
<line x1="676.72" y1="235.05" x2="624.29" y2="284.95" stroke="#5a6ec8" stroke-width="2.1" stroke-opacity="0.45"/>
<line x1="598.07" y1="209.68" x2="587.07" y2="235.05" stroke="#5a6ec8" stroke-width="2.1" stroke-opacity="0.45"/>
<line x1="596.38" y1="211.37" x2="661.50" y2="273.96" stroke="#5a6ec8" stroke-width="2.1" stroke-opacity="0.45"/>
<line x1="663.19" y1="273.96" x2="626.67" y2="196.87" stroke="#e8404e" stroke-width="3.7" stroke-opacity="0.85"/>
<polygon points="625.13,193.61 629.51,195.85 624.09,198.42" fill="#e8404e" fill-opacity="0.85"/>
<line x1="675.88" y1="218.14" x2="678.41" y2="233.36" stroke="#e8404e" stroke-width="2.0" stroke-opacity="0.8"/>
<line x1="661.50" y1="271.42" x2="664.88" y2="277.34" stroke="#2c3e9a" stroke-width="1.5" stroke-opacity="0.9"/>
<circle cx="585.20" cy="238.10" r="2.40" fill="#3d434d" stroke="none" stroke-width="0"/>
<circle cx="585.57" cy="232.02" r="2.40" fill="#3d434d" stroke="none" stroke-width="0"/>
<circle cx="586.69" cy="226.04" r="2.40" fill="#3d434d" stroke="none" stroke-width="0"/>
<circle cx="588.53" cy="220.25" r="2.40" fill="#3d434d" stroke="none" stroke-width="0"/>
<circle cx="591.06" cy="214.73" r="2.40" fill="#3d434d" stroke="none" stroke-width="0"/>
<circle cx="594.25" cy="209.59" r="2.40" fill="#3d434d" stroke="none" stroke-width="0"/>
<circle cx="598.05" cy="204.90" r="2.40" fill="#3d434d" stroke="none" stroke-width="0"/>
<circle cx="602.39" cy="200.73" r="2.40" fill="#3d434d" stroke="none" stroke-width="0"/>
<circle cx="607.20" cy="197.15" r="2.40" fill="#3d434d" stroke="none" stroke-width="0"/>
<circle cx="612.42" cy="194.22" r="2.40" fill="#3d434d" stroke="none" stroke-width="0"/>
<circle cx="617.95" cy="191.97" r="2.40" fill="#3d434d" stroke="none" stroke-width="0"/>
<circle cx="623.72" cy="190.46" r="2.40" fill="#3d434d" stroke="none" stroke-width="0"/>
<circle cx="629.62" cy="189.70" r="2.40" fill="#3d434d" stroke="none" stroke-width="0"/>
<circle cx="635.58" cy="189.70" r="2.40" fill="#3d434d" stroke="none" stroke-width="0"/>
<circle cx="641.48" cy="190.46" r="2.40" fill="#3d434d" stroke="none" stroke-width="0"/>
<circle cx="647.25" cy="191.97" r="2.40" fill="#3d434d" stroke="none" stroke-width="0"/>
<circle cx="652.78" cy="194.22" r="2.40" fill="#3d434d" stroke="none" stroke-width="0"/>
<circle cx="658.00" cy="197.15" r="2.40" fill="#3d434d" stroke="none" stroke-width="0"/>
<circle cx="662.81" cy="200.73" r="2.40" fill="#3d434d" stroke="none" stroke-width="0"/>
<circle cx="667.15" cy="204.90" r="2.40" fill="#3d434d" stroke="none" stroke-width="0"/>
<circle cx="670.95" cy="209.59" r="2.40" fill="#3d434d" stroke="none" stroke-width="0"/>
<circle cx="674.14" cy="214.73" r="2.40" fill="#3d434d" stroke="none" stroke-width="0"/>
<circle cx="676.67" cy="220.25" r="2.40" fill="#3d434d" stroke="none" stroke-width="0"/>
<circle cx="678.51" cy="226.04" r="2.40" fill="#3d434d" stroke="none" stroke-width="0"/>
<circle cx="679.63" cy="232.02" r="2.40" fill="#3d434d" stroke="none" stroke-width="0"/>
<circle cx="680.00" cy="238.10" r="2.40" fill="#3d434d" stroke="none" stroke-width="0"/>
<circle cx="679.63" cy="244.18" r="2.40" fill="#3d434d" stroke="none" stroke-width="0"/>
<circle cx="678.51" cy="250.16" r="2.40" fill="#3d434d" stroke="none" stroke-width="0"/>
<circle cx="676.67" cy="255.95" r="2.40" fill="#3d434d" stroke="none" stroke-width="0"/>
<circle cx="674.14" cy="261.47" r="2.40" fill="#3d434d" stroke="none" stroke-width="0"/>
<circle cx="670.95" cy="266.61" r="2.40" fill="#3d434d" stroke="none" stroke-width="0"/>
<circle cx="667.15" cy="271.30" r="2.40" fill="#3d434d" stroke="none" stroke-width="0"/>
<circle cx="662.81" cy="275.47" r="2.40" fill="#3d434d" stroke="none" stroke-width="0"/>
<circle cx="658.00" cy="279.05" r="2.40" fill="#3d434d" stroke="none" stroke-width="0"/>
<circle cx="652.78" cy="281.98" r="2.40" fill="#3d434d" stroke="none" stroke-width="0"/>
<circle cx="647.25" cy="284.23" r="2.40" fill="#3d434d" stroke="none" stroke-width="0"/>
<circle cx="641.48" cy="285.74" r="2.40" fill="#3d434d" stroke="none" stroke-width="0"/>
<circle cx="635.58" cy="286.50" r="2.40" fill="#3d434d" stroke="none" stroke-width="0"/>
<circle cx="629.62" cy="286.50" r="2.40" fill="#3d434d" stroke="none" stroke-width="0"/>
<circle cx="623.72" cy="285.74" r="2.40" fill="#3d434d" stroke="none" stroke-width="0"/>
<circle cx="617.95" cy="284.23" r="2.40" fill="#3d434d" stroke="none" stroke-width="0"/>
<circle cx="612.42" cy="281.98" r="2.40" fill="#3d434d" stroke="none" stroke-width="0"/>
<circle cx="607.20" cy="279.05" r="2.40" fill="#3d434d" stroke="none" stroke-width="0"/>
<circle cx="602.39" cy="275.47" r="2.40" fill="#3d434d" stroke="none" stroke-width="0"/>
<circle cx="598.05" cy="271.30" r="2.40" fill="#3d434d" stroke="none" stroke-width="0"/>
<circle cx="594.25" cy="266.61" r="2.40" fill="#3d434d" stroke="none" stroke-width="0"/>
<circle cx="591.06" cy="261.47" r="2.40" fill="#3d434d" stroke="none" stroke-width="0"/>
<circle cx="588.53" cy="255.95" r="2.40" fill="#3d434d" stroke="none" stroke-width="0"/>
<circle cx="586.69" cy="250.16" r="2.40" fill="#3d434d" stroke="none" stroke-width="0"/>
<circle cx="585.57" cy="244.18" r="2.40" fill="#3d434d" stroke="none" stroke-width="0"/>
<line x1="480.00" y1="365.50" x2="574.80" y2="365.50" stroke="#888" stroke-width="0.5" stroke-dasharray="1.4,1"/>
<line x1="482.07" y1="365.59" x2="575.11" y2="365.59" stroke="#f05a68" stroke-width="2.3" stroke-opacity="0.55"/>
<line x1="506.60" y1="324.49" x2="542.51" y2="321.77" stroke="#f05a68" stroke-width="1.9" stroke-opacity="0.55"/>
<polygon points="544.66,321.61 542.46,323.58 542.19,319.99" fill="#f05a68" fill-opacity="0.55"/>
<line x1="548.04" y1="324.99" x2="560.73" y2="398.57" stroke="#f05a68" stroke-width="1.9" stroke-opacity="0.55"/>
<line x1="510.83" y1="407.88" x2="557.75" y2="399.79" stroke="#f05a68" stroke-width="1.9" stroke-opacity="0.55"/>
<polygon points="559.88,399.42 557.88,401.59 557.27,398.04" fill="#f05a68" fill-opacity="0.55"/>
<line x1="569.19" y1="381.66" x2="571.72" y2="385.04" stroke="#f05a68" stroke-width="1.8" stroke-opacity="0.5"/>
<line x1="532.82" y1="412.11" x2="544.66" y2="410.41" stroke="#f05a68" stroke-width="1.8" stroke-opacity="0.5"/>
<line x1="482.07" y1="364.74" x2="555.65" y2="329.22" stroke="#5a6ec8" stroke-width="1.9" stroke-opacity="0.42"/>
<line x1="514.21" y1="410.41" x2="572.57" y2="368.13" stroke="#5a6ec8" stroke-width="1.9" stroke-opacity="0.42"/>
<line x1="502.37" y1="406.19" x2="545.46" y2="328.15" stroke="#e8404e" stroke-width="3.7" stroke-opacity="0.8"/>
<polygon points="547.20,324.99 547.94,329.86 542.68,326.96" fill="#e8404e" fill-opacity="0.8"/>
<line x1="489.69" y1="392.65" x2="568.23" y2="373.22" stroke="#e8404e" stroke-width="3.7" stroke-opacity="0.8"/>
<polygon points="571.72,372.36 568.66,376.20 567.22,370.38" fill="#e8404e" fill-opacity="0.8"/>
<line x1="493.07" y1="391.81" x2="491.19" y2="392.18" stroke="#2c3e9a" stroke-width="2.5" stroke-opacity="0.9"/>
<polygon points="488.84,392.65 491.00,390.18 491.78,394.10" fill="#2c3e9a" fill-opacity="0.9"/>
<circle cx="480.00" cy="365.50" r="2.40" fill="#3d434d" stroke="none" stroke-width="0"/>
<circle cx="480.37" cy="359.42" r="2.40" fill="#3d434d" stroke="none" stroke-width="0"/>
<circle cx="481.49" cy="353.44" r="2.40" fill="#3d434d" stroke="none" stroke-width="0"/>
<circle cx="483.33" cy="347.65" r="2.40" fill="#3d434d" stroke="none" stroke-width="0"/>
<circle cx="485.86" cy="342.13" r="2.40" fill="#3d434d" stroke="none" stroke-width="0"/>
<circle cx="489.05" cy="336.99" r="2.40" fill="#3d434d" stroke="none" stroke-width="0"/>
<circle cx="492.85" cy="332.30" r="2.40" fill="#3d434d" stroke="none" stroke-width="0"/>
<circle cx="497.19" cy="328.13" r="2.40" fill="#3d434d" stroke="none" stroke-width="0"/>
<circle cx="502.00" cy="324.55" r="2.40" fill="#3d434d" stroke="none" stroke-width="0"/>
<circle cx="507.22" cy="321.62" r="2.40" fill="#3d434d" stroke="none" stroke-width="0"/>
<circle cx="512.75" cy="319.37" r="2.40" fill="#3d434d" stroke="none" stroke-width="0"/>
<circle cx="518.52" cy="317.86" r="2.40" fill="#3d434d" stroke="none" stroke-width="0"/>
<circle cx="524.42" cy="317.10" r="2.40" fill="#3d434d" stroke="none" stroke-width="0"/>
<circle cx="530.38" cy="317.10" r="2.40" fill="#3d434d" stroke="none" stroke-width="0"/>
<circle cx="536.28" cy="317.86" r="2.40" fill="#3d434d" stroke="none" stroke-width="0"/>
<circle cx="542.05" cy="319.37" r="2.40" fill="#3d434d" stroke="none" stroke-width="0"/>
<circle cx="547.58" cy="321.62" r="2.40" fill="#3d434d" stroke="none" stroke-width="0"/>
<circle cx="552.80" cy="324.55" r="2.40" fill="#3d434d" stroke="none" stroke-width="0"/>
<circle cx="557.61" cy="328.13" r="2.40" fill="#3d434d" stroke="none" stroke-width="0"/>
<circle cx="561.95" cy="332.30" r="2.40" fill="#3d434d" stroke="none" stroke-width="0"/>
<circle cx="565.75" cy="336.99" r="2.40" fill="#3d434d" stroke="none" stroke-width="0"/>
<circle cx="568.94" cy="342.13" r="2.40" fill="#3d434d" stroke="none" stroke-width="0"/>
<circle cx="571.47" cy="347.65" r="2.40" fill="#3d434d" stroke="none" stroke-width="0"/>
<circle cx="573.31" cy="353.44" r="2.40" fill="#3d434d" stroke="none" stroke-width="0"/>
<circle cx="574.43" cy="359.42" r="2.40" fill="#3d434d" stroke="none" stroke-width="0"/>
<circle cx="574.80" cy="365.50" r="2.40" fill="#3d434d" stroke="none" stroke-width="0"/>
<circle cx="574.43" cy="371.58" r="2.40" fill="#3d434d" stroke="none" stroke-width="0"/>
<circle cx="573.31" cy="377.56" r="2.40" fill="#3d434d" stroke="none" stroke-width="0"/>
<circle cx="571.47" cy="383.35" r="2.40" fill="#3d434d" stroke="none" stroke-width="0"/>
<circle cx="568.94" cy="388.87" r="2.40" fill="#3d434d" stroke="none" stroke-width="0"/>
<circle cx="565.75" cy="394.01" r="2.40" fill="#3d434d" stroke="none" stroke-width="0"/>
<circle cx="561.95" cy="398.70" r="2.40" fill="#3d434d" stroke="none" stroke-width="0"/>
<circle cx="557.61" cy="402.87" r="2.40" fill="#3d434d" stroke="none" stroke-width="0"/>
<circle cx="552.80" cy="406.45" r="2.40" fill="#3d434d" stroke="none" stroke-width="0"/>
<circle cx="547.58" cy="409.38" r="2.40" fill="#3d434d" stroke="none" stroke-width="0"/>
<circle cx="542.05" cy="411.63" r="2.40" fill="#3d434d" stroke="none" stroke-width="0"/>
<circle cx="536.28" cy="413.14" r="2.40" fill="#3d434d" stroke="none" stroke-width="0"/>
<circle cx="530.38" cy="413.90" r="2.40" fill="#3d434d" stroke="none" stroke-width="0"/>
<circle cx="524.42" cy="413.90" r="2.40" fill="#3d434d" stroke="none" stroke-width="0"/>
<circle cx="518.52" cy="413.14" r="2.40" fill="#3d434d" stroke="none" stroke-width="0"/>
<circle cx="512.75" cy="411.63" r="2.40" fill="#3d434d" stroke="none" stroke-width="0"/>
<circle cx="507.22" cy="409.38" r="2.40" fill="#3d434d" stroke="none" stroke-width="0"/>
<circle cx="502.00" cy="406.45" r="2.40" fill="#3d434d" stroke="none" stroke-width="0"/>
<circle cx="497.19" cy="402.87" r="2.40" fill="#3d434d" stroke="none" stroke-width="0"/>
<circle cx="492.85" cy="398.70" r="2.40" fill="#3d434d" stroke="none" stroke-width="0"/>
<circle cx="489.05" cy="394.01" r="2.40" fill="#3d434d" stroke="none" stroke-width="0"/>
<circle cx="485.86" cy="388.87" r="2.40" fill="#3d434d" stroke="none" stroke-width="0"/>
<circle cx="483.33" cy="383.35" r="2.40" fill="#3d434d" stroke="none" stroke-width="0"/>
<circle cx="481.49" cy="377.56" r="2.40" fill="#3d434d" stroke="none" stroke-width="0"/>
<circle cx="480.37" cy="371.58" r="2.40" fill="#3d434d" stroke="none" stroke-width="0"/>
<line x1="585.50" y1="365.50" x2="680.30" y2="365.50" stroke="#888" stroke-width="0.5" stroke-dasharray="1.4,1"/>
<line x1="592.15" y1="346.14" x2="656.42" y2="324.15" stroke="#f05a68" stroke-width="1.9" stroke-opacity="0.55"/>
<line x1="598.07" y1="333.45" x2="642.89" y2="321.61" stroke="#5a6ec8" stroke-width="2.4" stroke-opacity="0.5"/>
<line x1="600.61" y1="335.14" x2="658.96" y2="326.69" stroke="#f05a68" stroke-width="1.9" stroke-opacity="0.5"/>
<line x1="598.07" y1="335.99" x2="637.82" y2="320.77" stroke="#f05a68" stroke-width="1.9" stroke-opacity="0.55"/>
<line x1="607.37" y1="347.83" x2="622.60" y2="408.72" stroke="#f05a68" stroke-width="1.9" stroke-opacity="0.55"/>
<line x1="637.82" y1="320.77" x2="663.19" y2="400.27" stroke="#f05a68" stroke-width="1.9" stroke-opacity="0.55"/>
<line x1="615.83" y1="407.03" x2="666.57" y2="341.06" stroke="#f05a68" stroke-width="1.9" stroke-opacity="0.55"/>
<line x1="614.14" y1="334.30" x2="641.20" y2="413.80" stroke="#f05a68" stroke-width="1.9" stroke-opacity="0.55"/>
<line x1="587.92" y1="364.74" x2="676.72" y2="364.74" stroke="#f05a68" stroke-width="1.8" stroke-opacity="0.4"/>
<line x1="589.61" y1="353.75" x2="676.72" y2="353.75" stroke="#5a6ec8" stroke-width="1.9" stroke-opacity="0.42"/>
<line x1="589.61" y1="363.90" x2="659.81" y2="342.76" stroke="#5a6ec8" stroke-width="1.9" stroke-opacity="0.42"/>
<line x1="626.82" y1="319.07" x2="673.34" y2="356.29" stroke="#5a6ec8" stroke-width="1.9" stroke-opacity="0.42"/>
<line x1="614.14" y1="320.77" x2="649.66" y2="322.46" stroke="#5a6ec8" stroke-width="1.9" stroke-opacity="0.42"/>
<line x1="666.57" y1="347.83" x2="669.96" y2="385.04" stroke="#5a6ec8" stroke-width="1.9" stroke-opacity="0.42"/>
<line x1="620.90" y1="408.72" x2="654.73" y2="349.52" stroke="#5a6ec8" stroke-width="1.9" stroke-opacity="0.42"/>
<line x1="598.07" y1="391.81" x2="661.50" y2="337.68" stroke="#3d50aa" stroke-width="3.7" stroke-opacity="0.7"/>
<line x1="598.91" y1="395.19" x2="614.44" y2="321.66" stroke="#3d50aa" stroke-width="2.7" stroke-opacity="0.75"/>
<polygon points="614.98,319.07 616.55,322.33 612.24,321.42" fill="#3d50aa" fill-opacity="0.75"/>
<line x1="659.81" y1="328.38" x2="675.26" y2="368.55" stroke="#2c3e9a" stroke-width="5.0" stroke-opacity="0.9"/>
<polygon points="676.72,372.36 671.96,369.45 678.31,367.01" fill="#2c3e9a" fill-opacity="0.9"/>
<line x1="587.92" y1="364.74" x2="597.22" y2="390.96" stroke="#e8404e" stroke-width="2.4" stroke-opacity="0.8"/>
<line x1="598.07" y1="388.42" x2="667.44" y2="388.42" stroke="#e8404e" stroke-width="3.4" stroke-opacity="0.8"/>
<polygon points="670.80,388.42 667.16,391.22 667.16,385.62" fill="#e8404e" fill-opacity="0.8"/>
<circle cx="585.50" cy="365.50" r="2.40" fill="#3d434d" stroke="none" stroke-width="0"/>
<circle cx="585.87" cy="359.42" r="2.40" fill="#3d434d" stroke="none" stroke-width="0"/>
<circle cx="586.99" cy="353.44" r="2.40" fill="#3d434d" stroke="none" stroke-width="0"/>
<circle cx="588.83" cy="347.65" r="2.40" fill="#3d434d" stroke="none" stroke-width="0"/>
<circle cx="591.36" cy="342.13" r="2.40" fill="#3d434d" stroke="none" stroke-width="0"/>
<circle cx="594.55" cy="336.99" r="2.40" fill="#3d434d" stroke="none" stroke-width="0"/>
<circle cx="598.35" cy="332.30" r="2.40" fill="#3d434d" stroke="none" stroke-width="0"/>
<circle cx="602.69" cy="328.13" r="2.40" fill="#3d434d" stroke="none" stroke-width="0"/>
<circle cx="607.50" cy="324.55" r="2.40" fill="#3d434d" stroke="none" stroke-width="0"/>
<circle cx="612.72" cy="321.62" r="2.40" fill="#3d434d" stroke="none" stroke-width="0"/>
<circle cx="618.25" cy="319.37" r="2.40" fill="#3d434d" stroke="none" stroke-width="0"/>
<circle cx="624.02" cy="317.86" r="2.40" fill="#3d434d" stroke="none" stroke-width="0"/>
<circle cx="629.92" cy="317.10" r="2.40" fill="#3d434d" stroke="none" stroke-width="0"/>
<circle cx="635.88" cy="317.10" r="2.40" fill="#3d434d" stroke="none" stroke-width="0"/>
<circle cx="641.78" cy="317.86" r="2.40" fill="#3d434d" stroke="none" stroke-width="0"/>
<circle cx="647.55" cy="319.37" r="2.40" fill="#3d434d" stroke="none" stroke-width="0"/>
<circle cx="653.08" cy="321.62" r="2.40" fill="#3d434d" stroke="none" stroke-width="0"/>
<circle cx="658.30" cy="324.55" r="2.40" fill="#3d434d" stroke="none" stroke-width="0"/>
<circle cx="663.11" cy="328.13" r="2.40" fill="#3d434d" stroke="none" stroke-width="0"/>
<circle cx="667.45" cy="332.30" r="2.40" fill="#3d434d" stroke="none" stroke-width="0"/>
<circle cx="671.25" cy="336.99" r="2.40" fill="#3d434d" stroke="none" stroke-width="0"/>
<circle cx="674.44" cy="342.13" r="2.40" fill="#3d434d" stroke="none" stroke-width="0"/>
<circle cx="676.97" cy="347.65" r="2.40" fill="#3d434d" stroke="none" stroke-width="0"/>
<circle cx="678.81" cy="353.44" r="2.40" fill="#3d434d" stroke="none" stroke-width="0"/>
<circle cx="679.93" cy="359.42" r="2.40" fill="#3d434d" stroke="none" stroke-width="0"/>
<circle cx="680.30" cy="365.50" r="2.40" fill="#3d434d" stroke="none" stroke-width="0"/>
<circle cx="679.93" cy="371.58" r="2.40" fill="#3d434d" stroke="none" stroke-width="0"/>
<circle cx="678.81" cy="377.56" r="2.40" fill="#3d434d" stroke="none" stroke-width="0"/>
<circle cx="676.97" cy="383.35" r="2.40" fill="#3d434d" stroke="none" stroke-width="0"/>
<circle cx="674.44" cy="388.87" r="2.40" fill="#3d434d" stroke="none" stroke-width="0"/>
<circle cx="671.25" cy="394.01" r="2.40" fill="#3d434d" stroke="none" stroke-width="0"/>
<circle cx="667.45" cy="398.70" r="2.40" fill="#3d434d" stroke="none" stroke-width="0"/>
<circle cx="663.11" cy="402.87" r="2.40" fill="#3d434d" stroke="none" stroke-width="0"/>
<circle cx="658.30" cy="406.45" r="2.40" fill="#3d434d" stroke="none" stroke-width="0"/>
<circle cx="653.08" cy="409.38" r="2.40" fill="#3d434d" stroke="none" stroke-width="0"/>
<circle cx="647.55" cy="411.63" r="2.40" fill="#3d434d" stroke="none" stroke-width="0"/>
<circle cx="641.78" cy="413.14" r="2.40" fill="#3d434d" stroke="none" stroke-width="0"/>
<circle cx="635.88" cy="413.90" r="2.40" fill="#3d434d" stroke="none" stroke-width="0"/>
<circle cx="629.92" cy="413.90" r="2.40" fill="#3d434d" stroke="none" stroke-width="0"/>
<circle cx="624.02" cy="413.14" r="2.40" fill="#3d434d" stroke="none" stroke-width="0"/>
<circle cx="618.25" cy="411.63" r="2.40" fill="#3d434d" stroke="none" stroke-width="0"/>
<circle cx="612.72" cy="409.38" r="2.40" fill="#3d434d" stroke="none" stroke-width="0"/>
<circle cx="607.50" cy="406.45" r="2.40" fill="#3d434d" stroke="none" stroke-width="0"/>
<circle cx="602.69" cy="402.87" r="2.40" fill="#3d434d" stroke="none" stroke-width="0"/>
<circle cx="598.35" cy="398.70" r="2.40" fill="#3d434d" stroke="none" stroke-width="0"/>
<circle cx="594.55" cy="394.01" r="2.40" fill="#3d434d" stroke="none" stroke-width="0"/>
<circle cx="591.36" cy="388.87" r="2.40" fill="#3d434d" stroke="none" stroke-width="0"/>
<circle cx="588.83" cy="383.35" r="2.40" fill="#3d434d" stroke="none" stroke-width="0"/>
<circle cx="586.99" cy="377.56" r="2.40" fill="#3d434d" stroke="none" stroke-width="0"/>
<circle cx="585.87" cy="371.58" r="2.40" fill="#3d434d" stroke="none" stroke-width="0"/>
<line x1="482.50" y1="429.40" x2="494.60" y2="429.40" stroke="#f07a80" stroke-width="3.4"/>
<text x="499.70" y="432.60" font-size="9.25" text-anchor="start" font-weight="normal" fill="#000" stroke="#000" stroke-width="0.1">Up-regulated</text>
<line x1="482.50" y1="442.10" x2="494.60" y2="442.10" stroke="#3a4fa8" stroke-width="3.4"/>
<text x="499.70" y="445.30" font-size="9.25" text-anchor="start" font-weight="normal" fill="#000" stroke="#000" stroke-width="0.1">Down-regulated</text>
<text x="577.10" y="434.90" font-size="9.35" text-anchor="start" font-weight="normal" fill="#000" stroke="#000" stroke-width="0.1">Transition probability (%)</text>
<rect x="575.90" y="439.80" width="10.00" height="6.00" fill="#111" stroke="none" stroke-width="0"/>
<text x="589.30" y="446.00" font-size="9" text-anchor="start" font-weight="normal" fill="#000" stroke="#000" stroke-width="0.1">≥ 30</text>
<rect x="613.80" y="441.30" width="9.00" height="3.00" fill="#222" stroke="none" stroke-width="0"/>
<text x="626.30" y="446.00" font-size="9" text-anchor="start" font-weight="normal" fill="#000" stroke="#000" stroke-width="0.1">≥ 20</text>
<line x1="650.80" y1="442.80" x2="659.80" y2="442.80" stroke="#999" stroke-width="1"/>
<text x="663.90" y="446.00" font-size="9" text-anchor="start" font-weight="normal" fill="#000" stroke="#000" stroke-width="0.1">≥ 10</text>
<text x="1.00" y="311.40" font-size="12" text-anchor="start" font-weight="bold" fill="#000">e</text>
<text x="223.70" y="314.60" font-size="10.82" text-anchor="middle" font-weight="normal" fill="#000" stroke="#000" stroke-width="0.1">Time point analysis in depression pathogenesis</text>
<line x1="40.70" y1="320.50" x2="40.70" y2="424.40" stroke="#333" stroke-width="0.8"/>
<line x1="40.70" y1="424.40" x2="399.00" y2="424.40" stroke="#333" stroke-width="0.8"/>
<line x1="34.30" y1="332.00" x2="40.70" y2="332.00" stroke="#333" stroke-width="0.8"/>
<text x="31.20" y="335.20" font-size="9" text-anchor="end" font-weight="normal" fill="#000" stroke="#000" stroke-width="0.1">1wk</text>
<line x1="34.30" y1="358.50" x2="40.70" y2="358.50" stroke="#333" stroke-width="0.8"/>
<text x="31.20" y="361.70" font-size="9" text-anchor="end" font-weight="normal" fill="#000" stroke="#000" stroke-width="0.1">2wk</text>
<line x1="34.30" y1="384.70" x2="40.70" y2="384.70" stroke="#333" stroke-width="0.8"/>
<text x="31.20" y="387.90" font-size="9" text-anchor="end" font-weight="normal" fill="#000" stroke="#000" stroke-width="0.1">3wk</text>
<line x1="34.30" y1="411.20" x2="40.70" y2="411.20" stroke="#333" stroke-width="0.8"/>
<text x="31.20" y="414.40" font-size="9" text-anchor="end" font-weight="normal" fill="#000" stroke="#000" stroke-width="0.1">4wk</text>
<line x1="53.30" y1="424.40" x2="53.30" y2="430.60" stroke="#333" stroke-width="0.8"/>
<text x="53.90" y="440.10" font-size="9.5" text-anchor="middle" font-weight="normal" fill="#000" stroke="#000" stroke-width="0.1">30</text>
<circle cx="53.30" cy="332.00" r="3.40" fill="#ee1111" stroke="none" stroke-width="0"/>
<circle cx="53.30" cy="358.50" r="3.40" fill="#00007a" stroke="none" stroke-width="0"/>
<circle cx="53.30" cy="384.70" r="6.50" fill="#00003c" stroke="none" stroke-width="0"/>
<circle cx="53.30" cy="411.20" r="3.40" fill="#0a0aff" stroke="none" stroke-width="0"/>
<line x1="71.61" y1="424.40" x2="71.61" y2="430.60" stroke="#333" stroke-width="0.8"/>
<text x="72.21" y="440.10" font-size="9.5" text-anchor="middle" font-weight="normal" fill="#000" stroke="#000" stroke-width="0.1">25</text>
<circle cx="71.61" cy="332.00" r="3.40" fill="#f01414" stroke="none" stroke-width="0"/>
<circle cx="71.61" cy="358.50" r="6.50" fill="#000080" stroke="none" stroke-width="0"/>
<circle cx="71.61" cy="384.70" r="6.50" fill="#000036" stroke="none" stroke-width="0"/>
<circle cx="71.61" cy="411.20" r="3.40" fill="#dcdcff" stroke="none" stroke-width="0"/>
<line x1="89.92" y1="424.40" x2="89.92" y2="430.60" stroke="#333" stroke-width="0.8"/>
<text x="90.52" y="440.10" font-size="9.5" text-anchor="middle" font-weight="normal" fill="#000" stroke="#000" stroke-width="0.1">32</text>
<circle cx="89.92" cy="332.00" r="6.50" fill="#ec0000" stroke="none" stroke-width="0"/>
<circle cx="89.92" cy="358.50" r="3.40" fill="#0000a0" stroke="none" stroke-width="0"/>
<circle cx="89.92" cy="384.70" r="3.40" fill="#000066" stroke="none" stroke-width="0"/>
<circle cx="89.92" cy="411.20" r="3.40" fill="#3535ff" stroke="none" stroke-width="0"/>
<line x1="108.23" y1="424.40" x2="108.23" y2="430.60" stroke="#333" stroke-width="0.8"/>
<text x="108.83" y="440.10" font-size="9.5" text-anchor="middle" font-weight="normal" fill="#000" stroke="#000" stroke-width="0.1">47</text>
<circle cx="108.23" cy="332.00" r="3.40" fill="#f52424" stroke="none" stroke-width="0"/>
<circle cx="108.23" cy="358.50" r="6.50" fill="#00004c" stroke="none" stroke-width="0"/>
<circle cx="108.23" cy="384.70" r="3.40" fill="#0000c8" stroke="none" stroke-width="0"/>
<circle cx="108.23" cy="411.20" r="3.40" fill="#ffb0b0" stroke="none" stroke-width="0"/>
<line x1="126.54" y1="424.40" x2="126.54" y2="430.60" stroke="#333" stroke-width="0.8"/>
<text x="127.14" y="440.10" font-size="9.5" text-anchor="middle" font-weight="normal" fill="#000" stroke="#000" stroke-width="0.1">17</text>
<circle cx="126.54" cy="332.00" r="8.00" fill="#ff2020" stroke="none" stroke-width="0"/>
<circle cx="126.54" cy="358.50" r="8.00" fill="#0000ff" stroke="none" stroke-width="0"/>
<circle cx="126.54" cy="384.70" r="8.00" fill="#000088" stroke="none" stroke-width="0"/>
<circle cx="126.54" cy="411.20" r="3.40" fill="#eeeeff" stroke="none" stroke-width="0"/>
<line x1="144.85" y1="424.40" x2="144.85" y2="430.60" stroke="#333" stroke-width="0.8"/>
<text x="145.45" y="440.10" font-size="9.5" text-anchor="middle" font-weight="normal" fill="#000" stroke="#000" stroke-width="0.1">37</text>
<circle cx="144.85" cy="332.00" r="3.40" fill="#dcdcff" stroke="none" stroke-width="0"/>
<circle cx="144.85" cy="358.50" r="3.40" fill="#5555ff" stroke="none" stroke-width="0"/>
<circle cx="144.85" cy="384.70" r="6.50" fill="#1010ff" stroke="none" stroke-width="0"/>
<circle cx="144.85" cy="411.20" r="3.40" fill="#ffb4b4" stroke="none" stroke-width="0"/>
<line x1="163.16" y1="424.40" x2="163.16" y2="430.60" stroke="#333" stroke-width="0.8"/>
<text x="163.76" y="440.10" font-size="9.5" text-anchor="middle" font-weight="normal" fill="#000" stroke="#000" stroke-width="0.1">21</text>
<circle cx="163.16" cy="332.00" r="3.40" fill="#9999ff" stroke="none" stroke-width="0"/>
<circle cx="163.16" cy="358.50" r="3.40" fill="#bbbbff" stroke="none" stroke-width="0"/>
<circle cx="163.16" cy="384.70" r="6.50" fill="#9999ff" stroke="none" stroke-width="0"/>
<circle cx="163.16" cy="411.20" r="6.50" fill="#8888ff" stroke="none" stroke-width="0"/>
<line x1="181.47" y1="424.40" x2="181.47" y2="430.60" stroke="#333" stroke-width="0.8"/>
<text x="182.07" y="440.10" font-size="9.5" text-anchor="middle" font-weight="normal" fill="#000" stroke="#000" stroke-width="0.1">31</text>
<circle cx="181.47" cy="332.00" r="9.30" fill="#3535ff" stroke="none" stroke-width="0"/>
<circle cx="181.47" cy="358.50" r="3.40" fill="#f8f8ff" stroke="none" stroke-width="0"/>
<circle cx="181.47" cy="384.70" r="3.40" fill="#ffdddd" stroke="none" stroke-width="0"/>
<circle cx="181.47" cy="411.20" r="3.40" fill="#fff4f4" stroke="none" stroke-width="0"/>
<line x1="199.78" y1="424.40" x2="199.78" y2="430.60" stroke="#333" stroke-width="0.8"/>
<text x="200.38" y="440.10" font-size="9.5" text-anchor="middle" font-weight="normal" fill="#000" stroke="#000" stroke-width="0.1">12</text>
<circle cx="199.78" cy="332.00" r="3.40" fill="#ffdada" stroke="none" stroke-width="0"/>
<circle cx="199.78" cy="358.50" r="3.40" fill="#d8d8ff" stroke="none" stroke-width="0"/>
<circle cx="199.78" cy="384.70" r="3.40" fill="#3030ff" stroke="none" stroke-width="0"/>
<circle cx="199.78" cy="411.20" r="3.40" fill="#ee5555" stroke="none" stroke-width="0"/>
<line x1="218.09" y1="424.40" x2="218.09" y2="430.60" stroke="#333" stroke-width="0.8"/>
<text x="218.69" y="440.10" font-size="9.5" text-anchor="middle" font-weight="normal" fill="#000" stroke="#000" stroke-width="0.1">7</text>
<circle cx="218.09" cy="332.00" r="6.50" fill="#9999ff" stroke="none" stroke-width="0"/>
<circle cx="218.09" cy="358.50" r="3.40" fill="#ffd6d6" stroke="none" stroke-width="0"/>
<circle cx="218.09" cy="384.70" r="3.40" fill="#ff8080" stroke="none" stroke-width="0"/>
<circle cx="218.09" cy="411.20" r="3.40" fill="#ffc8c8" stroke="none" stroke-width="0"/>
<line x1="236.40" y1="424.40" x2="236.40" y2="430.60" stroke="#333" stroke-width="0.8"/>
<text x="237.00" y="440.10" font-size="9.5" text-anchor="middle" font-weight="normal" fill="#000" stroke="#000" stroke-width="0.1">38</text>
<circle cx="236.40" cy="332.00" r="3.40" fill="#d0d0ff" stroke="none" stroke-width="0"/>
<circle cx="236.40" cy="358.50" r="3.40" fill="#ffbbbb" stroke="none" stroke-width="0"/>
<circle cx="236.40" cy="384.70" r="6.50" fill="#ff6666" stroke="none" stroke-width="0"/>
<circle cx="236.40" cy="411.20" r="3.40" fill="#ffd8d8" stroke="none" stroke-width="0"/>
<line x1="254.71" y1="424.40" x2="254.71" y2="430.60" stroke="#333" stroke-width="0.8"/>
<text x="255.31" y="440.10" font-size="9.5" text-anchor="middle" font-weight="normal" fill="#000" stroke="#000" stroke-width="0.1">50</text>
<circle cx="254.71" cy="332.00" r="3.40" fill="#dcdcff" stroke="none" stroke-width="0"/>
<circle cx="254.71" cy="358.50" r="3.40" fill="#ffaaaa" stroke="none" stroke-width="0"/>
<circle cx="254.71" cy="384.70" r="8.00" fill="#ff4444" stroke="none" stroke-width="0"/>
<circle cx="254.71" cy="411.20" r="3.40" fill="#ffeaea" stroke="none" stroke-width="0"/>
<line x1="273.02" y1="424.40" x2="273.02" y2="430.60" stroke="#333" stroke-width="0.8"/>
<text x="273.62" y="440.10" font-size="9.5" text-anchor="middle" font-weight="normal" fill="#000" stroke="#000" stroke-width="0.1">28</text>
<circle cx="273.02" cy="332.00" r="3.40" fill="#fff0f0" stroke="none" stroke-width="0"/>
<circle cx="273.02" cy="358.50" r="3.40" fill="#ff9999" stroke="none" stroke-width="0"/>
<circle cx="273.02" cy="384.70" r="8.00" fill="#dd0000" stroke="none" stroke-width="0"/>
<circle cx="273.02" cy="411.20" r="3.40" fill="#5555ff" stroke="none" stroke-width="0"/>
<line x1="291.33" y1="424.40" x2="291.33" y2="430.60" stroke="#333" stroke-width="0.8"/>
<text x="291.93" y="440.10" font-size="9.5" text-anchor="middle" font-weight="normal" fill="#000" stroke="#000" stroke-width="0.1">46</text>
<circle cx="291.33" cy="332.00" r="3.40" fill="#ee4444" stroke="none" stroke-width="0"/>
<circle cx="291.33" cy="358.50" r="3.40" fill="#ffcccc" stroke="none" stroke-width="0"/>
<circle cx="291.33" cy="384.70" r="3.40" fill="#ccccff" stroke="none" stroke-width="0"/>
<circle cx="291.33" cy="411.20" r="6.50" fill="#ff5555" stroke="none" stroke-width="0"/>
<line x1="309.64" y1="424.40" x2="309.64" y2="430.60" stroke="#333" stroke-width="0.8"/>
<text x="310.24" y="440.10" font-size="9.5" text-anchor="middle" font-weight="normal" fill="#000" stroke="#000" stroke-width="0.1">8</text>
<circle cx="309.64" cy="332.00" r="3.40" fill="#dcdcff" stroke="none" stroke-width="0"/>
<circle cx="309.64" cy="358.50" r="6.50" fill="#ff9090" stroke="none" stroke-width="0"/>
<circle cx="309.64" cy="384.70" r="9.30" fill="#ff1a1a" stroke="none" stroke-width="0"/>
<circle cx="309.64" cy="411.20" r="3.40" fill="#ffcccc" stroke="none" stroke-width="0"/>
<line x1="327.95" y1="424.40" x2="327.95" y2="430.60" stroke="#333" stroke-width="0.8"/>
<text x="328.55" y="440.10" font-size="9.5" text-anchor="middle" font-weight="normal" fill="#000" stroke="#000" stroke-width="0.1">1</text>
<circle cx="327.95" cy="332.00" r="6.50" fill="#ff5555" stroke="none" stroke-width="0"/>
<circle cx="327.95" cy="358.50" r="3.40" fill="#ff9090" stroke="none" stroke-width="0"/>
<circle cx="327.95" cy="384.70" r="3.40" fill="#ff8080" stroke="none" stroke-width="0"/>
<circle cx="327.95" cy="411.20" r="3.40" fill="#f6f6ff" stroke="none" stroke-width="0"/>
<line x1="346.26" y1="424.40" x2="346.26" y2="430.60" stroke="#333" stroke-width="0.8"/>
<text x="346.86" y="440.10" font-size="9.5" text-anchor="middle" font-weight="normal" fill="#000" stroke="#000" stroke-width="0.1">43</text>
<circle cx="346.26" cy="332.00" r="3.40" fill="#ff7777" stroke="none" stroke-width="0"/>
<circle cx="346.26" cy="358.50" r="3.40" fill="#ff7777" stroke="none" stroke-width="0"/>
<circle cx="346.26" cy="384.70" r="8.00" fill="#ee0000" stroke="none" stroke-width="0"/>
<circle cx="346.26" cy="411.20" r="3.40" fill="#ee2222" stroke="none" stroke-width="0"/>
<line x1="364.57" y1="424.40" x2="364.57" y2="430.60" stroke="#333" stroke-width="0.8"/>
<text x="365.17" y="440.10" font-size="9.5" text-anchor="middle" font-weight="normal" fill="#000" stroke="#000" stroke-width="0.1">42</text>
<circle cx="364.57" cy="332.00" r="3.40" fill="#ff7777" stroke="none" stroke-width="0"/>
<circle cx="364.57" cy="358.50" r="8.00" fill="#ee0000" stroke="none" stroke-width="0"/>
<circle cx="364.57" cy="384.70" r="9.30" fill="#cc0000" stroke="none" stroke-width="0"/>
<circle cx="364.57" cy="411.20" r="3.40" fill="#ffaaaa" stroke="none" stroke-width="0"/>
<line x1="382.88" y1="424.40" x2="382.88" y2="430.60" stroke="#333" stroke-width="0.8"/>
<text x="383.48" y="440.10" font-size="9.5" text-anchor="middle" font-weight="normal" fill="#000" stroke="#000" stroke-width="0.1">26</text>
<circle cx="382.88" cy="332.00" r="6.50" fill="#ff5555" stroke="none" stroke-width="0"/>
<circle cx="382.88" cy="358.50" r="3.40" fill="#ff6060" stroke="none" stroke-width="0"/>
<circle cx="382.88" cy="384.70" r="8.00" fill="#bb0000" stroke="none" stroke-width="0"/>
<circle cx="382.88" cy="411.20" r="3.40" fill="#ee2222" stroke="none" stroke-width="0"/>
<text x="228.80" y="454.30" font-size="9.4" text-anchor="middle" font-weight="normal" fill="#000" stroke="#000" stroke-width="0.1">Cluster number</text>
<text x="415.00" y="320.60" font-size="9" text-anchor="start" font-weight="normal" fill="#000" stroke="#000" stroke-width="0.1">p-value</text>
<circle cx="419.40" cy="329.30" r="3.65" fill="#000" stroke="none" stroke-width="0"/>
<text x="430.20" y="332.10" font-size="7.8" text-anchor="start" font-weight="normal" fill="#000" stroke="#000" stroke-width="0.1">&gt; 0.05</text>
<circle cx="419.40" cy="340.20" r="5.35" fill="#000" stroke="none" stroke-width="0"/>
<text x="430.20" y="343.00" font-size="7.8" text-anchor="start" font-weight="normal" fill="#000" stroke="#000" stroke-width="0.1">&lt; 0.05</text>
<circle cx="419.40" cy="354.50" r="7.50" fill="#000" stroke="none" stroke-width="0"/>
<text x="430.20" y="357.30" font-size="7.8" text-anchor="start" font-weight="normal" fill="#000" stroke="#000" stroke-width="0.1">&lt; 0.01</text>
<circle cx="419.40" cy="372.40" r="8.50" fill="#000" stroke="none" stroke-width="0"/>
<text x="430.20" y="375.20" font-size="7.8" text-anchor="start" font-weight="normal" fill="#000" stroke="#000" stroke-width="0.1">&lt; 0.001</text>
<defs><linearGradient id="seis" x1="0" x2="0" y1="1" y2="0"><stop offset="0" stop-color="#0000b0"/><stop offset="0.2" stop-color="#0000f0"/><stop offset="0.3" stop-color="#2020ff"/><stop offset="0.5" stop-color="#ffffff"/><stop offset="0.72" stop-color="#ff0000"/><stop offset="1" stop-color="#900000"/></linearGradient></defs>
<rect x="425.40" y="388.90" width="6.80" height="39.80" fill="url(#seis)" stroke="#222" stroke-width="0.5"/>
<text x="436.60" y="393.20" font-size="9" text-anchor="start" font-weight="normal" fill="#000" stroke="#000" stroke-width="0.1">2</text>
<text x="436.60" y="414.10" font-size="9" text-anchor="start" font-weight="normal" fill="#000" stroke="#000" stroke-width="0.1">0</text>
<text x="434.80" y="433.60" font-size="9" text-anchor="start" font-weight="normal" fill="#000" stroke="#000" stroke-width="0.1">-2</text>
<text x="421.6" y="409" font-size="9" text-anchor="middle" fill="#000" stroke="#000" stroke-width="0.1" transform="rotate(-90 421.6 409) translate(421.6 409) scale(1 1.0) translate(-421.6 -409)">log<tspan font-size="6.5" dy="1.8">2</tspan><tspan dy="-1.8">(FC)</tspan></text>
<text x="1.80" y="470.30" font-size="11.5" text-anchor="start" font-weight="bold" fill="#000">f</text>
<text x="220.60" y="472.20" font-size="10.9" text-anchor="middle" font-weight="normal" fill="#000" stroke="#000" stroke-width="0.1">Global feature importance</text>
<line x1="82.60" y1="474.00" x2="82.60" y2="581.30" stroke="#333" stroke-width="0.8"/>
<line x1="82.60" y1="581.30" x2="352.00" y2="581.30" stroke="#333" stroke-width="0.8"/>
<line x1="82.60" y1="581.30" x2="82.60" y2="586.30" stroke="#333" stroke-width="0.8"/>
<text x="82.60" y="598.20" font-size="9" text-anchor="middle" font-weight="normal" fill="#000" stroke="#000" stroke-width="0.1">0</text>
<line x1="149.95" y1="581.30" x2="149.95" y2="586.30" stroke="#333" stroke-width="0.8"/>
<text x="149.95" y="598.20" font-size="9" text-anchor="middle" font-weight="normal" fill="#000" stroke="#000" stroke-width="0.1">0.02</text>
<line x1="217.30" y1="581.30" x2="217.30" y2="586.30" stroke="#333" stroke-width="0.8"/>
<text x="217.30" y="598.20" font-size="9" text-anchor="middle" font-weight="normal" fill="#000" stroke="#000" stroke-width="0.1">0.04</text>
<line x1="284.65" y1="581.30" x2="284.65" y2="586.30" stroke="#333" stroke-width="0.8"/>
<text x="284.65" y="598.20" font-size="9" text-anchor="middle" font-weight="normal" fill="#000" stroke="#000" stroke-width="0.1">0.06</text>
<line x1="352.00" y1="581.30" x2="352.00" y2="586.30" stroke="#333" stroke-width="0.8"/>
<text x="352.00" y="598.20" font-size="9" text-anchor="middle" font-weight="normal" fill="#000" stroke="#000" stroke-width="0.1">0.08</text>
<text x="215.30" y="611.20" font-size="9" text-anchor="middle" font-weight="normal" fill="#000" stroke="#000" stroke-width="0.1">Mean (|SHAP value|)</text>
<rect x="82.60" y="480.80" width="63.70" height="12.70" fill="#e9c4a0" stroke="#3a2a2a" stroke-width="0.6"/>
<rect x="146.30" y="480.80" width="36.80" height="12.70" fill="#dd9a88" stroke="#3a2a2a" stroke-width="0.6"/>
<rect x="183.10" y="480.80" width="97.10" height="12.70" fill="#e57a4a" stroke="#3a2a2a" stroke-width="0.6"/>
<rect x="280.20" y="480.80" width="61.30" height="12.70" fill="#b0101e" stroke="#3a2a2a" stroke-width="0.6"/>
<text x="344.80" y="489.50" font-size="9.5" text-anchor="start" font-weight="normal" fill="#000" stroke="#000" stroke-width="0.1">31</text>
<line x1="77.40" y1="487.15" x2="82.60" y2="487.15" stroke="#333" stroke-width="0.8"/>
<text x="73.00" y="485.20" font-size="9.3" text-anchor="end" font-weight="normal" fill="#000" stroke="#000" stroke-width="0.1">wall rear up and</text>
<text x="73.00" y="496.30" font-size="9.3" text-anchor="end" font-weight="normal" fill="#000" stroke="#000" stroke-width="0.1">explore</text>
<rect x="82.60" y="501.30" width="73.50" height="12.70" fill="#e9c4a0" stroke="#3a2a2a" stroke-width="0.6"/>
<rect x="156.10" y="501.30" width="70.80" height="12.70" fill="#dd9a88" stroke="#3a2a2a" stroke-width="0.6"/>
<rect x="226.90" y="501.30" width="36.80" height="12.70" fill="#e57a4a" stroke="#3a2a2a" stroke-width="0.6"/>
<rect x="263.70" y="501.30" width="34.00" height="12.70" fill="#b0101e" stroke="#3a2a2a" stroke-width="0.6"/>
<text x="306.90" y="510.00" font-size="9.5" text-anchor="start" font-weight="normal" fill="#000" stroke="#000" stroke-width="0.1">7</text>
<line x1="77.40" y1="507.65" x2="82.60" y2="507.65" stroke="#333" stroke-width="0.8"/>
<text x="73.00" y="507.90" font-size="9.3" text-anchor="end" font-weight="normal" fill="#000" stroke="#000" stroke-width="0.1">wall rear up and</text>
<text x="73.00" y="518.70" font-size="9.3" text-anchor="end" font-weight="normal" fill="#000" stroke="#000" stroke-width="0.1">sniff</text>
<rect x="82.60" y="521.30" width="53.20" height="12.70" fill="#e9c4a0" stroke="#3a2a2a" stroke-width="0.6"/>
<rect x="135.80" y="521.30" width="30.50" height="12.70" fill="#dd9a88" stroke="#3a2a2a" stroke-width="0.6"/>
<rect x="166.30" y="521.30" width="87.60" height="12.70" fill="#e57a4a" stroke="#3a2a2a" stroke-width="0.6"/>
<rect x="253.90" y="521.30" width="23.50" height="12.70" fill="#b0101e" stroke="#3a2a2a" stroke-width="0.6"/>
<text x="286.70" y="530.20" font-size="9.5" text-anchor="start" font-weight="normal" fill="#000" stroke="#000" stroke-width="0.1">3</text>
<line x1="77.40" y1="527.65" x2="82.60" y2="527.65" stroke="#333" stroke-width="0.8"/>
<text x="73.00" y="531.30" font-size="9.3" text-anchor="end" font-weight="normal" fill="#000" stroke="#000" stroke-width="0.1">fast walk</text>
<rect x="82.60" y="541.40" width="66.90" height="12.70" fill="#e9c4a0" stroke="#3a2a2a" stroke-width="0.6"/>
<rect x="149.50" y="541.40" width="33.60" height="12.70" fill="#dd9a88" stroke="#3a2a2a" stroke-width="0.6"/>
<rect x="183.10" y="541.40" width="60.60" height="12.70" fill="#e57a4a" stroke="#3a2a2a" stroke-width="0.6"/>
<rect x="243.70" y="541.40" width="30.50" height="12.70" fill="#b0101e" stroke="#3a2a2a" stroke-width="0.6"/>
<text x="281.60" y="550.60" font-size="9.5" text-anchor="start" font-weight="normal" fill="#000" stroke="#000" stroke-width="0.1">32</text>
<line x1="77.40" y1="547.75" x2="82.60" y2="547.75" stroke="#333" stroke-width="0.8"/>
<text x="73.00" y="551.70" font-size="9.3" text-anchor="end" font-weight="normal" fill="#000" stroke="#000" stroke-width="0.1">head turn (fast)</text>
<rect x="82.60" y="561.80" width="32.70" height="12.70" fill="#e9c4a0" stroke="#3a2a2a" stroke-width="0.6"/>
<rect x="115.30" y="561.80" width="51.00" height="12.70" fill="#dd9a88" stroke="#3a2a2a" stroke-width="0.6"/>
<rect x="166.30" y="561.80" width="50.10" height="12.70" fill="#e57a4a" stroke="#3a2a2a" stroke-width="0.6"/>
<rect x="216.40" y="561.80" width="41.00" height="12.70" fill="#b0101e" stroke="#3a2a2a" stroke-width="0.6"/>
<text x="267.00" y="571.10" font-size="9.5" text-anchor="start" font-weight="normal" fill="#000" stroke="#000" stroke-width="0.1">4</text>
<line x1="77.40" y1="568.15" x2="82.60" y2="568.15" stroke="#333" stroke-width="0.8"/>
<text x="73.00" y="571.30" font-size="9.3" text-anchor="end" font-weight="normal" fill="#000" stroke="#000" stroke-width="0.1">sedate</text>
<rect x="299.30" y="559.10" width="5.60" height="5.60" fill="#e9c4a0" stroke="#222" stroke-width="0.6"/>
<text x="307.60" y="564.30" font-size="7.8" text-anchor="start" font-weight="normal" fill="#000" stroke="#000" stroke-width="0.1">1wk</text>
<rect x="326.20" y="559.10" width="5.60" height="5.60" fill="#dd9a88" stroke="#222" stroke-width="0.6"/>
<text x="334.50" y="564.30" font-size="7.8" text-anchor="start" font-weight="normal" fill="#000" stroke="#000" stroke-width="0.1">2wk</text>
<rect x="299.30" y="570.40" width="5.60" height="5.60" fill="#e57a4a" stroke="#222" stroke-width="0.6"/>
<text x="307.60" y="575.60" font-size="7.8" text-anchor="start" font-weight="normal" fill="#000" stroke="#000" stroke-width="0.1">3wk</text>
<rect x="326.20" y="570.40" width="5.60" height="5.60" fill="#b0101e" stroke="#222" stroke-width="0.6"/>
<text x="334.50" y="575.60" font-size="7.8" text-anchor="start" font-weight="normal" fill="#000" stroke="#000" stroke-width="0.1">4wk</text>
<text x="371.00" y="471.30" font-size="12" text-anchor="start" font-weight="bold" fill="#000">g</text>
<text x="445.6" y="474.2" font-size="10.88" fill="#000" stroke="#000" stroke-width="0.1" transform="translate(445.6 474.2) scale(1 1.0) translate(-445.6 -474.2)">Top five impactful clusters: <tspan fill="#e8703a" stroke="#e8703a">CUS 3wk</tspan></text>
<text x="431.80" y="488.20" font-size="9.2" text-anchor="middle" font-weight="normal" fill="#000" stroke="#000" stroke-width="0.1">Syllable name</text>
<text x="486.20" y="488.20" font-size="9" text-anchor="middle" font-weight="normal" fill="#000" stroke="#000" stroke-width="0.1">#</text>
<text x="588.20" y="488.20" font-size="9.25" text-anchor="middle" font-weight="normal" fill="#000" stroke="#000" stroke-width="0.1">SHAP value</text>
<rect x="379.10" y="491.40" width="304.70" height="104.40" fill="none" stroke="#999" stroke-width="0.9"/>
<line x1="475.30" y1="491.40" x2="475.30" y2="595.80" stroke="#999" stroke-width="0.9"/>
<line x1="492.90" y1="491.40" x2="492.90" y2="595.80" stroke="#999" stroke-width="0.9"/>
<line x1="379.10" y1="512.30" x2="492.90" y2="512.30" stroke="#999" stroke-width="0.9"/>
<line x1="379.10" y1="533.20" x2="492.90" y2="533.20" stroke="#999" stroke-width="0.9"/>
<line x1="379.10" y1="554.10" x2="492.90" y2="554.10" stroke="#999" stroke-width="0.9"/>
<line x1="379.10" y1="575.00" x2="492.90" y2="575.00" stroke="#999" stroke-width="0.9"/>
<text x="468.80" y="506.85" font-size="9.3" text-anchor="end" font-weight="normal" fill="#000" stroke="#000" stroke-width="0.1">rotate in place</text>
<text x="484.40" y="506.85" font-size="9.3" text-anchor="middle" font-weight="normal" fill="#000" stroke="#000" stroke-width="0.1">17</text>
<text x="468.80" y="527.75" font-size="9.3" text-anchor="end" font-weight="normal" fill="#000" stroke="#000" stroke-width="0.1">sedate (high nose)</text>
<text x="484.40" y="527.75" font-size="9.3" text-anchor="middle" font-weight="normal" fill="#000" stroke="#000" stroke-width="0.1">8</text>
<text x="468.80" y="548.65" font-size="9.3" text-anchor="end" font-weight="normal" fill="#000" stroke="#000" stroke-width="0.1">back groom</text>
<text x="484.40" y="548.65" font-size="9.3" text-anchor="middle" font-weight="normal" fill="#000" stroke="#000" stroke-width="0.1">25</text>
<text x="468.80" y="569.55" font-size="9.3" text-anchor="end" font-weight="normal" fill="#000" stroke="#000" stroke-width="0.1">stand</text>
<text x="484.40" y="569.55" font-size="9.3" text-anchor="middle" font-weight="normal" fill="#000" stroke="#000" stroke-width="0.1">28</text>
<text x="468.80" y="590.40" font-size="9.3" text-anchor="end" font-weight="normal" fill="#000" stroke="#000" stroke-width="0.1">sniff</text>
<text x="484.40" y="590.40" font-size="9.3" text-anchor="middle" font-weight="normal" fill="#000" stroke="#000" stroke-width="0.1">23</text>
<line x1="494.00" y1="504.20" x2="683.00" y2="504.20" stroke="#d8d8d8" stroke-width="0.5" stroke-dasharray="1,1.5"/>
<line x1="494.00" y1="523.70" x2="683.00" y2="523.70" stroke="#d8d8d8" stroke-width="0.5" stroke-dasharray="1,1.5"/>
<line x1="494.00" y1="543.50" x2="683.00" y2="543.50" stroke="#d8d8d8" stroke-width="0.5" stroke-dasharray="1,1.5"/>
<line x1="494.00" y1="563.80" x2="683.00" y2="563.80" stroke="#d8d8d8" stroke-width="0.5" stroke-dasharray="1,1.5"/>
<line x1="494.00" y1="583.50" x2="683.00" y2="583.50" stroke="#d8d8d8" stroke-width="0.5" stroke-dasharray="1,1.5"/>
<line x1="584.20" y1="492.00" x2="584.20" y2="595.30" stroke="#cfcfcf" stroke-width="1"/>
<text x="511.80" y="606.40" font-size="9" text-anchor="middle" font-weight="normal" fill="#000" stroke="#000" stroke-width="0.1">-0.5</text>
<text x="584.20" y="606.40" font-size="9" text-anchor="middle" font-weight="normal" fill="#000" stroke="#000" stroke-width="0.1">0</text>
<text x="656.60" y="606.40" font-size="9" text-anchor="middle" font-weight="normal" fill="#000" stroke="#000" stroke-width="0.1">0.5</text>
<text x="583.80" y="614.60" font-size="9.2" text-anchor="middle" font-weight="normal" fill="#000" stroke="#000" stroke-width="0.1">SHAP feature value</text>
<defs><linearGradient id="hl" x1="0" x2="0" y1="0" y2="1"><stop offset="0" stop-color="#ff0052"/><stop offset="1" stop-color="#008bfb"/></linearGradient></defs>
<rect x="501.60" y="559.00" width="1.40" height="30.00" fill="url(#hl)" stroke="none" stroke-width="0"/>
<text x="504.60" y="562.60" font-size="7.4" text-anchor="start" font-weight="normal" fill="#000" stroke="#000" stroke-width="0.1">High</text>
<text x="505.40" y="589.40" font-size="7.4" text-anchor="start" font-weight="normal" fill="#000" stroke="#000" stroke-width="0.1">Low</text>
<circle cx="545.42" cy="505.66" r="1.10" fill="rgb(53,109,215)" stroke="none" stroke-width="0"/>
<circle cx="550.98" cy="504.51" r="1.10" fill="rgb(117,74,173)" stroke="none" stroke-width="0"/>
<circle cx="555.33" cy="501.71" r="1.10" fill="rgb(132,66,163)" stroke="none" stroke-width="0"/>
<circle cx="550.35" cy="500.27" r="1.10" fill="rgb(57,107,212)" stroke="none" stroke-width="0"/>
<circle cx="535.21" cy="503.26" r="1.10" fill="rgb(86,91,193)" stroke="none" stroke-width="0"/>
<circle cx="553.47" cy="505.08" r="1.10" fill="rgb(243,6,89)" stroke="none" stroke-width="0"/>
<circle cx="540.84" cy="507.41" r="1.10" fill="rgb(48,112,218)" stroke="none" stroke-width="0"/>
<circle cx="543.89" cy="507.41" r="1.10" fill="rgb(101,83,184)" stroke="none" stroke-width="0"/>
<circle cx="549.51" cy="502.37" r="1.10" fill="rgb(215,21,108)" stroke="none" stroke-width="0"/>
<circle cx="550.13" cy="501.25" r="1.10" fill="rgb(164,49,142)" stroke="none" stroke-width="0"/>
<circle cx="542.78" cy="504.59" r="1.10" fill="rgb(51,110,216)" stroke="none" stroke-width="0"/>
<circle cx="541.92" cy="500.85" r="1.10" fill="rgb(82,93,196)" stroke="none" stroke-width="0"/>
<circle cx="544.04" cy="502.52" r="1.10" fill="rgb(165,48,141)" stroke="none" stroke-width="0"/>
<circle cx="540.35" cy="503.90" r="1.10" fill="rgb(103,82,182)" stroke="none" stroke-width="0"/>
<circle cx="550.36" cy="501.86" r="1.10" fill="rgb(162,50,143)" stroke="none" stroke-width="0"/>
<circle cx="536.49" cy="504.28" r="1.10" fill="rgb(227,14,99)" stroke="none" stroke-width="0"/>
<circle cx="546.51" cy="508.97" r="1.10" fill="rgb(63,104,208)" stroke="none" stroke-width="0"/>
<circle cx="541.36" cy="503.61" r="1.10" fill="rgb(202,28,116)" stroke="none" stroke-width="0"/>
<circle cx="552.12" cy="500.52" r="1.10" fill="rgb(183,39,129)" stroke="none" stroke-width="0"/>
<circle cx="554.12" cy="505.89" r="1.10" fill="rgb(162,50,143)" stroke="none" stroke-width="0"/>
<circle cx="551.73" cy="505.82" r="1.10" fill="rgb(167,47,140)" stroke="none" stroke-width="0"/>
<circle cx="542.85" cy="504.86" r="1.10" fill="rgb(137,64,160)" stroke="none" stroke-width="0"/>
<circle cx="556.61" cy="504.09" r="1.10" fill="rgb(182,39,130)" stroke="none" stroke-width="0"/>
<circle cx="532.57" cy="503.64" r="1.10" fill="rgb(190,35,124)" stroke="none" stroke-width="0"/>
<circle cx="533.52" cy="504.73" r="1.10" fill="rgb(99,84,184)" stroke="none" stroke-width="0"/>
<circle cx="529.04" cy="504.15" r="1.10" fill="rgb(183,39,129)" stroke="none" stroke-width="0"/>
<circle cx="555.25" cy="502.39" r="1.10" fill="rgb(63,104,208)" stroke="none" stroke-width="0"/>
<circle cx="548.41" cy="499.84" r="1.10" fill="rgb(204,27,115)" stroke="none" stroke-width="0"/>
<circle cx="551.03" cy="503.25" r="1.10" fill="rgb(227,15,100)" stroke="none" stroke-width="0"/>
<circle cx="551.24" cy="500.59" r="1.10" fill="rgb(135,65,161)" stroke="none" stroke-width="0"/>
<circle cx="532.99" cy="504.66" r="1.10" fill="rgb(225,16,101)" stroke="none" stroke-width="0"/>
<circle cx="542.69" cy="502.39" r="1.10" fill="rgb(128,69,165)" stroke="none" stroke-width="0"/>
<circle cx="537.78" cy="506.14" r="1.10" fill="rgb(70,100,203)" stroke="none" stroke-width="0"/>
<circle cx="558.93" cy="503.31" r="1.10" fill="rgb(88,90,192)" stroke="none" stroke-width="0"/>
<circle cx="548.15" cy="505.08" r="1.10" fill="rgb(95,87,187)" stroke="none" stroke-width="0"/>
<circle cx="555.57" cy="501.63" r="1.10" fill="rgb(129,68,165)" stroke="none" stroke-width="0"/>
<circle cx="540.90" cy="507.28" r="1.10" fill="rgb(187,36,126)" stroke="none" stroke-width="0"/>
<circle cx="554.13" cy="504.30" r="1.10" fill="rgb(172,45,136)" stroke="none" stroke-width="0"/>
<circle cx="546.20" cy="508.15" r="1.10" fill="rgb(207,25,113)" stroke="none" stroke-width="0"/>
<circle cx="545.12" cy="507.78" r="1.10" fill="rgb(211,23,111)" stroke="none" stroke-width="0"/>
<circle cx="541.58" cy="501.29" r="1.10" fill="rgb(175,43,134)" stroke="none" stroke-width="0"/>
<circle cx="551.85" cy="500.61" r="1.10" fill="rgb(52,110,215)" stroke="none" stroke-width="0"/>
<circle cx="548.38" cy="502.62" r="1.10" fill="rgb(49,111,218)" stroke="none" stroke-width="0"/>
<circle cx="551.44" cy="499.96" r="1.10" fill="rgb(71,100,203)" stroke="none" stroke-width="0"/>
<circle cx="552.81" cy="500.66" r="1.10" fill="rgb(227,14,100)" stroke="none" stroke-width="0"/>
<circle cx="551.37" cy="505.17" r="1.10" fill="rgb(70,100,204)" stroke="none" stroke-width="0"/>
<circle cx="547.18" cy="502.84" r="1.10" fill="rgb(64,103,208)" stroke="none" stroke-width="0"/>
<circle cx="553.96" cy="506.48" r="1.10" fill="rgb(253,0,82)" stroke="none" stroke-width="0"/>
<circle cx="539.14" cy="502.00" r="1.10" fill="rgb(60,106,210)" stroke="none" stroke-width="0"/>
<circle cx="549.04" cy="502.67" r="1.10" fill="rgb(95,86,187)" stroke="none" stroke-width="0"/>
<circle cx="549.32" cy="499.62" r="1.10" fill="rgb(244,5,89)" stroke="none" stroke-width="0"/>
<circle cx="543.50" cy="504.45" r="1.10" fill="rgb(70,100,204)" stroke="none" stroke-width="0"/>
<circle cx="545.64" cy="504.47" r="1.10" fill="rgb(250,2,85)" stroke="none" stroke-width="0"/>
<circle cx="546.82" cy="507.83" r="1.10" fill="rgb(189,35,125)" stroke="none" stroke-width="0"/>
<circle cx="546.79" cy="500.88" r="1.10" fill="rgb(205,26,114)" stroke="none" stroke-width="0"/>
<circle cx="554.18" cy="504.41" r="1.10" fill="rgb(207,26,113)" stroke="none" stroke-width="0"/>
<circle cx="544.81" cy="507.14" r="1.10" fill="rgb(251,1,84)" stroke="none" stroke-width="0"/>
<circle cx="551.79" cy="507.10" r="1.10" fill="rgb(212,22,109)" stroke="none" stroke-width="0"/>
<circle cx="552.22" cy="502.04" r="1.10" fill="rgb(150,56,151)" stroke="none" stroke-width="0"/>
<circle cx="536.47" cy="503.73" r="1.10" fill="rgb(44,114,221)" stroke="none" stroke-width="0"/>
<circle cx="553.05" cy="502.45" r="1.10" fill="rgb(188,36,126)" stroke="none" stroke-width="0"/>
<circle cx="548.30" cy="508.72" r="1.10" fill="rgb(135,65,161)" stroke="none" stroke-width="0"/>
<circle cx="567.15" cy="504.31" r="1.10" fill="rgb(117,75,173)" stroke="none" stroke-width="0"/>
<circle cx="538.97" cy="502.75" r="1.10" fill="rgb(87,91,193)" stroke="none" stroke-width="0"/>
<circle cx="548.88" cy="505.41" r="1.10" fill="rgb(233,11,96)" stroke="none" stroke-width="0"/>
<circle cx="551.90" cy="506.98" r="1.10" fill="rgb(142,61,156)" stroke="none" stroke-width="0"/>
<circle cx="539.84" cy="501.75" r="1.10" fill="rgb(181,40,130)" stroke="none" stroke-width="0"/>
<circle cx="536.63" cy="505.59" r="1.10" fill="rgb(207,25,113)" stroke="none" stroke-width="0"/>
<circle cx="547.28" cy="500.99" r="1.10" fill="rgb(209,24,112)" stroke="none" stroke-width="0"/>
<circle cx="539.02" cy="503.33" r="1.10" fill="rgb(211,23,110)" stroke="none" stroke-width="0"/>
<circle cx="554.43" cy="503.59" r="1.10" fill="rgb(243,6,89)" stroke="none" stroke-width="0"/>
<circle cx="545.99" cy="506.41" r="1.10" fill="rgb(75,98,201)" stroke="none" stroke-width="0"/>
<circle cx="550.17" cy="507.94" r="1.10" fill="rgb(213,22,109)" stroke="none" stroke-width="0"/>
<circle cx="550.24" cy="500.95" r="1.10" fill="rgb(217,20,106)" stroke="none" stroke-width="0"/>
<circle cx="557.79" cy="503.68" r="1.10" fill="rgb(157,53,146)" stroke="none" stroke-width="0"/>
<circle cx="545.97" cy="500.57" r="1.10" fill="rgb(41,116,223)" stroke="none" stroke-width="0"/>
<circle cx="557.59" cy="504.30" r="1.10" fill="rgb(240,7,91)" stroke="none" stroke-width="0"/>
<circle cx="545.37" cy="503.56" r="1.10" fill="rgb(227,15,100)" stroke="none" stroke-width="0"/>
<circle cx="549.57" cy="501.84" r="1.10" fill="rgb(101,83,183)" stroke="none" stroke-width="0"/>
<circle cx="542.85" cy="502.05" r="1.10" fill="rgb(165,48,141)" stroke="none" stroke-width="0"/>
<circle cx="546.83" cy="500.52" r="1.10" fill="rgb(235,10,94)" stroke="none" stroke-width="0"/>
<circle cx="554.81" cy="503.35" r="1.10" fill="rgb(137,64,159)" stroke="none" stroke-width="0"/>
<circle cx="533.69" cy="504.06" r="1.10" fill="rgb(237,9,93)" stroke="none" stroke-width="0"/>
<circle cx="539.43" cy="504.21" r="1.10" fill="rgb(153,55,149)" stroke="none" stroke-width="0"/>
<circle cx="545.88" cy="503.61" r="1.10" fill="rgb(77,96,199)" stroke="none" stroke-width="0"/>
<circle cx="547.07" cy="499.24" r="1.10" fill="rgb(211,23,110)" stroke="none" stroke-width="0"/>
<circle cx="551.12" cy="506.16" r="1.10" fill="rgb(158,52,145)" stroke="none" stroke-width="0"/>
<circle cx="554.52" cy="503.15" r="1.10" fill="rgb(150,56,151)" stroke="none" stroke-width="0"/>
<circle cx="535.36" cy="503.18" r="1.10" fill="rgb(159,51,145)" stroke="none" stroke-width="0"/>
<circle cx="542.95" cy="502.10" r="1.10" fill="rgb(98,85,185)" stroke="none" stroke-width="0"/>
<circle cx="548.48" cy="504.81" r="1.10" fill="rgb(202,28,116)" stroke="none" stroke-width="0"/>
<circle cx="538.74" cy="506.26" r="1.10" fill="rgb(134,65,161)" stroke="none" stroke-width="0"/>
<circle cx="540.74" cy="504.28" r="1.10" fill="rgb(188,36,126)" stroke="none" stroke-width="0"/>
<circle cx="541.69" cy="503.85" r="1.10" fill="rgb(153,55,149)" stroke="none" stroke-width="0"/>
<circle cx="530.19" cy="504.32" r="1.10" fill="rgb(228,14,99)" stroke="none" stroke-width="0"/>
<circle cx="606.85" cy="507.38" r="1.10" fill="rgb(6,135,246)" stroke="none" stroke-width="0"/>
<circle cx="588.33" cy="504.41" r="1.10" fill="rgb(3,137,248)" stroke="none" stroke-width="0"/>
<circle cx="598.14" cy="502.24" r="1.10" fill="rgb(11,132,243)" stroke="none" stroke-width="0"/>
<circle cx="609.30" cy="501.60" r="1.10" fill="rgb(17,129,239)" stroke="none" stroke-width="0"/>
<circle cx="606.84" cy="506.25" r="1.10" fill="rgb(22,126,235)" stroke="none" stroke-width="0"/>
<circle cx="610.96" cy="505.01" r="1.10" fill="rgb(3,137,248)" stroke="none" stroke-width="0"/>
<circle cx="613.95" cy="505.43" r="1.10" fill="rgb(24,125,234)" stroke="none" stroke-width="0"/>
<circle cx="607.87" cy="503.51" r="1.10" fill="rgb(12,132,242)" stroke="none" stroke-width="0"/>
<circle cx="622.02" cy="504.40" r="1.10" fill="rgb(21,127,236)" stroke="none" stroke-width="0"/>
<circle cx="608.54" cy="504.30" r="1.10" fill="rgb(8,134,245)" stroke="none" stroke-width="0"/>
<circle cx="611.01" cy="502.66" r="1.10" fill="rgb(8,134,245)" stroke="none" stroke-width="0"/>
<circle cx="604.22" cy="504.61" r="1.10" fill="rgb(11,132,243)" stroke="none" stroke-width="0"/>
<circle cx="603.06" cy="500.61" r="1.10" fill="rgb(8,134,245)" stroke="none" stroke-width="0"/>
<circle cx="598.30" cy="501.90" r="1.10" fill="rgb(25,125,234)" stroke="none" stroke-width="0"/>
<circle cx="598.38" cy="505.74" r="1.10" fill="rgb(24,125,234)" stroke="none" stroke-width="0"/>
<circle cx="608.97" cy="501.32" r="1.10" fill="rgb(19,128,237)" stroke="none" stroke-width="0"/>
<circle cx="607.95" cy="502.65" r="1.10" fill="rgb(3,137,248)" stroke="none" stroke-width="0"/>
<circle cx="590.40" cy="504.57" r="1.10" fill="rgb(6,135,246)" stroke="none" stroke-width="0"/>
<circle cx="611.95" cy="502.64" r="1.10" fill="rgb(23,126,235)" stroke="none" stroke-width="0"/>
<circle cx="594.32" cy="503.03" r="1.10" fill="rgb(1,138,250)" stroke="none" stroke-width="0"/>
<circle cx="599.65" cy="505.35" r="1.10" fill="rgb(10,133,243)" stroke="none" stroke-width="0"/>
<circle cx="619.82" cy="504.31" r="1.10" fill="rgb(20,127,237)" stroke="none" stroke-width="0"/>
<circle cx="611.98" cy="502.35" r="1.10" fill="rgb(21,127,236)" stroke="none" stroke-width="0"/>
<circle cx="617.66" cy="504.13" r="1.10" fill="rgb(8,134,245)" stroke="none" stroke-width="0"/>
<circle cx="610.34" cy="504.49" r="1.10" fill="rgb(23,126,235)" stroke="none" stroke-width="0"/>
<circle cx="604.05" cy="504.40" r="1.10" fill="rgb(6,135,246)" stroke="none" stroke-width="0"/>
<circle cx="608.26" cy="501.61" r="1.10" fill="rgb(4,136,248)" stroke="none" stroke-width="0"/>
<circle cx="609.09" cy="503.03" r="1.10" fill="rgb(7,134,245)" stroke="none" stroke-width="0"/>
<circle cx="605.99" cy="506.13" r="1.10" fill="rgb(7,134,246)" stroke="none" stroke-width="0"/>
<circle cx="599.94" cy="503.24" r="1.10" fill="rgb(0,138,250)" stroke="none" stroke-width="0"/>
<circle cx="604.47" cy="502.30" r="1.10" fill="rgb(0,138,250)" stroke="none" stroke-width="0"/>
<circle cx="603.50" cy="501.86" r="1.10" fill="rgb(12,132,242)" stroke="none" stroke-width="0"/>
<circle cx="595.36" cy="505.70" r="1.10" fill="rgb(2,137,249)" stroke="none" stroke-width="0"/>
<circle cx="607.70" cy="504.17" r="1.10" fill="rgb(21,127,236)" stroke="none" stroke-width="0"/>
<circle cx="597.48" cy="503.69" r="1.10" fill="rgb(12,131,242)" stroke="none" stroke-width="0"/>
<circle cx="596.62" cy="503.54" r="1.10" fill="rgb(21,127,236)" stroke="none" stroke-width="0"/>
<circle cx="585.44" cy="504.25" r="1.10" fill="rgb(16,130,240)" stroke="none" stroke-width="0"/>
<circle cx="598.95" cy="501.67" r="1.10" fill="rgb(3,137,248)" stroke="none" stroke-width="0"/>
<circle cx="608.24" cy="501.35" r="1.10" fill="rgb(18,128,238)" stroke="none" stroke-width="0"/>
<circle cx="604.32" cy="501.04" r="1.10" fill="rgb(21,127,236)" stroke="none" stroke-width="0"/>
<circle cx="608.79" cy="506.56" r="1.10" fill="rgb(17,129,239)" stroke="none" stroke-width="0"/>
<circle cx="603.40" cy="502.64" r="1.10" fill="rgb(11,132,243)" stroke="none" stroke-width="0"/>
<circle cx="609.76" cy="502.21" r="1.10" fill="rgb(11,132,243)" stroke="none" stroke-width="0"/>
<circle cx="602.93" cy="507.71" r="1.10" fill="rgb(13,131,241)" stroke="none" stroke-width="0"/>
<circle cx="622.91" cy="504.12" r="1.10" fill="rgb(24,125,234)" stroke="none" stroke-width="0"/>
<circle cx="601.99" cy="500.63" r="1.10" fill="rgb(9,133,244)" stroke="none" stroke-width="0"/>
<circle cx="610.80" cy="504.07" r="1.10" fill="rgb(12,132,242)" stroke="none" stroke-width="0"/>
<circle cx="607.07" cy="500.67" r="1.10" fill="rgb(6,135,246)" stroke="none" stroke-width="0"/>
<circle cx="612.65" cy="502.55" r="1.10" fill="rgb(10,133,244)" stroke="none" stroke-width="0"/>
<circle cx="605.96" cy="502.74" r="1.10" fill="rgb(5,135,247)" stroke="none" stroke-width="0"/>
<circle cx="604.87" cy="504.85" r="1.10" fill="rgb(13,131,242)" stroke="none" stroke-width="0"/>
<circle cx="604.51" cy="505.84" r="1.10" fill="rgb(22,126,236)" stroke="none" stroke-width="0"/>
<circle cx="593.87" cy="503.91" r="1.10" fill="rgb(8,134,245)" stroke="none" stroke-width="0"/>
<circle cx="608.57" cy="505.65" r="1.10" fill="rgb(16,130,240)" stroke="none" stroke-width="0"/>
<circle cx="604.08" cy="500.74" r="1.10" fill="rgb(21,127,236)" stroke="none" stroke-width="0"/>
<circle cx="612.39" cy="505.18" r="1.10" fill="rgb(20,127,237)" stroke="none" stroke-width="0"/>
<circle cx="598.08" cy="502.34" r="1.10" fill="rgb(13,131,242)" stroke="none" stroke-width="0"/>
<circle cx="590.73" cy="504.58" r="1.10" fill="rgb(21,127,237)" stroke="none" stroke-width="0"/>
<circle cx="604.09" cy="504.84" r="1.10" fill="rgb(22,126,235)" stroke="none" stroke-width="0"/>
<circle cx="599.92" cy="502.52" r="1.10" fill="rgb(0,138,250)" stroke="none" stroke-width="0"/>
<circle cx="594.32" cy="503.16" r="1.10" fill="rgb(9,133,244)" stroke="none" stroke-width="0"/>
<circle cx="615.35" cy="504.34" r="1.10" fill="rgb(16,130,240)" stroke="none" stroke-width="0"/>
<circle cx="612.90" cy="504.69" r="1.10" fill="rgb(17,129,239)" stroke="none" stroke-width="0"/>
<circle cx="603.88" cy="506.46" r="1.10" fill="rgb(19,128,238)" stroke="none" stroke-width="0"/>
<circle cx="604.51" cy="504.22" r="1.10" fill="rgb(13,131,241)" stroke="none" stroke-width="0"/>
<circle cx="603.03" cy="505.96" r="1.10" fill="rgb(6,135,246)" stroke="none" stroke-width="0"/>
<circle cx="602.22" cy="501.12" r="1.10" fill="rgb(6,135,246)" stroke="none" stroke-width="0"/>
<circle cx="603.84" cy="506.02" r="1.10" fill="rgb(24,125,234)" stroke="none" stroke-width="0"/>
<circle cx="599.61" cy="504.16" r="1.10" fill="rgb(9,133,244)" stroke="none" stroke-width="0"/>
<circle cx="593.58" cy="504.85" r="1.10" fill="rgb(15,130,240)" stroke="none" stroke-width="0"/>
<circle cx="605.92" cy="505.26" r="1.10" fill="rgb(1,137,249)" stroke="none" stroke-width="0"/>
<circle cx="607.80" cy="505.86" r="1.10" fill="rgb(7,134,245)" stroke="none" stroke-width="0"/>
<circle cx="608.90" cy="504.63" r="1.10" fill="rgb(0,138,250)" stroke="none" stroke-width="0"/>
<circle cx="609.79" cy="505.20" r="1.10" fill="rgb(17,129,239)" stroke="none" stroke-width="0"/>
<circle cx="606.60" cy="505.48" r="1.10" fill="rgb(7,134,246)" stroke="none" stroke-width="0"/>
<circle cx="596.42" cy="504.06" r="1.10" fill="rgb(3,137,248)" stroke="none" stroke-width="0"/>
<circle cx="603.63" cy="507.17" r="1.10" fill="rgb(5,136,247)" stroke="none" stroke-width="0"/>
<circle cx="621.30" cy="503.95" r="1.10" fill="rgb(11,132,243)" stroke="none" stroke-width="0"/>
<circle cx="602.14" cy="506.51" r="1.10" fill="rgb(24,125,234)" stroke="none" stroke-width="0"/>
<circle cx="599.03" cy="502.54" r="1.10" fill="rgb(24,125,235)" stroke="none" stroke-width="0"/>
<circle cx="606.26" cy="502.07" r="1.10" fill="rgb(14,130,241)" stroke="none" stroke-width="0"/>
<circle cx="610.02" cy="506.77" r="1.10" fill="rgb(3,137,248)" stroke="none" stroke-width="0"/>
<circle cx="611.33" cy="505.75" r="1.10" fill="rgb(12,131,242)" stroke="none" stroke-width="0"/>
<circle cx="613.03" cy="503.18" r="1.10" fill="rgb(22,126,235)" stroke="none" stroke-width="0"/>
<circle cx="597.11" cy="504.14" r="1.10" fill="rgb(0,138,250)" stroke="none" stroke-width="0"/>
<circle cx="511.88" cy="504.05" r="1.10" fill="rgb(164,49,142)" stroke="none" stroke-width="0"/>
<circle cx="518.36" cy="503.73" r="1.10" fill="rgb(101,83,183)" stroke="none" stroke-width="0"/>
<circle cx="518.67" cy="502.71" r="1.10" fill="rgb(226,15,100)" stroke="none" stroke-width="0"/>
<circle cx="528.11" cy="503.06" r="1.10" fill="rgb(226,15,101)" stroke="none" stroke-width="0"/>
<circle cx="531.92" cy="505.40" r="1.10" fill="rgb(203,27,115)" stroke="none" stroke-width="0"/>
<circle cx="518.10" cy="503.88" r="1.10" fill="rgb(142,61,156)" stroke="none" stroke-width="0"/>
<circle cx="533.49" cy="503.78" r="1.10" fill="rgb(181,39,130)" stroke="none" stroke-width="0"/>
<circle cx="521.10" cy="502.84" r="1.10" fill="rgb(125,70,167)" stroke="none" stroke-width="0"/>
<circle cx="562.80" cy="503.86" r="1.10" fill="rgb(153,55,149)" stroke="none" stroke-width="0"/>
<circle cx="577.29" cy="503.83" r="1.10" fill="rgb(63,104,208)" stroke="none" stroke-width="0"/>
<circle cx="569.91" cy="504.00" r="1.10" fill="rgb(54,109,214)" stroke="none" stroke-width="0"/>
<circle cx="577.65" cy="504.70" r="1.10" fill="rgb(160,51,144)" stroke="none" stroke-width="0"/>
<circle cx="571.99" cy="504.91" r="1.10" fill="rgb(165,48,141)" stroke="none" stroke-width="0"/>
<circle cx="570.58" cy="503.48" r="1.10" fill="rgb(135,65,161)" stroke="none" stroke-width="0"/>
<circle cx="573.76" cy="504.60" r="1.10" fill="rgb(94,87,188)" stroke="none" stroke-width="0"/>
<circle cx="572.23" cy="503.48" r="1.10" fill="rgb(69,101,205)" stroke="none" stroke-width="0"/>
<circle cx="577.14" cy="504.16" r="1.10" fill="rgb(44,114,221)" stroke="none" stroke-width="0"/>
<circle cx="567.00" cy="504.58" r="1.10" fill="rgb(71,100,203)" stroke="none" stroke-width="0"/>
<circle cx="664.22" cy="504.57" r="1.10" fill="rgb(6,135,246)" stroke="none" stroke-width="0"/>
<circle cx="633.90" cy="503.95" r="1.10" fill="rgb(14,131,241)" stroke="none" stroke-width="0"/>
<circle cx="627.91" cy="503.50" r="1.10" fill="rgb(4,136,248)" stroke="none" stroke-width="0"/>
<circle cx="661.07" cy="503.53" r="1.10" fill="rgb(12,132,242)" stroke="none" stroke-width="0"/>
<circle cx="661.08" cy="504.08" r="1.10" fill="rgb(25,125,234)" stroke="none" stroke-width="0"/>
<circle cx="626.67" cy="503.22" r="1.10" fill="rgb(4,136,247)" stroke="none" stroke-width="0"/>
<circle cx="635.75" cy="503.57" r="1.10" fill="rgb(2,137,249)" stroke="none" stroke-width="0"/>
<circle cx="632.00" cy="505.13" r="1.10" fill="rgb(14,131,241)" stroke="none" stroke-width="0"/>
<circle cx="654.05" cy="503.99" r="1.10" fill="rgb(10,133,244)" stroke="none" stroke-width="0"/>
<circle cx="643.93" cy="503.81" r="1.10" fill="rgb(9,133,244)" stroke="none" stroke-width="0"/>
<circle cx="623.19" cy="505.32" r="1.10" fill="rgb(7,135,246)" stroke="none" stroke-width="0"/>
<circle cx="626.05" cy="504.51" r="1.10" fill="rgb(12,132,242)" stroke="none" stroke-width="0"/>
<circle cx="659.13" cy="503.65" r="1.10" fill="rgb(5,135,247)" stroke="none" stroke-width="0"/>
<circle cx="631.55" cy="504.07" r="1.10" fill="rgb(10,133,244)" stroke="none" stroke-width="0"/>
<circle cx="663.22" cy="505.09" r="1.10" fill="rgb(21,127,236)" stroke="none" stroke-width="0"/>
<circle cx="621.38" cy="504.70" r="1.10" fill="rgb(0,138,250)" stroke="none" stroke-width="0"/>
<circle cx="660.61" cy="504.41" r="1.10" fill="rgb(12,132,243)" stroke="none" stroke-width="0"/>
<circle cx="620.41" cy="505.22" r="1.10" fill="rgb(9,133,244)" stroke="none" stroke-width="0"/>
<circle cx="657.46" cy="505.33" r="1.10" fill="rgb(21,127,236)" stroke="none" stroke-width="0"/>
<circle cx="631.55" cy="503.37" r="1.10" fill="rgb(2,137,249)" stroke="none" stroke-width="0"/>
<circle cx="643.85" cy="505.26" r="1.10" fill="rgb(17,129,239)" stroke="none" stroke-width="0"/>
<circle cx="652.80" cy="504.84" r="1.10" fill="rgb(16,130,240)" stroke="none" stroke-width="0"/>
<circle cx="640.93" cy="503.09" r="1.10" fill="rgb(14,131,241)" stroke="none" stroke-width="0"/>
<circle cx="655.52" cy="505.21" r="1.10" fill="rgb(5,135,247)" stroke="none" stroke-width="0"/>
<circle cx="649.38" cy="503.31" r="1.10" fill="rgb(7,134,245)" stroke="none" stroke-width="0"/>
<circle cx="631.70" cy="504.68" r="1.10" fill="rgb(16,130,240)" stroke="none" stroke-width="0"/>
<circle cx="625.43" cy="504.26" r="1.10" fill="rgb(1,138,249)" stroke="none" stroke-width="0"/>
<circle cx="646.56" cy="503.54" r="1.10" fill="rgb(9,133,244)" stroke="none" stroke-width="0"/>
<circle cx="647.38" cy="503.72" r="1.10" fill="rgb(0,138,250)" stroke="none" stroke-width="0"/>
<circle cx="641.08" cy="504.55" r="1.10" fill="rgb(24,125,234)" stroke="none" stroke-width="0"/>
<circle cx="660.07" cy="503.56" r="1.10" fill="rgb(12,132,242)" stroke="none" stroke-width="0"/>
<circle cx="631.49" cy="504.69" r="1.10" fill="rgb(24,125,234)" stroke="none" stroke-width="0"/>
<circle cx="634.20" cy="504.20" r="1.10" fill="rgb(0,138,250)" stroke="none" stroke-width="0"/>
<circle cx="650.68" cy="503.62" r="1.10" fill="rgb(10,133,243)" stroke="none" stroke-width="0"/>
<circle cx="650.36" cy="503.54" r="1.10" fill="rgb(23,126,235)" stroke="none" stroke-width="0"/>
<circle cx="621.93" cy="504.01" r="1.10" fill="rgb(8,134,245)" stroke="none" stroke-width="0"/>
<circle cx="651.04" cy="504.91" r="1.10" fill="rgb(5,136,247)" stroke="none" stroke-width="0"/>
<circle cx="653.58" cy="503.49" r="1.10" fill="rgb(12,131,242)" stroke="none" stroke-width="0"/>
<circle cx="663.94" cy="504.97" r="1.10" fill="rgb(7,134,245)" stroke="none" stroke-width="0"/>
<circle cx="630.76" cy="504.83" r="1.10" fill="rgb(5,135,247)" stroke="none" stroke-width="0"/>
<circle cx="633.64" cy="504.19" r="1.10" fill="rgb(24,125,234)" stroke="none" stroke-width="0"/>
<circle cx="628.81" cy="504.00" r="1.10" fill="rgb(5,135,247)" stroke="none" stroke-width="0"/>
<circle cx="650.26" cy="503.35" r="1.10" fill="rgb(24,125,234)" stroke="none" stroke-width="0"/>
<circle cx="638.06" cy="505.34" r="1.10" fill="rgb(5,136,247)" stroke="none" stroke-width="0"/>
<circle cx="626.77" cy="503.14" r="1.10" fill="rgb(1,138,250)" stroke="none" stroke-width="0"/>
<circle cx="638.06" cy="505.12" r="1.10" fill="rgb(22,126,235)" stroke="none" stroke-width="0"/>
<circle cx="653.29" cy="505.24" r="1.10" fill="rgb(25,125,234)" stroke="none" stroke-width="0"/>
<circle cx="635.18" cy="505.25" r="1.10" fill="rgb(4,136,247)" stroke="none" stroke-width="0"/>
<circle cx="653.90" cy="504.59" r="1.10" fill="rgb(0,138,250)" stroke="none" stroke-width="0"/>
<circle cx="637.40" cy="503.80" r="1.10" fill="rgb(9,133,244)" stroke="none" stroke-width="0"/>
<circle cx="588.00" cy="504.20" r="0.95" fill="rgb(153,55,149)" stroke="none" stroke-width="0"/>
<circle cx="531.14" cy="523.35" r="1.10" fill="rgb(25,124,233)" stroke="none" stroke-width="0"/>
<circle cx="533.25" cy="523.10" r="1.10" fill="rgb(147,58,153)" stroke="none" stroke-width="0"/>
<circle cx="540.35" cy="523.47" r="1.10" fill="rgb(51,110,216)" stroke="none" stroke-width="0"/>
<circle cx="538.69" cy="523.59" r="1.10" fill="rgb(130,67,164)" stroke="none" stroke-width="0"/>
<circle cx="529.75" cy="523.50" r="1.10" fill="rgb(85,92,194)" stroke="none" stroke-width="0"/>
<circle cx="539.83" cy="523.48" r="1.10" fill="rgb(50,111,217)" stroke="none" stroke-width="0"/>
<circle cx="539.57" cy="523.56" r="1.10" fill="rgb(29,122,231)" stroke="none" stroke-width="0"/>
<circle cx="538.58" cy="522.97" r="1.10" fill="rgb(123,71,169)" stroke="none" stroke-width="0"/>
<circle cx="560.68" cy="527.81" r="1.10" fill="rgb(45,113,220)" stroke="none" stroke-width="0"/>
<circle cx="558.70" cy="526.26" r="1.10" fill="rgb(160,51,144)" stroke="none" stroke-width="0"/>
<circle cx="555.07" cy="528.05" r="1.10" fill="rgb(110,78,178)" stroke="none" stroke-width="0"/>
<circle cx="563.03" cy="521.73" r="1.10" fill="rgb(127,69,166)" stroke="none" stroke-width="0"/>
<circle cx="555.78" cy="518.81" r="1.10" fill="rgb(134,65,161)" stroke="none" stroke-width="0"/>
<circle cx="563.45" cy="527.01" r="1.10" fill="rgb(113,77,176)" stroke="none" stroke-width="0"/>
<circle cx="559.64" cy="520.99" r="1.10" fill="rgb(84,92,194)" stroke="none" stroke-width="0"/>
<circle cx="557.58" cy="528.44" r="1.10" fill="rgb(170,46,138)" stroke="none" stroke-width="0"/>
<circle cx="553.97" cy="523.08" r="1.10" fill="rgb(88,90,192)" stroke="none" stroke-width="0"/>
<circle cx="561.74" cy="527.63" r="1.10" fill="rgb(32,121,229)" stroke="none" stroke-width="0"/>
<circle cx="561.98" cy="526.61" r="1.10" fill="rgb(137,63,159)" stroke="none" stroke-width="0"/>
<circle cx="546.92" cy="524.04" r="1.10" fill="rgb(58,107,212)" stroke="none" stroke-width="0"/>
<circle cx="555.23" cy="526.41" r="1.10" fill="rgb(14,131,241)" stroke="none" stroke-width="0"/>
<circle cx="564.35" cy="521.52" r="1.10" fill="rgb(134,65,161)" stroke="none" stroke-width="0"/>
<circle cx="558.18" cy="518.85" r="1.10" fill="rgb(98,85,185)" stroke="none" stroke-width="0"/>
<circle cx="560.78" cy="522.01" r="1.10" fill="rgb(174,43,135)" stroke="none" stroke-width="0"/>
<circle cx="574.12" cy="523.49" r="1.10" fill="rgb(15,130,241)" stroke="none" stroke-width="0"/>
<circle cx="543.77" cy="523.11" r="1.10" fill="rgb(88,90,192)" stroke="none" stroke-width="0"/>
<circle cx="556.17" cy="521.04" r="1.10" fill="rgb(74,98,201)" stroke="none" stroke-width="0"/>
<circle cx="550.51" cy="524.42" r="1.10" fill="rgb(120,73,171)" stroke="none" stroke-width="0"/>
<circle cx="557.96" cy="525.41" r="1.10" fill="rgb(21,127,236)" stroke="none" stroke-width="0"/>
<circle cx="544.11" cy="524.24" r="1.10" fill="rgb(52,110,216)" stroke="none" stroke-width="0"/>
<circle cx="551.75" cy="525.38" r="1.10" fill="rgb(35,119,227)" stroke="none" stroke-width="0"/>
<circle cx="555.28" cy="521.27" r="1.10" fill="rgb(43,115,221)" stroke="none" stroke-width="0"/>
<circle cx="566.72" cy="524.10" r="1.10" fill="rgb(58,107,212)" stroke="none" stroke-width="0"/>
<circle cx="570.48" cy="523.45" r="1.10" fill="rgb(177,42,133)" stroke="none" stroke-width="0"/>
<circle cx="552.89" cy="526.17" r="1.10" fill="rgb(116,75,173)" stroke="none" stroke-width="0"/>
<circle cx="557.89" cy="528.80" r="1.10" fill="rgb(18,129,238)" stroke="none" stroke-width="0"/>
<circle cx="544.92" cy="524.37" r="1.10" fill="rgb(163,50,142)" stroke="none" stroke-width="0"/>
<circle cx="560.25" cy="519.12" r="1.10" fill="rgb(52,110,216)" stroke="none" stroke-width="0"/>
<circle cx="561.57" cy="528.09" r="1.10" fill="rgb(104,82,182)" stroke="none" stroke-width="0"/>
<circle cx="561.33" cy="527.76" r="1.10" fill="rgb(66,102,206)" stroke="none" stroke-width="0"/>
<circle cx="563.41" cy="521.78" r="1.10" fill="rgb(138,63,158)" stroke="none" stroke-width="0"/>
<circle cx="552.24" cy="527.03" r="1.10" fill="rgb(18,128,238)" stroke="none" stroke-width="0"/>
<circle cx="549.85" cy="522.18" r="1.10" fill="rgb(65,103,207)" stroke="none" stroke-width="0"/>
<circle cx="552.42" cy="520.97" r="1.10" fill="rgb(36,119,226)" stroke="none" stroke-width="0"/>
<circle cx="557.83" cy="525.28" r="1.10" fill="rgb(36,119,226)" stroke="none" stroke-width="0"/>
<circle cx="567.92" cy="521.66" r="1.10" fill="rgb(58,107,212)" stroke="none" stroke-width="0"/>
<circle cx="556.12" cy="521.82" r="1.10" fill="rgb(36,119,226)" stroke="none" stroke-width="0"/>
<circle cx="553.97" cy="526.30" r="1.10" fill="rgb(97,85,186)" stroke="none" stroke-width="0"/>
<circle cx="561.22" cy="522.71" r="1.10" fill="rgb(98,85,185)" stroke="none" stroke-width="0"/>
<circle cx="559.43" cy="525.12" r="1.10" fill="rgb(16,130,240)" stroke="none" stroke-width="0"/>
<circle cx="563.90" cy="523.02" r="1.10" fill="rgb(50,111,217)" stroke="none" stroke-width="0"/>
<circle cx="567.70" cy="522.86" r="1.10" fill="rgb(170,46,138)" stroke="none" stroke-width="0"/>
<circle cx="554.56" cy="522.39" r="1.10" fill="rgb(74,98,201)" stroke="none" stroke-width="0"/>
<circle cx="566.79" cy="525.55" r="1.10" fill="rgb(177,42,133)" stroke="none" stroke-width="0"/>
<circle cx="554.99" cy="525.86" r="1.10" fill="rgb(36,119,226)" stroke="none" stroke-width="0"/>
<circle cx="561.76" cy="519.17" r="1.10" fill="rgb(160,51,144)" stroke="none" stroke-width="0"/>
<circle cx="546.23" cy="523.45" r="1.10" fill="rgb(157,53,146)" stroke="none" stroke-width="0"/>
<circle cx="564.32" cy="523.42" r="1.10" fill="rgb(29,123,231)" stroke="none" stroke-width="0"/>
<circle cx="567.27" cy="524.36" r="1.10" fill="rgb(162,50,143)" stroke="none" stroke-width="0"/>
<circle cx="558.99" cy="519.46" r="1.10" fill="rgb(111,78,177)" stroke="none" stroke-width="0"/>
<circle cx="552.23" cy="521.06" r="1.10" fill="rgb(50,111,217)" stroke="none" stroke-width="0"/>
<circle cx="564.36" cy="523.85" r="1.10" fill="rgb(165,48,141)" stroke="none" stroke-width="0"/>
<circle cx="564.65" cy="525.81" r="1.10" fill="rgb(172,44,136)" stroke="none" stroke-width="0"/>
<circle cx="563.45" cy="521.29" r="1.10" fill="rgb(22,126,236)" stroke="none" stroke-width="0"/>
<circle cx="576.61" cy="523.69" r="1.10" fill="rgb(9,133,244)" stroke="none" stroke-width="0"/>
<circle cx="551.23" cy="526.51" r="1.10" fill="rgb(69,101,205)" stroke="none" stroke-width="0"/>
<circle cx="566.44" cy="525.45" r="1.10" fill="rgb(28,123,232)" stroke="none" stroke-width="0"/>
<circle cx="552.43" cy="525.88" r="1.10" fill="rgb(39,117,224)" stroke="none" stroke-width="0"/>
<circle cx="546.57" cy="524.66" r="1.10" fill="rgb(32,121,229)" stroke="none" stroke-width="0"/>
<circle cx="566.05" cy="522.09" r="1.10" fill="rgb(71,100,203)" stroke="none" stroke-width="0"/>
<circle cx="551.06" cy="521.27" r="1.10" fill="rgb(44,114,221)" stroke="none" stroke-width="0"/>
<circle cx="557.34" cy="526.02" r="1.10" fill="rgb(160,51,144)" stroke="none" stroke-width="0"/>
<circle cx="567.13" cy="524.94" r="1.10" fill="rgb(6,135,246)" stroke="none" stroke-width="0"/>
<circle cx="560.51" cy="527.03" r="1.10" fill="rgb(21,127,237)" stroke="none" stroke-width="0"/>
<circle cx="550.72" cy="524.48" r="1.10" fill="rgb(54,109,214)" stroke="none" stroke-width="0"/>
<circle cx="552.78" cy="523.07" r="1.10" fill="rgb(103,82,182)" stroke="none" stroke-width="0"/>
<circle cx="548.65" cy="523.47" r="1.10" fill="rgb(78,96,199)" stroke="none" stroke-width="0"/>
<circle cx="562.91" cy="519.71" r="1.10" fill="rgb(110,78,177)" stroke="none" stroke-width="0"/>
<circle cx="552.84" cy="525.80" r="1.10" fill="rgb(139,63,158)" stroke="none" stroke-width="0"/>
<circle cx="558.49" cy="523.27" r="1.10" fill="rgb(32,121,229)" stroke="none" stroke-width="0"/>
<circle cx="554.74" cy="520.24" r="1.10" fill="rgb(76,97,200)" stroke="none" stroke-width="0"/>
<circle cx="558.71" cy="519.47" r="1.10" fill="rgb(78,95,198)" stroke="none" stroke-width="0"/>
<circle cx="556.05" cy="525.06" r="1.10" fill="rgb(14,130,241)" stroke="none" stroke-width="0"/>
<circle cx="558.00" cy="526.13" r="1.10" fill="rgb(138,63,159)" stroke="none" stroke-width="0"/>
<circle cx="555.72" cy="523.74" r="1.10" fill="rgb(67,102,206)" stroke="none" stroke-width="0"/>
<circle cx="557.96" cy="528.39" r="1.10" fill="rgb(24,125,234)" stroke="none" stroke-width="0"/>
<circle cx="573.17" cy="523.98" r="1.10" fill="rgb(145,59,154)" stroke="none" stroke-width="0"/>
<circle cx="539.27" cy="523.59" r="1.10" fill="rgb(175,43,134)" stroke="none" stroke-width="0"/>
<circle cx="540.02" cy="523.89" r="1.10" fill="rgb(29,122,231)" stroke="none" stroke-width="0"/>
<circle cx="559.06" cy="526.67" r="1.10" fill="rgb(166,48,140)" stroke="none" stroke-width="0"/>
<circle cx="564.30" cy="525.55" r="1.10" fill="rgb(28,123,232)" stroke="none" stroke-width="0"/>
<circle cx="560.83" cy="527.55" r="1.10" fill="rgb(49,112,218)" stroke="none" stroke-width="0"/>
<circle cx="559.75" cy="523.72" r="1.10" fill="rgb(164,49,142)" stroke="none" stroke-width="0"/>
<circle cx="554.44" cy="521.04" r="1.10" fill="rgb(46,113,219)" stroke="none" stroke-width="0"/>
<circle cx="551.79" cy="520.42" r="1.10" fill="rgb(32,121,229)" stroke="none" stroke-width="0"/>
<circle cx="557.90" cy="520.18" r="1.10" fill="rgb(167,47,140)" stroke="none" stroke-width="0"/>
<circle cx="551.56" cy="521.42" r="1.10" fill="rgb(140,62,158)" stroke="none" stroke-width="0"/>
<circle cx="544.23" cy="523.07" r="1.10" fill="rgb(94,87,188)" stroke="none" stroke-width="0"/>
<circle cx="553.66" cy="526.90" r="1.10" fill="rgb(99,84,185)" stroke="none" stroke-width="0"/>
<circle cx="552.97" cy="524.35" r="1.10" fill="rgb(157,53,146)" stroke="none" stroke-width="0"/>
<circle cx="576.18" cy="523.76" r="1.10" fill="rgb(70,100,204)" stroke="none" stroke-width="0"/>
<circle cx="572.06" cy="524.19" r="1.10" fill="rgb(47,113,219)" stroke="none" stroke-width="0"/>
<circle cx="567.62" cy="523.08" r="1.10" fill="rgb(136,64,160)" stroke="none" stroke-width="0"/>
<circle cx="557.57" cy="523.10" r="1.10" fill="rgb(31,121,230)" stroke="none" stroke-width="0"/>
<circle cx="558.04" cy="527.03" r="1.10" fill="rgb(45,114,220)" stroke="none" stroke-width="0"/>
<circle cx="555.86" cy="525.08" r="1.10" fill="rgb(175,43,134)" stroke="none" stroke-width="0"/>
<circle cx="548.97" cy="522.83" r="1.10" fill="rgb(0,138,250)" stroke="none" stroke-width="0"/>
<circle cx="552.64" cy="520.06" r="1.10" fill="rgb(26,124,233)" stroke="none" stroke-width="0"/>
<circle cx="552.39" cy="523.80" r="1.10" fill="rgb(159,51,145)" stroke="none" stroke-width="0"/>
<circle cx="553.00" cy="520.72" r="1.10" fill="rgb(40,116,224)" stroke="none" stroke-width="0"/>
<circle cx="557.26" cy="518.57" r="1.10" fill="rgb(63,104,209)" stroke="none" stroke-width="0"/>
<circle cx="556.87" cy="519.67" r="1.10" fill="rgb(63,104,208)" stroke="none" stroke-width="0"/>
<circle cx="559.68" cy="524.61" r="1.10" fill="rgb(36,119,226)" stroke="none" stroke-width="0"/>
<circle cx="567.59" cy="524.25" r="1.10" fill="rgb(84,92,194)" stroke="none" stroke-width="0"/>
<circle cx="569.40" cy="522.91" r="1.10" fill="rgb(26,124,233)" stroke="none" stroke-width="0"/>
<circle cx="570.87" cy="522.81" r="1.10" fill="rgb(113,76,175)" stroke="none" stroke-width="0"/>
<circle cx="566.86" cy="523.21" r="1.10" fill="rgb(47,113,219)" stroke="none" stroke-width="0"/>
<circle cx="548.99" cy="521.41" r="1.10" fill="rgb(115,76,174)" stroke="none" stroke-width="0"/>
<circle cx="551.92" cy="524.75" r="1.10" fill="rgb(79,95,198)" stroke="none" stroke-width="0"/>
<circle cx="555.57" cy="527.97" r="1.10" fill="rgb(130,67,164)" stroke="none" stroke-width="0"/>
<circle cx="558.28" cy="518.96" r="1.10" fill="rgb(94,87,188)" stroke="none" stroke-width="0"/>
<circle cx="573.79" cy="523.61" r="1.10" fill="rgb(42,115,222)" stroke="none" stroke-width="0"/>
<circle cx="569.88" cy="522.34" r="1.10" fill="rgb(98,85,185)" stroke="none" stroke-width="0"/>
<circle cx="562.65" cy="527.48" r="1.10" fill="rgb(25,125,234)" stroke="none" stroke-width="0"/>
<circle cx="561.23" cy="523.77" r="1.10" fill="rgb(114,76,175)" stroke="none" stroke-width="0"/>
<circle cx="567.55" cy="525.10" r="1.10" fill="rgb(31,122,230)" stroke="none" stroke-width="0"/>
<circle cx="555.91" cy="519.22" r="1.10" fill="rgb(158,52,145)" stroke="none" stroke-width="0"/>
<circle cx="563.83" cy="525.86" r="1.10" fill="rgb(127,69,166)" stroke="none" stroke-width="0"/>
<circle cx="572.09" cy="524.10" r="1.10" fill="rgb(83,93,195)" stroke="none" stroke-width="0"/>
<circle cx="558.69" cy="526.21" r="1.10" fill="rgb(80,94,197)" stroke="none" stroke-width="0"/>
<circle cx="558.65" cy="520.92" r="1.10" fill="rgb(6,135,246)" stroke="none" stroke-width="0"/>
<circle cx="561.51" cy="522.17" r="1.10" fill="rgb(133,66,162)" stroke="none" stroke-width="0"/>
<circle cx="553.41" cy="525.48" r="1.10" fill="rgb(47,113,219)" stroke="none" stroke-width="0"/>
<circle cx="544.97" cy="523.81" r="1.10" fill="rgb(77,96,199)" stroke="none" stroke-width="0"/>
<circle cx="560.24" cy="521.36" r="1.10" fill="rgb(114,76,175)" stroke="none" stroke-width="0"/>
<circle cx="549.58" cy="526.11" r="1.10" fill="rgb(38,117,225)" stroke="none" stroke-width="0"/>
<circle cx="559.06" cy="521.23" r="1.10" fill="rgb(42,116,223)" stroke="none" stroke-width="0"/>
<circle cx="557.27" cy="526.22" r="1.10" fill="rgb(168,47,139)" stroke="none" stroke-width="0"/>
<circle cx="557.98" cy="527.65" r="1.10" fill="rgb(58,107,212)" stroke="none" stroke-width="0"/>
<circle cx="551.70" cy="521.87" r="1.10" fill="rgb(162,50,143)" stroke="none" stroke-width="0"/>
<circle cx="550.56" cy="524.69" r="1.10" fill="rgb(174,43,135)" stroke="none" stroke-width="0"/>
<circle cx="549.99" cy="523.53" r="1.10" fill="rgb(149,57,151)" stroke="none" stroke-width="0"/>
<circle cx="553.52" cy="523.17" r="1.10" fill="rgb(129,68,165)" stroke="none" stroke-width="0"/>
<circle cx="544.61" cy="523.83" r="1.10" fill="rgb(54,109,214)" stroke="none" stroke-width="0"/>
<circle cx="560.53" cy="519.54" r="1.10" fill="rgb(162,50,143)" stroke="none" stroke-width="0"/>
<circle cx="567.96" cy="522.23" r="1.10" fill="rgb(4,136,247)" stroke="none" stroke-width="0"/>
<circle cx="571.18" cy="523.38" r="1.10" fill="rgb(25,125,234)" stroke="none" stroke-width="0"/>
<circle cx="568.48" cy="521.93" r="1.10" fill="rgb(7,134,246)" stroke="none" stroke-width="0"/>
<circle cx="580.64" cy="524.02" r="1.10" fill="rgb(131,67,163)" stroke="none" stroke-width="0"/>
<circle cx="581.15" cy="523.84" r="1.10" fill="rgb(59,106,211)" stroke="none" stroke-width="0"/>
<circle cx="576.83" cy="524.21" r="1.10" fill="rgb(155,54,148)" stroke="none" stroke-width="0"/>
<circle cx="582.94" cy="524.29" r="1.10" fill="rgb(59,106,211)" stroke="none" stroke-width="0"/>
<circle cx="583.21" cy="523.07" r="1.10" fill="rgb(171,45,137)" stroke="none" stroke-width="0"/>
<circle cx="575.00" cy="522.96" r="1.10" fill="rgb(65,103,207)" stroke="none" stroke-width="0"/>
<circle cx="582.44" cy="523.91" r="1.10" fill="rgb(154,54,148)" stroke="none" stroke-width="0"/>
<circle cx="582.17" cy="523.36" r="1.10" fill="rgb(131,67,163)" stroke="none" stroke-width="0"/>
<circle cx="603.88" cy="524.37" r="1.10" fill="rgb(220,18,104)" stroke="none" stroke-width="0"/>
<circle cx="612.41" cy="523.50" r="1.10" fill="rgb(228,14,99)" stroke="none" stroke-width="0"/>
<circle cx="597.48" cy="523.13" r="1.10" fill="rgb(226,15,100)" stroke="none" stroke-width="0"/>
<circle cx="653.82" cy="523.23" r="1.10" fill="rgb(230,13,98)" stroke="none" stroke-width="0"/>
<circle cx="673.95" cy="524.61" r="1.10" fill="rgb(236,10,94)" stroke="none" stroke-width="0"/>
<circle cx="645.92" cy="523.47" r="1.10" fill="rgb(217,20,106)" stroke="none" stroke-width="0"/>
<circle cx="631.17" cy="523.30" r="1.10" fill="rgb(246,4,87)" stroke="none" stroke-width="0"/>
<circle cx="652.92" cy="522.96" r="1.10" fill="rgb(237,9,93)" stroke="none" stroke-width="0"/>
<circle cx="665.70" cy="524.53" r="1.10" fill="rgb(220,18,105)" stroke="none" stroke-width="0"/>
<circle cx="609.60" cy="522.93" r="1.10" fill="rgb(216,20,107)" stroke="none" stroke-width="0"/>
<circle cx="657.59" cy="522.41" r="1.10" fill="rgb(254,0,82)" stroke="none" stroke-width="0"/>
<circle cx="635.58" cy="524.47" r="1.10" fill="rgb(235,10,94)" stroke="none" stroke-width="0"/>
<circle cx="610.75" cy="523.30" r="1.10" fill="rgb(235,10,94)" stroke="none" stroke-width="0"/>
<circle cx="663.24" cy="524.85" r="1.10" fill="rgb(226,15,100)" stroke="none" stroke-width="0"/>
<circle cx="618.79" cy="524.22" r="1.10" fill="rgb(224,16,101)" stroke="none" stroke-width="0"/>
<circle cx="636.19" cy="524.05" r="1.10" fill="rgb(220,18,104)" stroke="none" stroke-width="0"/>
<circle cx="602.34" cy="524.21" r="1.10" fill="rgb(246,4,87)" stroke="none" stroke-width="0"/>
<circle cx="659.59" cy="523.32" r="1.10" fill="rgb(240,7,91)" stroke="none" stroke-width="0"/>
<circle cx="628.32" cy="524.72" r="1.10" fill="rgb(231,12,97)" stroke="none" stroke-width="0"/>
<circle cx="602.77" cy="522.47" r="1.10" fill="rgb(250,2,84)" stroke="none" stroke-width="0"/>
<circle cx="612.50" cy="524.74" r="1.10" fill="rgb(226,15,100)" stroke="none" stroke-width="0"/>
<circle cx="636.42" cy="524.70" r="1.10" fill="rgb(231,12,97)" stroke="none" stroke-width="0"/>
<circle cx="614.72" cy="523.78" r="1.10" fill="rgb(234,11,95)" stroke="none" stroke-width="0"/>
<circle cx="656.96" cy="524.08" r="1.10" fill="rgb(245,5,88)" stroke="none" stroke-width="0"/>
<circle cx="624.04" cy="522.80" r="1.10" fill="rgb(229,14,99)" stroke="none" stroke-width="0"/>
<circle cx="664.15" cy="524.33" r="1.10" fill="rgb(242,7,90)" stroke="none" stroke-width="0"/>
<circle cx="609.53" cy="524.41" r="1.10" fill="rgb(233,11,96)" stroke="none" stroke-width="0"/>
<circle cx="642.75" cy="523.60" r="1.10" fill="rgb(221,18,104)" stroke="none" stroke-width="0"/>
<circle cx="667.56" cy="522.90" r="1.10" fill="rgb(225,15,101)" stroke="none" stroke-width="0"/>
<circle cx="620.23" cy="524.59" r="1.10" fill="rgb(243,6,89)" stroke="none" stroke-width="0"/>
<circle cx="608.32" cy="523.04" r="1.10" fill="rgb(222,17,103)" stroke="none" stroke-width="0"/>
<circle cx="622.26" cy="522.82" r="1.10" fill="rgb(236,9,94)" stroke="none" stroke-width="0"/>
<circle cx="622.39" cy="524.94" r="1.10" fill="rgb(223,16,102)" stroke="none" stroke-width="0"/>
<circle cx="654.88" cy="524.90" r="1.10" fill="rgb(220,18,104)" stroke="none" stroke-width="0"/>
<circle cx="604.03" cy="524.96" r="1.10" fill="rgb(231,12,97)" stroke="none" stroke-width="0"/>
<circle cx="660.24" cy="523.53" r="1.10" fill="rgb(244,5,88)" stroke="none" stroke-width="0"/>
<circle cx="611.69" cy="522.68" r="1.10" fill="rgb(241,7,91)" stroke="none" stroke-width="0"/>
<circle cx="612.52" cy="522.49" r="1.10" fill="rgb(231,12,97)" stroke="none" stroke-width="0"/>
<circle cx="628.14" cy="524.20" r="1.10" fill="rgb(247,4,87)" stroke="none" stroke-width="0"/>
<circle cx="636.37" cy="523.60" r="1.10" fill="rgb(240,7,91)" stroke="none" stroke-width="0"/>
<circle cx="607.28" cy="523.45" r="1.10" fill="rgb(239,8,92)" stroke="none" stroke-width="0"/>
<circle cx="655.87" cy="523.52" r="1.10" fill="rgb(251,1,84)" stroke="none" stroke-width="0"/>
<circle cx="642.33" cy="523.50" r="1.10" fill="rgb(245,5,88)" stroke="none" stroke-width="0"/>
<circle cx="614.32" cy="524.69" r="1.10" fill="rgb(244,5,89)" stroke="none" stroke-width="0"/>
<circle cx="658.55" cy="524.62" r="1.10" fill="rgb(243,6,89)" stroke="none" stroke-width="0"/>
<circle cx="650.89" cy="523.58" r="1.10" fill="rgb(241,7,91)" stroke="none" stroke-width="0"/>
<circle cx="621.17" cy="522.65" r="1.10" fill="rgb(240,7,91)" stroke="none" stroke-width="0"/>
<circle cx="629.81" cy="524.25" r="1.10" fill="rgb(246,4,87)" stroke="none" stroke-width="0"/>
<circle cx="646.84" cy="523.50" r="1.10" fill="rgb(226,15,101)" stroke="none" stroke-width="0"/>
<circle cx="632.69" cy="523.46" r="1.10" fill="rgb(240,7,91)" stroke="none" stroke-width="0"/>
<circle cx="650.54" cy="522.88" r="1.10" fill="rgb(252,1,83)" stroke="none" stroke-width="0"/>
<circle cx="648.86" cy="523.41" r="1.10" fill="rgb(246,4,87)" stroke="none" stroke-width="0"/>
<circle cx="635.50" cy="522.50" r="1.10" fill="rgb(254,0,82)" stroke="none" stroke-width="0"/>
<circle cx="639.84" cy="524.43" r="1.10" fill="rgb(222,17,103)" stroke="none" stroke-width="0"/>
<circle cx="672.05" cy="522.66" r="1.10" fill="rgb(236,10,94)" stroke="none" stroke-width="0"/>
<circle cx="642.37" cy="524.26" r="1.10" fill="rgb(237,9,93)" stroke="none" stroke-width="0"/>
<circle cx="637.32" cy="524.56" r="1.10" fill="rgb(241,7,91)" stroke="none" stroke-width="0"/>
<circle cx="638.09" cy="524.86" r="1.10" fill="rgb(232,12,96)" stroke="none" stroke-width="0"/>
<circle cx="612.82" cy="523.42" r="1.10" fill="rgb(242,6,90)" stroke="none" stroke-width="0"/>
<circle cx="657.63" cy="524.96" r="1.10" fill="rgb(221,18,104)" stroke="none" stroke-width="0"/>
<circle cx="624.61" cy="523.11" r="1.10" fill="rgb(218,19,105)" stroke="none" stroke-width="0"/>
<circle cx="628.19" cy="523.49" r="1.10" fill="rgb(217,20,107)" stroke="none" stroke-width="0"/>
<circle cx="535.85" cy="543.06" r="1.10" fill="rgb(204,27,115)" stroke="none" stroke-width="0"/>
<circle cx="524.82" cy="544.22" r="1.10" fill="rgb(126,70,167)" stroke="none" stroke-width="0"/>
<circle cx="572.70" cy="542.66" r="1.10" fill="rgb(176,42,133)" stroke="none" stroke-width="0"/>
<circle cx="562.88" cy="542.64" r="1.10" fill="rgb(154,54,148)" stroke="none" stroke-width="0"/>
<circle cx="515.18" cy="544.43" r="1.10" fill="rgb(217,20,106)" stroke="none" stroke-width="0"/>
<circle cx="551.01" cy="543.69" r="1.10" fill="rgb(167,47,140)" stroke="none" stroke-width="0"/>
<circle cx="522.04" cy="543.06" r="1.10" fill="rgb(249,3,85)" stroke="none" stroke-width="0"/>
<circle cx="551.33" cy="544.45" r="1.10" fill="rgb(224,16,101)" stroke="none" stroke-width="0"/>
<circle cx="539.22" cy="543.64" r="1.10" fill="rgb(138,63,159)" stroke="none" stroke-width="0"/>
<circle cx="514.89" cy="543.06" r="1.10" fill="rgb(227,15,100)" stroke="none" stroke-width="0"/>
<circle cx="566.36" cy="543.13" r="1.10" fill="rgb(133,66,162)" stroke="none" stroke-width="0"/>
<circle cx="524.00" cy="542.56" r="1.10" fill="rgb(159,51,145)" stroke="none" stroke-width="0"/>
<circle cx="506.20" cy="542.84" r="1.10" fill="rgb(208,25,112)" stroke="none" stroke-width="0"/>
<circle cx="523.39" cy="543.44" r="1.10" fill="rgb(139,63,158)" stroke="none" stroke-width="0"/>
<circle cx="536.41" cy="543.98" r="1.10" fill="rgb(194,32,121)" stroke="none" stroke-width="0"/>
<circle cx="531.72" cy="544.56" r="1.10" fill="rgb(243,6,89)" stroke="none" stroke-width="0"/>
<circle cx="510.06" cy="544.72" r="1.10" fill="rgb(226,15,100)" stroke="none" stroke-width="0"/>
<circle cx="561.64" cy="544.49" r="1.10" fill="rgb(112,77,176)" stroke="none" stroke-width="0"/>
<circle cx="550.93" cy="542.03" r="1.10" fill="rgb(91,88,190)" stroke="none" stroke-width="0"/>
<circle cx="573.54" cy="542.75" r="1.10" fill="rgb(197,31,119)" stroke="none" stroke-width="0"/>
<circle cx="513.21" cy="542.70" r="1.10" fill="rgb(112,77,176)" stroke="none" stroke-width="0"/>
<circle cx="561.09" cy="542.46" r="1.10" fill="rgb(146,59,153)" stroke="none" stroke-width="0"/>
<circle cx="570.15" cy="542.50" r="1.10" fill="rgb(220,18,104)" stroke="none" stroke-width="0"/>
<circle cx="569.24" cy="544.34" r="1.10" fill="rgb(190,35,125)" stroke="none" stroke-width="0"/>
<circle cx="553.44" cy="544.36" r="1.10" fill="rgb(237,9,93)" stroke="none" stroke-width="0"/>
<circle cx="565.52" cy="544.08" r="1.10" fill="rgb(121,72,170)" stroke="none" stroke-width="0"/>
<circle cx="543.67" cy="543.32" r="1.10" fill="rgb(212,23,110)" stroke="none" stroke-width="0"/>
<circle cx="568.64" cy="542.79" r="1.10" fill="rgb(181,40,130)" stroke="none" stroke-width="0"/>
<circle cx="522.62" cy="543.48" r="1.10" fill="rgb(112,77,176)" stroke="none" stroke-width="0"/>
<circle cx="510.16" cy="542.43" r="1.10" fill="rgb(166,48,140)" stroke="none" stroke-width="0"/>
<circle cx="540.87" cy="543.62" r="1.10" fill="rgb(171,45,137)" stroke="none" stroke-width="0"/>
<circle cx="567.23" cy="544.52" r="1.10" fill="rgb(90,89,191)" stroke="none" stroke-width="0"/>
<circle cx="539.21" cy="544.00" r="1.10" fill="rgb(182,39,130)" stroke="none" stroke-width="0"/>
<circle cx="565.65" cy="543.26" r="1.10" fill="rgb(151,56,150)" stroke="none" stroke-width="0"/>
<circle cx="574.17" cy="543.91" r="1.10" fill="rgb(101,83,183)" stroke="none" stroke-width="0"/>
<circle cx="551.14" cy="543.83" r="1.10" fill="rgb(93,87,188)" stroke="none" stroke-width="0"/>
<circle cx="554.44" cy="542.99" r="1.10" fill="rgb(243,6,89)" stroke="none" stroke-width="0"/>
<circle cx="575.66" cy="543.45" r="1.10" fill="rgb(173,44,135)" stroke="none" stroke-width="0"/>
<circle cx="569.69" cy="544.15" r="1.10" fill="rgb(94,87,188)" stroke="none" stroke-width="0"/>
<circle cx="550.37" cy="544.59" r="1.10" fill="rgb(145,59,154)" stroke="none" stroke-width="0"/>
<circle cx="531.99" cy="543.58" r="1.10" fill="rgb(167,47,139)" stroke="none" stroke-width="0"/>
<circle cx="560.68" cy="543.31" r="1.10" fill="rgb(124,71,168)" stroke="none" stroke-width="0"/>
<circle cx="535.98" cy="544.48" r="1.10" fill="rgb(181,40,130)" stroke="none" stroke-width="0"/>
<circle cx="526.79" cy="543.21" r="1.10" fill="rgb(226,15,100)" stroke="none" stroke-width="0"/>
<circle cx="541.75" cy="543.52" r="1.10" fill="rgb(134,65,162)" stroke="none" stroke-width="0"/>
<circle cx="575.19" cy="544.38" r="1.10" fill="rgb(197,31,119)" stroke="none" stroke-width="0"/>
<circle cx="529.49" cy="542.90" r="1.10" fill="rgb(141,61,157)" stroke="none" stroke-width="0"/>
<circle cx="547.62" cy="544.35" r="1.10" fill="rgb(194,32,122)" stroke="none" stroke-width="0"/>
<circle cx="508.85" cy="544.66" r="1.10" fill="rgb(209,25,112)" stroke="none" stroke-width="0"/>
<circle cx="544.71" cy="542.90" r="1.10" fill="rgb(97,85,186)" stroke="none" stroke-width="0"/>
<circle cx="506.45" cy="544.76" r="1.10" fill="rgb(120,73,170)" stroke="none" stroke-width="0"/>
<circle cx="549.20" cy="544.37" r="1.10" fill="rgb(198,30,119)" stroke="none" stroke-width="0"/>
<circle cx="570.56" cy="543.85" r="1.10" fill="rgb(190,35,124)" stroke="none" stroke-width="0"/>
<circle cx="550.48" cy="543.79" r="1.10" fill="rgb(204,27,115)" stroke="none" stroke-width="0"/>
<circle cx="554.32" cy="544.00" r="1.10" fill="rgb(124,71,168)" stroke="none" stroke-width="0"/>
<circle cx="538.50" cy="542.30" r="1.10" fill="rgb(215,21,108)" stroke="none" stroke-width="0"/>
<circle cx="518.87" cy="544.32" r="1.10" fill="rgb(95,87,187)" stroke="none" stroke-width="0"/>
<circle cx="570.86" cy="543.11" r="1.10" fill="rgb(197,31,119)" stroke="none" stroke-width="0"/>
<circle cx="564.37" cy="543.69" r="1.10" fill="rgb(219,19,105)" stroke="none" stroke-width="0"/>
<circle cx="524.31" cy="543.27" r="1.10" fill="rgb(139,63,158)" stroke="none" stroke-width="0"/>
<circle cx="528.60" cy="543.93" r="1.10" fill="rgb(160,51,144)" stroke="none" stroke-width="0"/>
<circle cx="572.27" cy="543.70" r="1.10" fill="rgb(98,85,185)" stroke="none" stroke-width="0"/>
<circle cx="508.80" cy="544.43" r="1.10" fill="rgb(108,79,178)" stroke="none" stroke-width="0"/>
<circle cx="546.83" cy="543.34" r="1.10" fill="rgb(241,7,90)" stroke="none" stroke-width="0"/>
<circle cx="507.01" cy="543.78" r="1.10" fill="rgb(153,55,149)" stroke="none" stroke-width="0"/>
<circle cx="572.54" cy="543.43" r="1.10" fill="rgb(251,1,84)" stroke="none" stroke-width="0"/>
<circle cx="535.27" cy="543.93" r="1.10" fill="rgb(106,81,180)" stroke="none" stroke-width="0"/>
<circle cx="521.07" cy="542.05" r="1.10" fill="rgb(114,76,175)" stroke="none" stroke-width="0"/>
<circle cx="506.35" cy="542.37" r="1.10" fill="rgb(202,28,116)" stroke="none" stroke-width="0"/>
<circle cx="574.57" cy="544.61" r="1.10" fill="rgb(103,82,182)" stroke="none" stroke-width="0"/>
<circle cx="515.16" cy="544.16" r="1.10" fill="rgb(92,88,189)" stroke="none" stroke-width="0"/>
<circle cx="523.20" cy="542.56" r="1.10" fill="rgb(210,24,111)" stroke="none" stroke-width="0"/>
<circle cx="509.57" cy="544.14" r="1.10" fill="rgb(217,20,106)" stroke="none" stroke-width="0"/>
<circle cx="566.71" cy="542.25" r="1.10" fill="rgb(210,24,111)" stroke="none" stroke-width="0"/>
<circle cx="550.61" cy="543.38" r="1.10" fill="rgb(206,26,113)" stroke="none" stroke-width="0"/>
<circle cx="572.16" cy="544.89" r="1.10" fill="rgb(131,67,163)" stroke="none" stroke-width="0"/>
<circle cx="556.90" cy="542.04" r="1.10" fill="rgb(91,89,190)" stroke="none" stroke-width="0"/>
<circle cx="552.18" cy="542.24" r="1.10" fill="rgb(224,16,102)" stroke="none" stroke-width="0"/>
<circle cx="528.08" cy="542.50" r="1.10" fill="rgb(210,24,111)" stroke="none" stroke-width="0"/>
<circle cx="567.10" cy="542.18" r="1.10" fill="rgb(169,46,138)" stroke="none" stroke-width="0"/>
<circle cx="534.73" cy="543.29" r="1.10" fill="rgb(205,26,114)" stroke="none" stroke-width="0"/>
<circle cx="553.46" cy="542.39" r="1.10" fill="rgb(223,16,102)" stroke="none" stroke-width="0"/>
<circle cx="534.13" cy="543.92" r="1.10" fill="rgb(165,48,141)" stroke="none" stroke-width="0"/>
<circle cx="554.70" cy="543.18" r="1.10" fill="rgb(222,17,103)" stroke="none" stroke-width="0"/>
<circle cx="560.36" cy="543.59" r="1.10" fill="rgb(146,59,153)" stroke="none" stroke-width="0"/>
<circle cx="537.63" cy="541.66" r="1.10" fill="rgb(251,2,84)" stroke="none" stroke-width="0"/>
<circle cx="538.16" cy="542.78" r="1.10" fill="rgb(194,32,121)" stroke="none" stroke-width="0"/>
<circle cx="525.47" cy="543.98" r="1.10" fill="rgb(229,14,99)" stroke="none" stroke-width="0"/>
<circle cx="536.65" cy="543.22" r="1.10" fill="rgb(237,9,93)" stroke="none" stroke-width="0"/>
<circle cx="538.49" cy="542.96" r="1.10" fill="rgb(206,26,113)" stroke="none" stroke-width="0"/>
<circle cx="526.35" cy="543.86" r="1.10" fill="rgb(145,59,154)" stroke="none" stroke-width="0"/>
<circle cx="530.78" cy="542.39" r="1.10" fill="rgb(142,61,156)" stroke="none" stroke-width="0"/>
<circle cx="531.75" cy="544.29" r="1.10" fill="rgb(237,9,93)" stroke="none" stroke-width="0"/>
<circle cx="549.96" cy="541.61" r="1.10" fill="rgb(229,13,98)" stroke="none" stroke-width="0"/>
<circle cx="551.36" cy="543.77" r="1.10" fill="rgb(143,60,155)" stroke="none" stroke-width="0"/>
<circle cx="524.80" cy="543.81" r="1.10" fill="rgb(225,16,101)" stroke="none" stroke-width="0"/>
<circle cx="534.70" cy="542.98" r="1.10" fill="rgb(115,76,174)" stroke="none" stroke-width="0"/>
<circle cx="523.08" cy="543.53" r="1.10" fill="rgb(224,16,102)" stroke="none" stroke-width="0"/>
<circle cx="548.83" cy="545.39" r="1.10" fill="rgb(137,63,159)" stroke="none" stroke-width="0"/>
<circle cx="559.73" cy="543.65" r="1.10" fill="rgb(205,26,114)" stroke="none" stroke-width="0"/>
<circle cx="536.92" cy="542.52" r="1.10" fill="rgb(216,20,107)" stroke="none" stroke-width="0"/>
<circle cx="545.15" cy="544.94" r="1.10" fill="rgb(172,45,136)" stroke="none" stroke-width="0"/>
<circle cx="559.31" cy="543.91" r="1.10" fill="rgb(137,63,159)" stroke="none" stroke-width="0"/>
<circle cx="553.28" cy="543.75" r="1.10" fill="rgb(239,8,92)" stroke="none" stroke-width="0"/>
<circle cx="552.90" cy="543.42" r="1.10" fill="rgb(192,34,123)" stroke="none" stroke-width="0"/>
<circle cx="535.52" cy="542.37" r="1.10" fill="rgb(131,67,163)" stroke="none" stroke-width="0"/>
<circle cx="550.30" cy="542.95" r="1.10" fill="rgb(188,36,126)" stroke="none" stroke-width="0"/>
<circle cx="557.94" cy="543.32" r="1.10" fill="rgb(181,40,130)" stroke="none" stroke-width="0"/>
<circle cx="545.47" cy="545.95" r="1.10" fill="rgb(159,52,145)" stroke="none" stroke-width="0"/>
<circle cx="546.12" cy="541.59" r="1.10" fill="rgb(198,30,119)" stroke="none" stroke-width="0"/>
<circle cx="545.03" cy="543.98" r="1.10" fill="rgb(154,54,148)" stroke="none" stroke-width="0"/>
<circle cx="537.91" cy="543.58" r="1.10" fill="rgb(105,81,181)" stroke="none" stroke-width="0"/>
<circle cx="573.87" cy="543.52" r="1.10" fill="rgb(176,42,134)" stroke="none" stroke-width="0"/>
<circle cx="550.13" cy="543.77" r="1.10" fill="rgb(142,61,156)" stroke="none" stroke-width="0"/>
<circle cx="545.60" cy="545.69" r="1.10" fill="rgb(219,19,105)" stroke="none" stroke-width="0"/>
<circle cx="533.16" cy="544.43" r="1.10" fill="rgb(249,3,85)" stroke="none" stroke-width="0"/>
<circle cx="543.59" cy="542.00" r="1.10" fill="rgb(129,68,165)" stroke="none" stroke-width="0"/>
<circle cx="546.47" cy="541.50" r="1.10" fill="rgb(109,79,178)" stroke="none" stroke-width="0"/>
<circle cx="524.47" cy="543.47" r="1.10" fill="rgb(246,4,87)" stroke="none" stroke-width="0"/>
<circle cx="536.42" cy="545.09" r="1.10" fill="rgb(111,78,176)" stroke="none" stroke-width="0"/>
<circle cx="592.73" cy="540.79" r="1.10" fill="rgb(24,125,234)" stroke="none" stroke-width="0"/>
<circle cx="594.47" cy="541.45" r="1.10" fill="rgb(14,131,241)" stroke="none" stroke-width="0"/>
<circle cx="587.18" cy="543.98" r="1.10" fill="rgb(10,133,244)" stroke="none" stroke-width="0"/>
<circle cx="584.67" cy="543.42" r="1.10" fill="rgb(4,136,248)" stroke="none" stroke-width="0"/>
<circle cx="620.58" cy="543.47" r="1.10" fill="rgb(0,138,250)" stroke="none" stroke-width="0"/>
<circle cx="593.90" cy="541.54" r="1.10" fill="rgb(8,134,245)" stroke="none" stroke-width="0"/>
<circle cx="611.53" cy="544.20" r="1.10" fill="rgb(1,138,250)" stroke="none" stroke-width="0"/>
<circle cx="589.68" cy="544.82" r="1.10" fill="rgb(18,129,239)" stroke="none" stroke-width="0"/>
<circle cx="585.95" cy="542.55" r="1.10" fill="rgb(3,136,248)" stroke="none" stroke-width="0"/>
<circle cx="581.91" cy="543.67" r="1.10" fill="rgb(23,125,235)" stroke="none" stroke-width="0"/>
<circle cx="595.98" cy="544.35" r="1.10" fill="rgb(19,128,238)" stroke="none" stroke-width="0"/>
<circle cx="593.21" cy="540.53" r="1.10" fill="rgb(8,134,245)" stroke="none" stroke-width="0"/>
<circle cx="598.52" cy="543.31" r="1.10" fill="rgb(4,136,248)" stroke="none" stroke-width="0"/>
<circle cx="602.40" cy="541.21" r="1.10" fill="rgb(3,137,248)" stroke="none" stroke-width="0"/>
<circle cx="598.17" cy="545.67" r="1.10" fill="rgb(4,136,247)" stroke="none" stroke-width="0"/>
<circle cx="597.64" cy="538.91" r="1.10" fill="rgb(23,126,235)" stroke="none" stroke-width="0"/>
<circle cx="601.79" cy="546.85" r="1.10" fill="rgb(22,126,235)" stroke="none" stroke-width="0"/>
<circle cx="615.27" cy="543.24" r="1.10" fill="rgb(11,132,243)" stroke="none" stroke-width="0"/>
<circle cx="612.33" cy="544.08" r="1.10" fill="rgb(16,130,240)" stroke="none" stroke-width="0"/>
<circle cx="608.21" cy="543.30" r="1.10" fill="rgb(8,134,245)" stroke="none" stroke-width="0"/>
<circle cx="602.34" cy="544.63" r="1.10" fill="rgb(3,137,248)" stroke="none" stroke-width="0"/>
<circle cx="591.28" cy="541.85" r="1.10" fill="rgb(1,138,250)" stroke="none" stroke-width="0"/>
<circle cx="596.60" cy="540.09" r="1.10" fill="rgb(22,126,236)" stroke="none" stroke-width="0"/>
<circle cx="589.73" cy="542.41" r="1.10" fill="rgb(10,133,244)" stroke="none" stroke-width="0"/>
<circle cx="601.90" cy="546.58" r="1.10" fill="rgb(8,134,245)" stroke="none" stroke-width="0"/>
<circle cx="603.46" cy="540.83" r="1.10" fill="rgb(12,132,242)" stroke="none" stroke-width="0"/>
<circle cx="592.19" cy="540.92" r="1.10" fill="rgb(24,125,234)" stroke="none" stroke-width="0"/>
<circle cx="612.92" cy="542.86" r="1.10" fill="rgb(22,126,235)" stroke="none" stroke-width="0"/>
<circle cx="596.23" cy="543.29" r="1.10" fill="rgb(7,135,246)" stroke="none" stroke-width="0"/>
<circle cx="594.34" cy="541.48" r="1.10" fill="rgb(5,136,247)" stroke="none" stroke-width="0"/>
<circle cx="584.06" cy="544.15" r="1.10" fill="rgb(23,126,235)" stroke="none" stroke-width="0"/>
<circle cx="615.42" cy="543.22" r="1.10" fill="rgb(7,134,246)" stroke="none" stroke-width="0"/>
<circle cx="600.66" cy="545.68" r="1.10" fill="rgb(7,134,246)" stroke="none" stroke-width="0"/>
<circle cx="597.17" cy="548.18" r="1.10" fill="rgb(0,138,250)" stroke="none" stroke-width="0"/>
<circle cx="601.00" cy="540.08" r="1.10" fill="rgb(0,138,250)" stroke="none" stroke-width="0"/>
<circle cx="592.49" cy="545.80" r="1.10" fill="rgb(13,131,242)" stroke="none" stroke-width="0"/>
<circle cx="601.72" cy="547.27" r="1.10" fill="rgb(5,135,247)" stroke="none" stroke-width="0"/>
<circle cx="605.80" cy="543.94" r="1.10" fill="rgb(3,137,248)" stroke="none" stroke-width="0"/>
<circle cx="603.96" cy="545.12" r="1.10" fill="rgb(5,136,247)" stroke="none" stroke-width="0"/>
<circle cx="609.92" cy="542.24" r="1.10" fill="rgb(2,137,249)" stroke="none" stroke-width="0"/>
<circle cx="592.11" cy="542.00" r="1.10" fill="rgb(5,136,247)" stroke="none" stroke-width="0"/>
<circle cx="593.34" cy="544.36" r="1.10" fill="rgb(18,129,239)" stroke="none" stroke-width="0"/>
<circle cx="602.29" cy="540.87" r="1.10" fill="rgb(1,138,249)" stroke="none" stroke-width="0"/>
<circle cx="589.81" cy="544.60" r="1.10" fill="rgb(10,133,244)" stroke="none" stroke-width="0"/>
<circle cx="598.25" cy="546.60" r="1.10" fill="rgb(8,134,245)" stroke="none" stroke-width="0"/>
<circle cx="596.27" cy="546.74" r="1.10" fill="rgb(22,126,236)" stroke="none" stroke-width="0"/>
<circle cx="597.40" cy="547.54" r="1.10" fill="rgb(12,132,242)" stroke="none" stroke-width="0"/>
<circle cx="598.74" cy="547.22" r="1.10" fill="rgb(6,135,246)" stroke="none" stroke-width="0"/>
<circle cx="604.02" cy="542.49" r="1.10" fill="rgb(4,136,248)" stroke="none" stroke-width="0"/>
<circle cx="611.26" cy="543.22" r="1.10" fill="rgb(15,130,240)" stroke="none" stroke-width="0"/>
<circle cx="607.45" cy="543.24" r="1.10" fill="rgb(13,131,242)" stroke="none" stroke-width="0"/>
<circle cx="598.94" cy="539.71" r="1.10" fill="rgb(18,129,238)" stroke="none" stroke-width="0"/>
<circle cx="604.57" cy="542.21" r="1.10" fill="rgb(18,129,238)" stroke="none" stroke-width="0"/>
<circle cx="585.43" cy="543.28" r="1.10" fill="rgb(19,128,238)" stroke="none" stroke-width="0"/>
<circle cx="612.31" cy="544.27" r="1.10" fill="rgb(12,132,242)" stroke="none" stroke-width="0"/>
<circle cx="604.20" cy="543.60" r="1.10" fill="rgb(13,131,242)" stroke="none" stroke-width="0"/>
<circle cx="597.24" cy="548.08" r="1.10" fill="rgb(5,135,247)" stroke="none" stroke-width="0"/>
<circle cx="598.34" cy="540.33" r="1.10" fill="rgb(2,137,249)" stroke="none" stroke-width="0"/>
<circle cx="598.64" cy="538.80" r="1.10" fill="rgb(2,137,249)" stroke="none" stroke-width="0"/>
<circle cx="612.03" cy="543.86" r="1.10" fill="rgb(4,136,247)" stroke="none" stroke-width="0"/>
<circle cx="608.41" cy="543.81" r="1.10" fill="rgb(13,131,242)" stroke="none" stroke-width="0"/>
<circle cx="599.77" cy="545.50" r="1.10" fill="rgb(2,137,249)" stroke="none" stroke-width="0"/>
<circle cx="606.53" cy="540.97" r="1.10" fill="rgb(3,137,248)" stroke="none" stroke-width="0"/>
<circle cx="590.27" cy="543.47" r="1.10" fill="rgb(12,132,242)" stroke="none" stroke-width="0"/>
<circle cx="598.00" cy="542.56" r="1.10" fill="rgb(3,137,248)" stroke="none" stroke-width="0"/>
<circle cx="602.31" cy="544.31" r="1.10" fill="rgb(21,127,236)" stroke="none" stroke-width="0"/>
<circle cx="604.36" cy="545.31" r="1.10" fill="rgb(4,136,248)" stroke="none" stroke-width="0"/>
<circle cx="606.22" cy="545.40" r="1.10" fill="rgb(23,125,235)" stroke="none" stroke-width="0"/>
<circle cx="592.89" cy="545.97" r="1.10" fill="rgb(13,131,242)" stroke="none" stroke-width="0"/>
<circle cx="603.55" cy="542.67" r="1.10" fill="rgb(24,125,235)" stroke="none" stroke-width="0"/>
<circle cx="599.79" cy="540.93" r="1.10" fill="rgb(8,134,245)" stroke="none" stroke-width="0"/>
<circle cx="592.19" cy="543.07" r="1.10" fill="rgb(25,125,234)" stroke="none" stroke-width="0"/>
<circle cx="604.04" cy="545.90" r="1.10" fill="rgb(21,127,236)" stroke="none" stroke-width="0"/>
<circle cx="583.61" cy="542.99" r="1.10" fill="rgb(13,131,242)" stroke="none" stroke-width="0"/>
<circle cx="614.99" cy="543.30" r="1.10" fill="rgb(10,133,243)" stroke="none" stroke-width="0"/>
<circle cx="594.26" cy="544.60" r="1.10" fill="rgb(9,133,244)" stroke="none" stroke-width="0"/>
<circle cx="595.99" cy="542.88" r="1.10" fill="rgb(12,131,242)" stroke="none" stroke-width="0"/>
<circle cx="598.15" cy="538.72" r="1.10" fill="rgb(3,137,248)" stroke="none" stroke-width="0"/>
<circle cx="610.99" cy="544.53" r="1.10" fill="rgb(16,130,240)" stroke="none" stroke-width="0"/>
<circle cx="596.31" cy="546.43" r="1.10" fill="rgb(22,126,236)" stroke="none" stroke-width="0"/>
<circle cx="600.11" cy="544.89" r="1.10" fill="rgb(6,135,246)" stroke="none" stroke-width="0"/>
<circle cx="597.41" cy="545.26" r="1.10" fill="rgb(6,135,246)" stroke="none" stroke-width="0"/>
<circle cx="582.80" cy="543.61" r="1.10" fill="rgb(6,135,246)" stroke="none" stroke-width="0"/>
<circle cx="594.36" cy="543.67" r="1.10" fill="rgb(11,132,243)" stroke="none" stroke-width="0"/>
<circle cx="604.36" cy="542.07" r="1.10" fill="rgb(16,129,240)" stroke="none" stroke-width="0"/>
<circle cx="596.87" cy="539.82" r="1.10" fill="rgb(15,130,240)" stroke="none" stroke-width="0"/>
<circle cx="607.05" cy="542.31" r="1.10" fill="rgb(11,132,243)" stroke="none" stroke-width="0"/>
<circle cx="596.31" cy="543.82" r="1.10" fill="rgb(3,136,248)" stroke="none" stroke-width="0"/>
<circle cx="601.42" cy="541.58" r="1.10" fill="rgb(10,133,244)" stroke="none" stroke-width="0"/>
<circle cx="601.38" cy="541.53" r="1.10" fill="rgb(6,135,246)" stroke="none" stroke-width="0"/>
<circle cx="606.43" cy="545.42" r="1.10" fill="rgb(15,130,240)" stroke="none" stroke-width="0"/>
<circle cx="603.45" cy="544.06" r="1.10" fill="rgb(16,129,240)" stroke="none" stroke-width="0"/>
<circle cx="602.12" cy="543.15" r="1.10" fill="rgb(13,131,241)" stroke="none" stroke-width="0"/>
<circle cx="609.55" cy="543.87" r="1.10" fill="rgb(11,132,243)" stroke="none" stroke-width="0"/>
<circle cx="596.68" cy="540.82" r="1.10" fill="rgb(13,131,242)" stroke="none" stroke-width="0"/>
<circle cx="603.69" cy="542.58" r="1.10" fill="rgb(14,130,241)" stroke="none" stroke-width="0"/>
<circle cx="605.41" cy="545.85" r="1.10" fill="rgb(6,135,246)" stroke="none" stroke-width="0"/>
<circle cx="599.18" cy="544.07" r="1.10" fill="rgb(12,132,242)" stroke="none" stroke-width="0"/>
<circle cx="594.03" cy="541.84" r="1.10" fill="rgb(19,128,237)" stroke="none" stroke-width="0"/>
<circle cx="619.60" cy="543.45" r="1.10" fill="rgb(1,138,249)" stroke="none" stroke-width="0"/>
<circle cx="604.06" cy="540.18" r="1.10" fill="rgb(9,133,244)" stroke="none" stroke-width="0"/>
<circle cx="593.04" cy="543.06" r="1.10" fill="rgb(18,128,238)" stroke="none" stroke-width="0"/>
<circle cx="602.68" cy="547.44" r="1.10" fill="rgb(18,128,238)" stroke="none" stroke-width="0"/>
<circle cx="601.96" cy="540.38" r="1.10" fill="rgb(8,134,245)" stroke="none" stroke-width="0"/>
<circle cx="592.16" cy="544.28" r="1.10" fill="rgb(21,127,236)" stroke="none" stroke-width="0"/>
<circle cx="607.37" cy="545.06" r="1.10" fill="rgb(13,131,242)" stroke="none" stroke-width="0"/>
<circle cx="597.84" cy="546.08" r="1.10" fill="rgb(12,132,242)" stroke="none" stroke-width="0"/>
<circle cx="586.77" cy="544.24" r="1.10" fill="rgb(18,129,239)" stroke="none" stroke-width="0"/>
<circle cx="601.93" cy="546.85" r="1.10" fill="rgb(0,138,250)" stroke="none" stroke-width="0"/>
<circle cx="596.75" cy="546.06" r="1.10" fill="rgb(14,130,241)" stroke="none" stroke-width="0"/>
<circle cx="580.11" cy="543.53" r="1.10" fill="rgb(10,133,243)" stroke="none" stroke-width="0"/>
<circle cx="598.93" cy="546.34" r="1.10" fill="rgb(22,126,236)" stroke="none" stroke-width="0"/>
<circle cx="593.15" cy="543.14" r="1.10" fill="rgb(11,132,243)" stroke="none" stroke-width="0"/>
<circle cx="594.26" cy="545.35" r="1.10" fill="rgb(7,134,246)" stroke="none" stroke-width="0"/>
<circle cx="591.55" cy="542.79" r="1.10" fill="rgb(8,134,245)" stroke="none" stroke-width="0"/>
<circle cx="604.52" cy="545.57" r="1.10" fill="rgb(21,127,236)" stroke="none" stroke-width="0"/>
<circle cx="590.84" cy="541.74" r="1.10" fill="rgb(7,134,245)" stroke="none" stroke-width="0"/>
<circle cx="598.70" cy="539.95" r="1.10" fill="rgb(14,131,241)" stroke="none" stroke-width="0"/>
<circle cx="595.97" cy="547.42" r="1.10" fill="rgb(8,134,245)" stroke="none" stroke-width="0"/>
<circle cx="597.16" cy="546.86" r="1.10" fill="rgb(21,127,236)" stroke="none" stroke-width="0"/>
<circle cx="603.41" cy="542.91" r="1.10" fill="rgb(23,126,235)" stroke="none" stroke-width="0"/>
<circle cx="597.43" cy="538.68" r="1.10" fill="rgb(1,138,250)" stroke="none" stroke-width="0"/>
<circle cx="590.89" cy="545.85" r="1.10" fill="rgb(19,128,237)" stroke="none" stroke-width="0"/>
<circle cx="595.31" cy="543.85" r="1.10" fill="rgb(25,125,234)" stroke="none" stroke-width="0"/>
<circle cx="589.99" cy="544.40" r="1.10" fill="rgb(9,133,244)" stroke="none" stroke-width="0"/>
<circle cx="597.72" cy="542.09" r="1.10" fill="rgb(15,130,240)" stroke="none" stroke-width="0"/>
<circle cx="588.24" cy="544.12" r="1.10" fill="rgb(13,131,242)" stroke="none" stroke-width="0"/>
<circle cx="612.85" cy="542.91" r="1.10" fill="rgb(9,133,244)" stroke="none" stroke-width="0"/>
<circle cx="591.13" cy="543.93" r="1.10" fill="rgb(22,126,236)" stroke="none" stroke-width="0"/>
<circle cx="604.10" cy="547.01" r="1.10" fill="rgb(12,132,242)" stroke="none" stroke-width="0"/>
<circle cx="589.25" cy="545.63" r="1.10" fill="rgb(8,134,245)" stroke="none" stroke-width="0"/>
<circle cx="602.40" cy="543.76" r="1.10" fill="rgb(20,127,237)" stroke="none" stroke-width="0"/>
<circle cx="601.71" cy="547.88" r="1.10" fill="rgb(21,127,237)" stroke="none" stroke-width="0"/>
<circle cx="604.25" cy="543.59" r="1.10" fill="rgb(2,137,249)" stroke="none" stroke-width="0"/>
<circle cx="607.41" cy="545.05" r="1.10" fill="rgb(25,125,234)" stroke="none" stroke-width="0"/>
<circle cx="591.86" cy="545.99" r="1.10" fill="rgb(10,133,243)" stroke="none" stroke-width="0"/>
<circle cx="602.00" cy="543.60" r="1.10" fill="rgb(12,131,242)" stroke="none" stroke-width="0"/>
<circle cx="603.66" cy="541.04" r="1.10" fill="rgb(4,136,247)" stroke="none" stroke-width="0"/>
<circle cx="591.95" cy="542.55" r="1.10" fill="rgb(25,125,234)" stroke="none" stroke-width="0"/>
<circle cx="591.50" cy="544.33" r="1.10" fill="rgb(1,138,250)" stroke="none" stroke-width="0"/>
<circle cx="587.86" cy="542.87" r="1.10" fill="rgb(17,129,239)" stroke="none" stroke-width="0"/>
<circle cx="605.41" cy="540.28" r="1.10" fill="rgb(7,134,245)" stroke="none" stroke-width="0"/>
<circle cx="603.94" cy="544.79" r="1.10" fill="rgb(5,136,247)" stroke="none" stroke-width="0"/>
<circle cx="590.63" cy="543.49" r="1.10" fill="rgb(14,131,241)" stroke="none" stroke-width="0"/>
<circle cx="597.63" cy="543.81" r="1.10" fill="rgb(25,125,234)" stroke="none" stroke-width="0"/>
<circle cx="609.07" cy="543.77" r="1.10" fill="rgb(10,133,244)" stroke="none" stroke-width="0"/>
<circle cx="601.73" cy="545.87" r="1.10" fill="rgb(2,137,249)" stroke="none" stroke-width="0"/>
<circle cx="601.60" cy="539.81" r="1.10" fill="rgb(4,136,248)" stroke="none" stroke-width="0"/>
<circle cx="585.34" cy="543.71" r="1.10" fill="rgb(20,127,237)" stroke="none" stroke-width="0"/>
<circle cx="596.78" cy="539.27" r="1.10" fill="rgb(0,138,250)" stroke="none" stroke-width="0"/>
<circle cx="623.77" cy="544.02" r="1.10" fill="rgb(8,134,245)" stroke="none" stroke-width="0"/>
<circle cx="614.12" cy="542.94" r="1.10" fill="rgb(4,136,248)" stroke="none" stroke-width="0"/>
<circle cx="608.22" cy="543.70" r="1.10" fill="rgb(23,126,235)" stroke="none" stroke-width="0"/>
<circle cx="614.00" cy="543.23" r="1.10" fill="rgb(11,132,243)" stroke="none" stroke-width="0"/>
<circle cx="607.19" cy="543.70" r="1.10" fill="rgb(22,126,235)" stroke="none" stroke-width="0"/>
<circle cx="628.15" cy="543.79" r="1.10" fill="rgb(11,132,243)" stroke="none" stroke-width="0"/>
<circle cx="611.70" cy="544.53" r="1.10" fill="rgb(1,138,250)" stroke="none" stroke-width="0"/>
<circle cx="625.72" cy="544.46" r="1.10" fill="rgb(8,134,245)" stroke="none" stroke-width="0"/>
<circle cx="624.82" cy="543.75" r="1.10" fill="rgb(7,134,245)" stroke="none" stroke-width="0"/>
<circle cx="628.16" cy="544.58" r="1.10" fill="rgb(12,132,242)" stroke="none" stroke-width="0"/>
<circle cx="611.55" cy="544.02" r="1.10" fill="rgb(9,133,244)" stroke="none" stroke-width="0"/>
<circle cx="611.05" cy="544.40" r="1.10" fill="rgb(7,134,245)" stroke="none" stroke-width="0"/>
<circle cx="617.14" cy="542.88" r="1.10" fill="rgb(20,127,237)" stroke="none" stroke-width="0"/>
<circle cx="609.94" cy="542.75" r="1.10" fill="rgb(9,134,244)" stroke="none" stroke-width="0"/>
<circle cx="628.43" cy="543.65" r="1.10" fill="rgb(7,134,246)" stroke="none" stroke-width="0"/>
<circle cx="608.58" cy="543.23" r="1.10" fill="rgb(13,131,241)" stroke="none" stroke-width="0"/>
<circle cx="615.26" cy="542.60" r="1.10" fill="rgb(1,138,249)" stroke="none" stroke-width="0"/>
<circle cx="625.05" cy="542.89" r="1.10" fill="rgb(8,134,245)" stroke="none" stroke-width="0"/>
<circle cx="610.35" cy="542.87" r="1.10" fill="rgb(7,135,246)" stroke="none" stroke-width="0"/>
<circle cx="606.73" cy="543.12" r="1.10" fill="rgb(16,129,239)" stroke="none" stroke-width="0"/>
<circle cx="609.53" cy="542.52" r="1.10" fill="rgb(17,129,239)" stroke="none" stroke-width="0"/>
<circle cx="612.17" cy="542.61" r="1.10" fill="rgb(21,127,236)" stroke="none" stroke-width="0"/>
<circle cx="616.19" cy="544.23" r="1.10" fill="rgb(21,127,236)" stroke="none" stroke-width="0"/>
<circle cx="609.61" cy="544.03" r="1.10" fill="rgb(8,134,245)" stroke="none" stroke-width="0"/>
<circle cx="614.65" cy="542.80" r="1.10" fill="rgb(24,125,234)" stroke="none" stroke-width="0"/>
<circle cx="627.95" cy="542.85" r="1.10" fill="rgb(12,131,242)" stroke="none" stroke-width="0"/>
<circle cx="616.41" cy="544.00" r="1.10" fill="rgb(3,137,248)" stroke="none" stroke-width="0"/>
<circle cx="611.96" cy="543.71" r="1.10" fill="rgb(22,126,235)" stroke="none" stroke-width="0"/>
<circle cx="614.45" cy="543.76" r="1.10" fill="rgb(6,135,246)" stroke="none" stroke-width="0"/>
<circle cx="610.84" cy="542.59" r="1.10" fill="rgb(22,126,236)" stroke="none" stroke-width="0"/>
<circle cx="586.50" cy="543.04" r="1.10" fill="rgb(13,131,241)" stroke="none" stroke-width="0"/>
<circle cx="589.13" cy="543.82" r="1.10" fill="rgb(9,133,244)" stroke="none" stroke-width="0"/>
<circle cx="587.06" cy="543.28" r="1.10" fill="rgb(7,134,245)" stroke="none" stroke-width="0"/>
<circle cx="582.18" cy="544.20" r="1.10" fill="rgb(4,136,248)" stroke="none" stroke-width="0"/>
<circle cx="584.56" cy="542.72" r="1.10" fill="rgb(16,129,239)" stroke="none" stroke-width="0"/>
<circle cx="587.00" cy="543.50" r="1.10" fill="rgb(9,133,244)" stroke="none" stroke-width="0"/>
<circle cx="584.31" cy="543.12" r="1.10" fill="rgb(1,138,249)" stroke="none" stroke-width="0"/>
<circle cx="583.60" cy="543.93" r="1.10" fill="rgb(3,137,248)" stroke="none" stroke-width="0"/>
<circle cx="584.17" cy="544.32" r="1.10" fill="rgb(10,133,244)" stroke="none" stroke-width="0"/>
<circle cx="589.16" cy="544.22" r="1.10" fill="rgb(22,126,236)" stroke="none" stroke-width="0"/>
<circle cx="542.67" cy="563.05" r="1.10" fill="rgb(10,133,243)" stroke="none" stroke-width="0"/>
<circle cx="550.60" cy="563.56" r="1.10" fill="rgb(25,125,234)" stroke="none" stroke-width="0"/>
<circle cx="546.73" cy="564.12" r="1.10" fill="rgb(25,125,234)" stroke="none" stroke-width="0"/>
<circle cx="544.36" cy="563.56" r="1.10" fill="rgb(32,121,229)" stroke="none" stroke-width="0"/>
<circle cx="549.87" cy="563.18" r="1.10" fill="rgb(6,135,246)" stroke="none" stroke-width="0"/>
<circle cx="553.98" cy="564.14" r="1.10" fill="rgb(28,123,232)" stroke="none" stroke-width="0"/>
<circle cx="541.35" cy="563.26" r="1.10" fill="rgb(1,138,249)" stroke="none" stroke-width="0"/>
<circle cx="543.63" cy="563.61" r="1.10" fill="rgb(11,132,243)" stroke="none" stroke-width="0"/>
<circle cx="541.33" cy="564.02" r="1.10" fill="rgb(11,132,243)" stroke="none" stroke-width="0"/>
<circle cx="543.36" cy="563.91" r="1.10" fill="rgb(32,121,229)" stroke="none" stroke-width="0"/>
<circle cx="567.12" cy="563.13" r="1.10" fill="rgb(26,124,233)" stroke="none" stroke-width="0"/>
<circle cx="562.84" cy="562.61" r="1.10" fill="rgb(0,138,250)" stroke="none" stroke-width="0"/>
<circle cx="574.60" cy="562.28" r="1.10" fill="rgb(1,138,249)" stroke="none" stroke-width="0"/>
<circle cx="557.46" cy="565.01" r="1.10" fill="rgb(23,126,235)" stroke="none" stroke-width="0"/>
<circle cx="573.45" cy="560.67" r="1.10" fill="rgb(30,122,230)" stroke="none" stroke-width="0"/>
<circle cx="569.86" cy="560.86" r="1.10" fill="rgb(34,119,227)" stroke="none" stroke-width="0"/>
<circle cx="568.26" cy="565.82" r="1.10" fill="rgb(15,130,241)" stroke="none" stroke-width="0"/>
<circle cx="565.20" cy="566.15" r="1.10" fill="rgb(31,121,229)" stroke="none" stroke-width="0"/>
<circle cx="567.66" cy="568.43" r="1.10" fill="rgb(16,130,240)" stroke="none" stroke-width="0"/>
<circle cx="571.36" cy="567.89" r="1.10" fill="rgb(26,124,233)" stroke="none" stroke-width="0"/>
<circle cx="567.30" cy="565.12" r="1.10" fill="rgb(17,129,239)" stroke="none" stroke-width="0"/>
<circle cx="554.68" cy="563.00" r="1.10" fill="rgb(26,124,233)" stroke="none" stroke-width="0"/>
<circle cx="560.46" cy="566.29" r="1.10" fill="rgb(4,136,247)" stroke="none" stroke-width="0"/>
<circle cx="572.05" cy="566.18" r="1.10" fill="rgb(1,138,249)" stroke="none" stroke-width="0"/>
<circle cx="564.44" cy="561.64" r="1.10" fill="rgb(20,127,237)" stroke="none" stroke-width="0"/>
<circle cx="555.74" cy="564.89" r="1.10" fill="rgb(24,125,234)" stroke="none" stroke-width="0"/>
<circle cx="562.99" cy="560.29" r="1.10" fill="rgb(13,131,241)" stroke="none" stroke-width="0"/>
<circle cx="566.78" cy="562.90" r="1.10" fill="rgb(7,134,245)" stroke="none" stroke-width="0"/>
<circle cx="566.82" cy="565.91" r="1.10" fill="rgb(25,125,234)" stroke="none" stroke-width="0"/>
<circle cx="571.91" cy="561.40" r="1.10" fill="rgb(9,133,244)" stroke="none" stroke-width="0"/>
<circle cx="560.45" cy="566.33" r="1.10" fill="rgb(13,131,242)" stroke="none" stroke-width="0"/>
<circle cx="567.51" cy="561.72" r="1.10" fill="rgb(33,120,228)" stroke="none" stroke-width="0"/>
<circle cx="574.13" cy="562.55" r="1.10" fill="rgb(31,121,230)" stroke="none" stroke-width="0"/>
<circle cx="575.52" cy="564.10" r="1.10" fill="rgb(29,123,231)" stroke="none" stroke-width="0"/>
<circle cx="573.49" cy="564.59" r="1.10" fill="rgb(17,129,239)" stroke="none" stroke-width="0"/>
<circle cx="577.65" cy="565.00" r="1.10" fill="rgb(31,121,229)" stroke="none" stroke-width="0"/>
<circle cx="572.77" cy="562.60" r="1.10" fill="rgb(7,134,245)" stroke="none" stroke-width="0"/>
<circle cx="572.21" cy="559.86" r="1.10" fill="rgb(10,133,243)" stroke="none" stroke-width="0"/>
<circle cx="571.95" cy="563.32" r="1.10" fill="rgb(4,136,248)" stroke="none" stroke-width="0"/>
<circle cx="578.92" cy="563.18" r="1.10" fill="rgb(17,129,239)" stroke="none" stroke-width="0"/>
<circle cx="565.41" cy="559.68" r="1.10" fill="rgb(0,138,250)" stroke="none" stroke-width="0"/>
<circle cx="571.60" cy="568.40" r="1.10" fill="rgb(28,123,231)" stroke="none" stroke-width="0"/>
<circle cx="578.21" cy="565.75" r="1.10" fill="rgb(21,127,236)" stroke="none" stroke-width="0"/>
<circle cx="574.06" cy="560.85" r="1.10" fill="rgb(18,128,238)" stroke="none" stroke-width="0"/>
<circle cx="563.97" cy="564.18" r="1.10" fill="rgb(0,138,250)" stroke="none" stroke-width="0"/>
<circle cx="570.16" cy="568.02" r="1.10" fill="rgb(24,125,234)" stroke="none" stroke-width="0"/>
<circle cx="556.50" cy="564.22" r="1.10" fill="rgb(9,133,244)" stroke="none" stroke-width="0"/>
<circle cx="556.09" cy="563.16" r="1.10" fill="rgb(5,136,247)" stroke="none" stroke-width="0"/>
<circle cx="580.58" cy="564.63" r="1.10" fill="rgb(11,132,243)" stroke="none" stroke-width="0"/>
<circle cx="570.43" cy="560.67" r="1.10" fill="rgb(24,125,234)" stroke="none" stroke-width="0"/>
<circle cx="577.64" cy="562.31" r="1.10" fill="rgb(30,122,231)" stroke="none" stroke-width="0"/>
<circle cx="554.62" cy="564.38" r="1.10" fill="rgb(28,123,232)" stroke="none" stroke-width="0"/>
<circle cx="566.13" cy="567.04" r="1.10" fill="rgb(12,132,242)" stroke="none" stroke-width="0"/>
<circle cx="572.37" cy="562.64" r="1.10" fill="rgb(21,127,237)" stroke="none" stroke-width="0"/>
<circle cx="558.97" cy="562.61" r="1.10" fill="rgb(1,138,249)" stroke="none" stroke-width="0"/>
<circle cx="578.27" cy="564.07" r="1.10" fill="rgb(24,125,235)" stroke="none" stroke-width="0"/>
<circle cx="573.08" cy="567.18" r="1.10" fill="rgb(36,119,227)" stroke="none" stroke-width="0"/>
<circle cx="558.02" cy="563.78" r="1.10" fill="rgb(19,128,238)" stroke="none" stroke-width="0"/>
<circle cx="571.63" cy="564.56" r="1.10" fill="rgb(3,137,248)" stroke="none" stroke-width="0"/>
<circle cx="573.38" cy="565.32" r="1.10" fill="rgb(6,135,246)" stroke="none" stroke-width="0"/>
<circle cx="550.32" cy="563.60" r="1.10" fill="rgb(1,138,249)" stroke="none" stroke-width="0"/>
<circle cx="574.97" cy="563.39" r="1.10" fill="rgb(7,135,246)" stroke="none" stroke-width="0"/>
<circle cx="568.18" cy="567.34" r="1.10" fill="rgb(32,121,229)" stroke="none" stroke-width="0"/>
<circle cx="567.74" cy="566.78" r="1.10" fill="rgb(16,130,240)" stroke="none" stroke-width="0"/>
<circle cx="566.06" cy="563.95" r="1.10" fill="rgb(16,130,240)" stroke="none" stroke-width="0"/>
<circle cx="578.70" cy="563.21" r="1.10" fill="rgb(16,129,239)" stroke="none" stroke-width="0"/>
<circle cx="561.46" cy="566.50" r="1.10" fill="rgb(6,135,246)" stroke="none" stroke-width="0"/>
<circle cx="556.57" cy="563.22" r="1.10" fill="rgb(16,129,239)" stroke="none" stroke-width="0"/>
<circle cx="562.10" cy="561.60" r="1.10" fill="rgb(3,137,248)" stroke="none" stroke-width="0"/>
<circle cx="565.68" cy="562.08" r="1.10" fill="rgb(17,129,239)" stroke="none" stroke-width="0"/>
<circle cx="583.86" cy="564.17" r="1.10" fill="rgb(37,118,226)" stroke="none" stroke-width="0"/>
<circle cx="565.43" cy="568.25" r="1.10" fill="rgb(23,126,235)" stroke="none" stroke-width="0"/>
<circle cx="569.23" cy="565.62" r="1.10" fill="rgb(23,126,235)" stroke="none" stroke-width="0"/>
<circle cx="565.91" cy="561.80" r="1.10" fill="rgb(21,127,236)" stroke="none" stroke-width="0"/>
<circle cx="576.20" cy="564.64" r="1.10" fill="rgb(11,132,243)" stroke="none" stroke-width="0"/>
<circle cx="565.85" cy="562.26" r="1.10" fill="rgb(33,120,228)" stroke="none" stroke-width="0"/>
<circle cx="572.88" cy="565.32" r="1.10" fill="rgb(17,129,239)" stroke="none" stroke-width="0"/>
<circle cx="569.09" cy="559.51" r="1.10" fill="rgb(25,125,234)" stroke="none" stroke-width="0"/>
<circle cx="561.65" cy="563.23" r="1.10" fill="rgb(20,127,237)" stroke="none" stroke-width="0"/>
<circle cx="575.15" cy="564.23" r="1.10" fill="rgb(15,130,240)" stroke="none" stroke-width="0"/>
<circle cx="571.71" cy="567.42" r="1.10" fill="rgb(20,127,237)" stroke="none" stroke-width="0"/>
<circle cx="571.28" cy="560.10" r="1.10" fill="rgb(32,121,229)" stroke="none" stroke-width="0"/>
<circle cx="568.20" cy="564.12" r="1.10" fill="rgb(9,133,244)" stroke="none" stroke-width="0"/>
<circle cx="571.51" cy="563.70" r="1.10" fill="rgb(21,127,236)" stroke="none" stroke-width="0"/>
<circle cx="569.66" cy="559.85" r="1.10" fill="rgb(19,128,237)" stroke="none" stroke-width="0"/>
<circle cx="577.61" cy="564.20" r="1.10" fill="rgb(3,137,248)" stroke="none" stroke-width="0"/>
<circle cx="565.90" cy="563.20" r="1.10" fill="rgb(33,120,229)" stroke="none" stroke-width="0"/>
<circle cx="569.82" cy="564.31" r="1.10" fill="rgb(27,124,232)" stroke="none" stroke-width="0"/>
<circle cx="568.43" cy="568.90" r="1.10" fill="rgb(27,123,232)" stroke="none" stroke-width="0"/>
<circle cx="564.70" cy="560.14" r="1.10" fill="rgb(31,121,229)" stroke="none" stroke-width="0"/>
<circle cx="564.82" cy="568.07" r="1.10" fill="rgb(21,127,236)" stroke="none" stroke-width="0"/>
<circle cx="571.06" cy="566.46" r="1.10" fill="rgb(5,136,247)" stroke="none" stroke-width="0"/>
<circle cx="568.68" cy="561.07" r="1.10" fill="rgb(14,131,241)" stroke="none" stroke-width="0"/>
<circle cx="565.81" cy="559.04" r="1.10" fill="rgb(22,126,235)" stroke="none" stroke-width="0"/>
<circle cx="569.68" cy="565.92" r="1.10" fill="rgb(16,130,240)" stroke="none" stroke-width="0"/>
<circle cx="574.22" cy="566.68" r="1.10" fill="rgb(23,126,235)" stroke="none" stroke-width="0"/>
<circle cx="574.74" cy="566.71" r="1.10" fill="rgb(33,120,228)" stroke="none" stroke-width="0"/>
<circle cx="561.57" cy="561.55" r="1.10" fill="rgb(28,123,232)" stroke="none" stroke-width="0"/>
<circle cx="561.59" cy="565.03" r="1.10" fill="rgb(31,121,230)" stroke="none" stroke-width="0"/>
<circle cx="578.60" cy="562.38" r="1.10" fill="rgb(14,131,241)" stroke="none" stroke-width="0"/>
<circle cx="566.86" cy="566.06" r="1.10" fill="rgb(1,138,249)" stroke="none" stroke-width="0"/>
<circle cx="550.72" cy="563.86" r="1.10" fill="rgb(3,136,248)" stroke="none" stroke-width="0"/>
<circle cx="555.83" cy="562.88" r="1.10" fill="rgb(35,119,227)" stroke="none" stroke-width="0"/>
<circle cx="564.33" cy="565.37" r="1.10" fill="rgb(9,133,244)" stroke="none" stroke-width="0"/>
<circle cx="571.03" cy="567.07" r="1.10" fill="rgb(22,126,236)" stroke="none" stroke-width="0"/>
<circle cx="575.65" cy="561.41" r="1.10" fill="rgb(0,138,250)" stroke="none" stroke-width="0"/>
<circle cx="578.27" cy="562.54" r="1.10" fill="rgb(21,127,236)" stroke="none" stroke-width="0"/>
<circle cx="576.59" cy="562.67" r="1.10" fill="rgb(26,124,233)" stroke="none" stroke-width="0"/>
<circle cx="565.31" cy="567.39" r="1.10" fill="rgb(20,127,237)" stroke="none" stroke-width="0"/>
<circle cx="571.02" cy="565.63" r="1.10" fill="rgb(30,122,230)" stroke="none" stroke-width="0"/>
<circle cx="569.42" cy="562.18" r="1.10" fill="rgb(5,135,247)" stroke="none" stroke-width="0"/>
<circle cx="567.89" cy="563.82" r="1.10" fill="rgb(33,120,228)" stroke="none" stroke-width="0"/>
<circle cx="568.88" cy="560.51" r="1.10" fill="rgb(31,121,230)" stroke="none" stroke-width="0"/>
<circle cx="566.42" cy="565.61" r="1.10" fill="rgb(15,130,241)" stroke="none" stroke-width="0"/>
<circle cx="564.07" cy="566.83" r="1.10" fill="rgb(15,130,241)" stroke="none" stroke-width="0"/>
<circle cx="568.92" cy="567.66" r="1.10" fill="rgb(23,126,235)" stroke="none" stroke-width="0"/>
<circle cx="574.02" cy="561.65" r="1.10" fill="rgb(34,120,228)" stroke="none" stroke-width="0"/>
<circle cx="571.24" cy="564.65" r="1.10" fill="rgb(1,138,249)" stroke="none" stroke-width="0"/>
<circle cx="571.58" cy="563.50" r="1.10" fill="rgb(22,126,236)" stroke="none" stroke-width="0"/>
<circle cx="574.27" cy="562.97" r="1.10" fill="rgb(13,131,242)" stroke="none" stroke-width="0"/>
<circle cx="577.79" cy="563.07" r="1.10" fill="rgb(0,138,250)" stroke="none" stroke-width="0"/>
<circle cx="568.63" cy="563.38" r="1.10" fill="rgb(37,118,225)" stroke="none" stroke-width="0"/>
<circle cx="572.17" cy="565.34" r="1.10" fill="rgb(10,133,244)" stroke="none" stroke-width="0"/>
<circle cx="569.42" cy="561.47" r="1.10" fill="rgb(19,128,238)" stroke="none" stroke-width="0"/>
<circle cx="567.56" cy="564.09" r="1.10" fill="rgb(36,119,226)" stroke="none" stroke-width="0"/>
<circle cx="577.64" cy="566.02" r="1.10" fill="rgb(1,138,250)" stroke="none" stroke-width="0"/>
<circle cx="556.73" cy="564.89" r="1.10" fill="rgb(29,122,231)" stroke="none" stroke-width="0"/>
<circle cx="563.65" cy="564.93" r="1.10" fill="rgb(24,125,234)" stroke="none" stroke-width="0"/>
<circle cx="564.44" cy="566.47" r="1.10" fill="rgb(33,120,228)" stroke="none" stroke-width="0"/>
<circle cx="572.74" cy="567.57" r="1.10" fill="rgb(26,124,233)" stroke="none" stroke-width="0"/>
<circle cx="564.18" cy="565.92" r="1.10" fill="rgb(19,128,238)" stroke="none" stroke-width="0"/>
<circle cx="579.86" cy="564.19" r="1.10" fill="rgb(13,131,242)" stroke="none" stroke-width="0"/>
<circle cx="561.26" cy="560.94" r="1.10" fill="rgb(12,131,242)" stroke="none" stroke-width="0"/>
<circle cx="565.96" cy="562.05" r="1.10" fill="rgb(37,118,225)" stroke="none" stroke-width="0"/>
<circle cx="561.39" cy="562.10" r="1.10" fill="rgb(8,134,245)" stroke="none" stroke-width="0"/>
<circle cx="569.08" cy="562.24" r="1.10" fill="rgb(5,136,247)" stroke="none" stroke-width="0"/>
<circle cx="582.91" cy="563.74" r="1.10" fill="rgb(17,129,239)" stroke="none" stroke-width="0"/>
<circle cx="568.94" cy="564.51" r="1.10" fill="rgb(11,132,243)" stroke="none" stroke-width="0"/>
<circle cx="569.58" cy="561.77" r="1.10" fill="rgb(11,132,243)" stroke="none" stroke-width="0"/>
<circle cx="570.61" cy="566.04" r="1.10" fill="rgb(21,127,237)" stroke="none" stroke-width="0"/>
<circle cx="574.37" cy="566.87" r="1.10" fill="rgb(22,126,236)" stroke="none" stroke-width="0"/>
<circle cx="565.74" cy="559.69" r="1.10" fill="rgb(6,135,246)" stroke="none" stroke-width="0"/>
<circle cx="549.53" cy="563.75" r="1.10" fill="rgb(29,122,231)" stroke="none" stroke-width="0"/>
<circle cx="557.89" cy="563.53" r="1.10" fill="rgb(33,120,228)" stroke="none" stroke-width="0"/>
<circle cx="575.86" cy="566.20" r="1.10" fill="rgb(10,133,244)" stroke="none" stroke-width="0"/>
<circle cx="571.71" cy="561.55" r="1.10" fill="rgb(0,138,250)" stroke="none" stroke-width="0"/>
<circle cx="571.20" cy="565.76" r="1.10" fill="rgb(8,134,245)" stroke="none" stroke-width="0"/>
<circle cx="573.19" cy="562.97" r="1.10" fill="rgb(7,134,245)" stroke="none" stroke-width="0"/>
<circle cx="556.73" cy="564.23" r="1.10" fill="rgb(7,134,246)" stroke="none" stroke-width="0"/>
<circle cx="559.56" cy="564.98" r="1.10" fill="rgb(36,118,226)" stroke="none" stroke-width="0"/>
<circle cx="565.90" cy="566.85" r="1.10" fill="rgb(33,120,228)" stroke="none" stroke-width="0"/>
<circle cx="566.53" cy="562.20" r="1.10" fill="rgb(5,136,247)" stroke="none" stroke-width="0"/>
<circle cx="571.67" cy="567.30" r="1.10" fill="rgb(24,125,234)" stroke="none" stroke-width="0"/>
<circle cx="576.59" cy="566.07" r="1.10" fill="rgb(8,134,245)" stroke="none" stroke-width="0"/>
<circle cx="562.69" cy="564.95" r="1.10" fill="rgb(15,130,240)" stroke="none" stroke-width="0"/>
<circle cx="578.94" cy="564.43" r="1.10" fill="rgb(12,131,242)" stroke="none" stroke-width="0"/>
<circle cx="575.28" cy="560.84" r="1.10" fill="rgb(23,125,235)" stroke="none" stroke-width="0"/>
<circle cx="570.92" cy="562.19" r="1.10" fill="rgb(18,128,238)" stroke="none" stroke-width="0"/>
<circle cx="563.71" cy="563.49" r="1.10" fill="rgb(0,138,250)" stroke="none" stroke-width="0"/>
<circle cx="565.05" cy="567.81" r="1.10" fill="rgb(21,127,236)" stroke="none" stroke-width="0"/>
<circle cx="664.24" cy="564.14" r="1.10" fill="rgb(122,72,169)" stroke="none" stroke-width="0"/>
<circle cx="642.12" cy="562.58" r="1.10" fill="rgb(160,51,144)" stroke="none" stroke-width="0"/>
<circle cx="594.42" cy="564.60" r="1.10" fill="rgb(134,65,161)" stroke="none" stroke-width="0"/>
<circle cx="588.85" cy="563.57" r="1.10" fill="rgb(228,14,99)" stroke="none" stroke-width="0"/>
<circle cx="626.54" cy="563.96" r="1.10" fill="rgb(197,31,120)" stroke="none" stroke-width="0"/>
<circle cx="636.51" cy="563.29" r="1.10" fill="rgb(199,30,119)" stroke="none" stroke-width="0"/>
<circle cx="643.54" cy="564.43" r="1.10" fill="rgb(150,56,150)" stroke="none" stroke-width="0"/>
<circle cx="645.41" cy="563.23" r="1.10" fill="rgb(223,17,102)" stroke="none" stroke-width="0"/>
<circle cx="646.19" cy="563.66" r="1.10" fill="rgb(251,1,84)" stroke="none" stroke-width="0"/>
<circle cx="604.67" cy="565.12" r="1.10" fill="rgb(188,36,126)" stroke="none" stroke-width="0"/>
<circle cx="592.38" cy="563.73" r="1.10" fill="rgb(116,75,174)" stroke="none" stroke-width="0"/>
<circle cx="636.34" cy="563.39" r="1.10" fill="rgb(223,17,102)" stroke="none" stroke-width="0"/>
<circle cx="664.41" cy="564.57" r="1.10" fill="rgb(146,59,153)" stroke="none" stroke-width="0"/>
<circle cx="588.86" cy="562.70" r="1.10" fill="rgb(118,74,172)" stroke="none" stroke-width="0"/>
<circle cx="586.36" cy="563.97" r="1.10" fill="rgb(185,38,128)" stroke="none" stroke-width="0"/>
<circle cx="596.57" cy="563.40" r="1.10" fill="rgb(246,4,87)" stroke="none" stroke-width="0"/>
<circle cx="593.84" cy="564.51" r="1.10" fill="rgb(139,62,158)" stroke="none" stroke-width="0"/>
<circle cx="658.69" cy="562.39" r="1.10" fill="rgb(137,64,159)" stroke="none" stroke-width="0"/>
<circle cx="646.65" cy="565.25" r="1.10" fill="rgb(148,57,152)" stroke="none" stroke-width="0"/>
<circle cx="623.21" cy="563.33" r="1.10" fill="rgb(203,27,115)" stroke="none" stroke-width="0"/>
<circle cx="648.54" cy="563.27" r="1.10" fill="rgb(179,41,132)" stroke="none" stroke-width="0"/>
<circle cx="657.18" cy="564.50" r="1.10" fill="rgb(129,68,164)" stroke="none" stroke-width="0"/>
<circle cx="586.80" cy="563.51" r="1.10" fill="rgb(205,27,114)" stroke="none" stroke-width="0"/>
<circle cx="653.87" cy="563.99" r="1.10" fill="rgb(123,71,169)" stroke="none" stroke-width="0"/>
<circle cx="615.73" cy="565.13" r="1.10" fill="rgb(243,6,89)" stroke="none" stroke-width="0"/>
<circle cx="633.97" cy="563.06" r="1.10" fill="rgb(146,59,154)" stroke="none" stroke-width="0"/>
<circle cx="603.33" cy="562.99" r="1.10" fill="rgb(175,43,134)" stroke="none" stroke-width="0"/>
<circle cx="598.37" cy="564.23" r="1.10" fill="rgb(221,18,104)" stroke="none" stroke-width="0"/>
<circle cx="606.37" cy="562.95" r="1.10" fill="rgb(254,0,82)" stroke="none" stroke-width="0"/>
<circle cx="629.13" cy="564.89" r="1.10" fill="rgb(136,64,160)" stroke="none" stroke-width="0"/>
<circle cx="654.31" cy="564.55" r="1.10" fill="rgb(152,56,150)" stroke="none" stroke-width="0"/>
<circle cx="650.41" cy="563.29" r="1.10" fill="rgb(154,54,148)" stroke="none" stroke-width="0"/>
<circle cx="622.08" cy="562.78" r="1.10" fill="rgb(239,8,92)" stroke="none" stroke-width="0"/>
<circle cx="638.65" cy="563.66" r="1.10" fill="rgb(198,30,119)" stroke="none" stroke-width="0"/>
<circle cx="629.95" cy="562.93" r="1.10" fill="rgb(238,8,92)" stroke="none" stroke-width="0"/>
<circle cx="655.51" cy="564.64" r="1.10" fill="rgb(165,48,141)" stroke="none" stroke-width="0"/>
<circle cx="653.81" cy="564.89" r="1.10" fill="rgb(140,62,158)" stroke="none" stroke-width="0"/>
<circle cx="664.85" cy="562.37" r="1.10" fill="rgb(156,53,147)" stroke="none" stroke-width="0"/>
<circle cx="590.67" cy="562.33" r="1.10" fill="rgb(251,1,84)" stroke="none" stroke-width="0"/>
<circle cx="657.86" cy="564.51" r="1.10" fill="rgb(135,64,160)" stroke="none" stroke-width="0"/>
<circle cx="589.50" cy="564.35" r="1.10" fill="rgb(138,63,159)" stroke="none" stroke-width="0"/>
<circle cx="588.88" cy="565.06" r="1.10" fill="rgb(162,50,143)" stroke="none" stroke-width="0"/>
<circle cx="641.47" cy="565.24" r="1.10" fill="rgb(238,9,92)" stroke="none" stroke-width="0"/>
<circle cx="584.07" cy="564.68" r="1.10" fill="rgb(147,58,153)" stroke="none" stroke-width="0"/>
<circle cx="639.21" cy="563.81" r="1.10" fill="rgb(120,73,171)" stroke="none" stroke-width="0"/>
<circle cx="600.76" cy="562.61" r="1.10" fill="rgb(175,43,134)" stroke="none" stroke-width="0"/>
<circle cx="582.98" cy="563.25" r="1.10" fill="rgb(253,0,82)" stroke="none" stroke-width="0"/>
<circle cx="655.09" cy="563.76" r="1.10" fill="rgb(131,67,163)" stroke="none" stroke-width="0"/>
<circle cx="592.71" cy="562.84" r="1.10" fill="rgb(174,43,135)" stroke="none" stroke-width="0"/>
<circle cx="638.87" cy="564.51" r="1.10" fill="rgb(135,65,161)" stroke="none" stroke-width="0"/>
<circle cx="623.36" cy="563.36" r="1.10" fill="rgb(130,67,164)" stroke="none" stroke-width="0"/>
<circle cx="622.98" cy="563.35" r="1.10" fill="rgb(243,6,89)" stroke="none" stroke-width="0"/>
<circle cx="599.37" cy="564.95" r="1.10" fill="rgb(250,2,85)" stroke="none" stroke-width="0"/>
<circle cx="642.73" cy="562.83" r="1.10" fill="rgb(153,55,149)" stroke="none" stroke-width="0"/>
<circle cx="603.53" cy="562.43" r="1.10" fill="rgb(124,71,168)" stroke="none" stroke-width="0"/>
<circle cx="624.03" cy="563.97" r="1.10" fill="rgb(171,45,137)" stroke="none" stroke-width="0"/>
<circle cx="611.76" cy="564.36" r="1.10" fill="rgb(116,75,173)" stroke="none" stroke-width="0"/>
<circle cx="636.16" cy="563.95" r="1.10" fill="rgb(191,34,124)" stroke="none" stroke-width="0"/>
<circle cx="639.28" cy="564.92" r="1.10" fill="rgb(252,1,83)" stroke="none" stroke-width="0"/>
<circle cx="641.58" cy="563.25" r="1.10" fill="rgb(170,45,137)" stroke="none" stroke-width="0"/>
<circle cx="616.51" cy="563.46" r="1.10" fill="rgb(251,2,84)" stroke="none" stroke-width="0"/>
<circle cx="613.67" cy="562.73" r="1.10" fill="rgb(172,45,136)" stroke="none" stroke-width="0"/>
<circle cx="665.15" cy="564.12" r="1.10" fill="rgb(115,76,174)" stroke="none" stroke-width="0"/>
<circle cx="659.10" cy="564.13" r="1.10" fill="rgb(150,56,151)" stroke="none" stroke-width="0"/>
<circle cx="612.96" cy="562.90" r="1.10" fill="rgb(148,58,152)" stroke="none" stroke-width="0"/>
<circle cx="591.06" cy="564.65" r="1.10" fill="rgb(232,11,96)" stroke="none" stroke-width="0"/>
<circle cx="657.61" cy="564.38" r="1.10" fill="rgb(121,72,170)" stroke="none" stroke-width="0"/>
<circle cx="608.55" cy="563.95" r="1.10" fill="rgb(205,27,114)" stroke="none" stroke-width="0"/>
<circle cx="607.81" cy="562.30" r="1.10" fill="rgb(251,2,84)" stroke="none" stroke-width="0"/>
<circle cx="643.97" cy="563.83" r="1.10" fill="rgb(234,11,95)" stroke="none" stroke-width="0"/>
<circle cx="631.05" cy="563.00" r="1.10" fill="rgb(254,0,82)" stroke="none" stroke-width="0"/>
<circle cx="634.17" cy="563.44" r="1.10" fill="rgb(218,19,105)" stroke="none" stroke-width="0"/>
<circle cx="641.12" cy="563.88" r="1.10" fill="rgb(169,46,138)" stroke="none" stroke-width="0"/>
<circle cx="632.77" cy="563.27" r="1.10" fill="rgb(209,24,112)" stroke="none" stroke-width="0"/>
<circle cx="634.12" cy="562.97" r="1.10" fill="rgb(190,34,124)" stroke="none" stroke-width="0"/>
<circle cx="632.75" cy="565.03" r="1.10" fill="rgb(151,56,150)" stroke="none" stroke-width="0"/>
<circle cx="621.05" cy="563.87" r="1.10" fill="rgb(215,21,107)" stroke="none" stroke-width="0"/>
<circle cx="621.33" cy="562.73" r="1.10" fill="rgb(145,59,154)" stroke="none" stroke-width="0"/>
<circle cx="659.18" cy="563.87" r="1.10" fill="rgb(188,36,125)" stroke="none" stroke-width="0"/>
<circle cx="625.60" cy="563.02" r="1.10" fill="rgb(228,14,99)" stroke="none" stroke-width="0"/>
<circle cx="570.14" cy="583.23" r="1.10" fill="rgb(156,53,147)" stroke="none" stroke-width="0"/>
<circle cx="576.27" cy="584.35" r="1.10" fill="rgb(207,25,113)" stroke="none" stroke-width="0"/>
<circle cx="564.80" cy="582.34" r="1.10" fill="rgb(195,32,121)" stroke="none" stroke-width="0"/>
<circle cx="561.46" cy="586.60" r="1.10" fill="rgb(50,111,217)" stroke="none" stroke-width="0"/>
<circle cx="566.65" cy="579.88" r="1.10" fill="rgb(98,85,185)" stroke="none" stroke-width="0"/>
<circle cx="568.19" cy="585.99" r="1.10" fill="rgb(131,67,163)" stroke="none" stroke-width="0"/>
<circle cx="559.93" cy="582.54" r="1.10" fill="rgb(228,14,99)" stroke="none" stroke-width="0"/>
<circle cx="564.20" cy="585.43" r="1.10" fill="rgb(117,75,173)" stroke="none" stroke-width="0"/>
<circle cx="549.09" cy="584.04" r="1.10" fill="rgb(56,108,213)" stroke="none" stroke-width="0"/>
<circle cx="565.14" cy="585.25" r="1.10" fill="rgb(100,84,184)" stroke="none" stroke-width="0"/>
<circle cx="557.39" cy="582.51" r="1.10" fill="rgb(94,87,188)" stroke="none" stroke-width="0"/>
<circle cx="562.44" cy="582.32" r="1.10" fill="rgb(29,123,231)" stroke="none" stroke-width="0"/>
<circle cx="566.35" cy="579.41" r="1.10" fill="rgb(61,105,209)" stroke="none" stroke-width="0"/>
<circle cx="573.07" cy="584.51" r="1.10" fill="rgb(81,94,196)" stroke="none" stroke-width="0"/>
<circle cx="560.55" cy="586.66" r="1.10" fill="rgb(44,114,221)" stroke="none" stroke-width="0"/>
<circle cx="568.50" cy="584.59" r="1.10" fill="rgb(200,29,117)" stroke="none" stroke-width="0"/>
<circle cx="565.70" cy="586.28" r="1.10" fill="rgb(151,56,150)" stroke="none" stroke-width="0"/>
<circle cx="571.18" cy="582.72" r="1.10" fill="rgb(34,120,228)" stroke="none" stroke-width="0"/>
<circle cx="556.08" cy="584.92" r="1.10" fill="rgb(85,92,194)" stroke="none" stroke-width="0"/>
<circle cx="565.90" cy="582.63" r="1.10" fill="rgb(157,53,146)" stroke="none" stroke-width="0"/>
<circle cx="565.97" cy="582.42" r="1.10" fill="rgb(143,60,155)" stroke="none" stroke-width="0"/>
<circle cx="556.32" cy="586.42" r="1.10" fill="rgb(64,103,208)" stroke="none" stroke-width="0"/>
<circle cx="575.57" cy="583.12" r="1.10" fill="rgb(161,51,144)" stroke="none" stroke-width="0"/>
<circle cx="560.96" cy="581.86" r="1.10" fill="rgb(39,117,224)" stroke="none" stroke-width="0"/>
<circle cx="563.50" cy="583.76" r="1.10" fill="rgb(126,69,166)" stroke="none" stroke-width="0"/>
<circle cx="555.43" cy="585.99" r="1.10" fill="rgb(179,40,131)" stroke="none" stroke-width="0"/>
<circle cx="573.74" cy="583.34" r="1.10" fill="rgb(119,73,171)" stroke="none" stroke-width="0"/>
<circle cx="564.91" cy="586.82" r="1.10" fill="rgb(110,78,178)" stroke="none" stroke-width="0"/>
<circle cx="546.69" cy="583.43" r="1.10" fill="rgb(125,70,167)" stroke="none" stroke-width="0"/>
<circle cx="565.97" cy="583.61" r="1.10" fill="rgb(193,33,122)" stroke="none" stroke-width="0"/>
<circle cx="556.93" cy="582.78" r="1.10" fill="rgb(33,120,228)" stroke="none" stroke-width="0"/>
<circle cx="551.73" cy="584.14" r="1.10" fill="rgb(138,63,159)" stroke="none" stroke-width="0"/>
<circle cx="564.85" cy="579.76" r="1.10" fill="rgb(70,100,204)" stroke="none" stroke-width="0"/>
<circle cx="549.65" cy="582.51" r="1.10" fill="rgb(192,34,123)" stroke="none" stroke-width="0"/>
<circle cx="565.95" cy="585.89" r="1.10" fill="rgb(140,62,157)" stroke="none" stroke-width="0"/>
<circle cx="565.25" cy="579.19" r="1.10" fill="rgb(164,49,142)" stroke="none" stroke-width="0"/>
<circle cx="560.99" cy="579.22" r="1.10" fill="rgb(166,48,140)" stroke="none" stroke-width="0"/>
<circle cx="554.33" cy="583.06" r="1.10" fill="rgb(144,60,155)" stroke="none" stroke-width="0"/>
<circle cx="577.88" cy="584.18" r="1.10" fill="rgb(55,108,214)" stroke="none" stroke-width="0"/>
<circle cx="563.03" cy="581.84" r="1.10" fill="rgb(131,67,164)" stroke="none" stroke-width="0"/>
<circle cx="587.03" cy="583.47" r="1.10" fill="rgb(79,95,198)" stroke="none" stroke-width="0"/>
<circle cx="564.11" cy="581.64" r="1.10" fill="rgb(77,96,199)" stroke="none" stroke-width="0"/>
<circle cx="569.61" cy="583.58" r="1.10" fill="rgb(111,78,177)" stroke="none" stroke-width="0"/>
<circle cx="555.34" cy="580.74" r="1.10" fill="rgb(87,91,192)" stroke="none" stroke-width="0"/>
<circle cx="572.80" cy="585.23" r="1.10" fill="rgb(77,96,199)" stroke="none" stroke-width="0"/>
<circle cx="552.56" cy="582.28" r="1.10" fill="rgb(36,119,227)" stroke="none" stroke-width="0"/>
<circle cx="555.70" cy="583.27" r="1.10" fill="rgb(125,70,167)" stroke="none" stroke-width="0"/>
<circle cx="561.44" cy="584.32" r="1.10" fill="rgb(100,84,184)" stroke="none" stroke-width="0"/>
<circle cx="564.90" cy="587.60" r="1.10" fill="rgb(138,63,158)" stroke="none" stroke-width="0"/>
<circle cx="558.16" cy="579.83" r="1.10" fill="rgb(89,90,191)" stroke="none" stroke-width="0"/>
<circle cx="555.21" cy="583.89" r="1.10" fill="rgb(91,89,190)" stroke="none" stroke-width="0"/>
<circle cx="561.52" cy="581.29" r="1.10" fill="rgb(187,36,126)" stroke="none" stroke-width="0"/>
<circle cx="559.97" cy="586.29" r="1.10" fill="rgb(146,59,154)" stroke="none" stroke-width="0"/>
<circle cx="575.32" cy="583.36" r="1.10" fill="rgb(216,21,107)" stroke="none" stroke-width="0"/>
<circle cx="547.84" cy="582.81" r="1.10" fill="rgb(113,76,175)" stroke="none" stroke-width="0"/>
<circle cx="568.75" cy="584.59" r="1.10" fill="rgb(35,119,227)" stroke="none" stroke-width="0"/>
<circle cx="565.20" cy="584.43" r="1.10" fill="rgb(62,105,209)" stroke="none" stroke-width="0"/>
<circle cx="560.87" cy="587.55" r="1.10" fill="rgb(139,62,158)" stroke="none" stroke-width="0"/>
<circle cx="566.13" cy="585.12" r="1.10" fill="rgb(163,50,142)" stroke="none" stroke-width="0"/>
<circle cx="554.32" cy="582.40" r="1.10" fill="rgb(68,101,205)" stroke="none" stroke-width="0"/>
<circle cx="565.56" cy="587.50" r="1.10" fill="rgb(67,102,206)" stroke="none" stroke-width="0"/>
<circle cx="559.40" cy="579.94" r="1.10" fill="rgb(44,114,221)" stroke="none" stroke-width="0"/>
<circle cx="567.38" cy="582.76" r="1.10" fill="rgb(159,51,145)" stroke="none" stroke-width="0"/>
<circle cx="544.10" cy="583.36" r="1.10" fill="rgb(210,24,111)" stroke="none" stroke-width="0"/>
<circle cx="561.39" cy="579.18" r="1.10" fill="rgb(167,47,140)" stroke="none" stroke-width="0"/>
<circle cx="558.95" cy="579.53" r="1.10" fill="rgb(196,32,121)" stroke="none" stroke-width="0"/>
<circle cx="561.63" cy="584.30" r="1.10" fill="rgb(90,89,191)" stroke="none" stroke-width="0"/>
<circle cx="568.78" cy="583.97" r="1.10" fill="rgb(56,107,213)" stroke="none" stroke-width="0"/>
<circle cx="569.20" cy="586.07" r="1.10" fill="rgb(56,108,213)" stroke="none" stroke-width="0"/>
<circle cx="559.50" cy="586.19" r="1.10" fill="rgb(225,16,101)" stroke="none" stroke-width="0"/>
<circle cx="561.60" cy="582.32" r="1.10" fill="rgb(156,53,147)" stroke="none" stroke-width="0"/>
<circle cx="564.50" cy="580.77" r="1.10" fill="rgb(136,64,160)" stroke="none" stroke-width="0"/>
<circle cx="570.61" cy="584.98" r="1.10" fill="rgb(113,77,175)" stroke="none" stroke-width="0"/>
<circle cx="568.14" cy="584.98" r="1.10" fill="rgb(48,112,218)" stroke="none" stroke-width="0"/>
<circle cx="565.13" cy="587.61" r="1.10" fill="rgb(228,14,99)" stroke="none" stroke-width="0"/>
<circle cx="559.62" cy="587.47" r="1.10" fill="rgb(132,66,162)" stroke="none" stroke-width="0"/>
<circle cx="561.34" cy="585.94" r="1.10" fill="rgb(126,69,166)" stroke="none" stroke-width="0"/>
<circle cx="570.33" cy="586.38" r="1.10" fill="rgb(44,114,221)" stroke="none" stroke-width="0"/>
<circle cx="547.37" cy="583.64" r="1.10" fill="rgb(135,64,160)" stroke="none" stroke-width="0"/>
<circle cx="564.73" cy="579.46" r="1.10" fill="rgb(54,109,215)" stroke="none" stroke-width="0"/>
<circle cx="560.97" cy="586.82" r="1.10" fill="rgb(71,99,203)" stroke="none" stroke-width="0"/>
<circle cx="579.89" cy="583.97" r="1.10" fill="rgb(32,121,229)" stroke="none" stroke-width="0"/>
<circle cx="546.26" cy="583.34" r="1.10" fill="rgb(218,20,106)" stroke="none" stroke-width="0"/>
<circle cx="551.09" cy="583.99" r="1.10" fill="rgb(35,119,227)" stroke="none" stroke-width="0"/>
<circle cx="558.86" cy="581.32" r="1.10" fill="rgb(176,42,133)" stroke="none" stroke-width="0"/>
<circle cx="570.75" cy="581.45" r="1.10" fill="rgb(186,37,127)" stroke="none" stroke-width="0"/>
<circle cx="562.30" cy="584.09" r="1.10" fill="rgb(45,114,221)" stroke="none" stroke-width="0"/>
<circle cx="566.09" cy="583.98" r="1.10" fill="rgb(186,37,127)" stroke="none" stroke-width="0"/>
<circle cx="555.90" cy="580.44" r="1.10" fill="rgb(130,68,164)" stroke="none" stroke-width="0"/>
<circle cx="558.20" cy="580.19" r="1.10" fill="rgb(157,53,146)" stroke="none" stroke-width="0"/>
<circle cx="570.27" cy="582.51" r="1.10" fill="rgb(101,83,183)" stroke="none" stroke-width="0"/>
<circle cx="570.92" cy="584.52" r="1.10" fill="rgb(58,106,211)" stroke="none" stroke-width="0"/>
<circle cx="572.38" cy="582.63" r="1.10" fill="rgb(197,31,120)" stroke="none" stroke-width="0"/>
<circle cx="579.82" cy="583.92" r="1.10" fill="rgb(123,71,169)" stroke="none" stroke-width="0"/>
<circle cx="565.30" cy="587.16" r="1.10" fill="rgb(49,112,218)" stroke="none" stroke-width="0"/>
<circle cx="566.05" cy="583.46" r="1.10" fill="rgb(134,65,161)" stroke="none" stroke-width="0"/>
<circle cx="569.82" cy="581.12" r="1.10" fill="rgb(134,65,161)" stroke="none" stroke-width="0"/>
<circle cx="569.23" cy="583.55" r="1.10" fill="rgb(100,84,184)" stroke="none" stroke-width="0"/>
<circle cx="565.82" cy="580.69" r="1.10" fill="rgb(51,110,216)" stroke="none" stroke-width="0"/>
<circle cx="570.87" cy="581.86" r="1.10" fill="rgb(203,28,116)" stroke="none" stroke-width="0"/>
<circle cx="546.45" cy="582.97" r="1.10" fill="rgb(217,20,106)" stroke="none" stroke-width="0"/>
<circle cx="563.01" cy="583.38" r="1.10" fill="rgb(186,37,127)" stroke="none" stroke-width="0"/>
<circle cx="552.20" cy="582.46" r="1.10" fill="rgb(178,41,132)" stroke="none" stroke-width="0"/>
<circle cx="557.99" cy="580.70" r="1.10" fill="rgb(79,95,198)" stroke="none" stroke-width="0"/>
<circle cx="571.02" cy="583.61" r="1.10" fill="rgb(85,92,194)" stroke="none" stroke-width="0"/>
<circle cx="564.74" cy="587.33" r="1.10" fill="rgb(42,115,222)" stroke="none" stroke-width="0"/>
<circle cx="558.08" cy="584.27" r="1.10" fill="rgb(185,37,128)" stroke="none" stroke-width="0"/>
<circle cx="560.45" cy="585.49" r="1.10" fill="rgb(38,118,225)" stroke="none" stroke-width="0"/>
<circle cx="563.49" cy="588.33" r="1.10" fill="rgb(33,120,228)" stroke="none" stroke-width="0"/>
<circle cx="573.97" cy="583.97" r="1.10" fill="rgb(166,48,140)" stroke="none" stroke-width="0"/>
<circle cx="566.08" cy="586.41" r="1.10" fill="rgb(119,73,171)" stroke="none" stroke-width="0"/>
<circle cx="556.51" cy="586.46" r="1.10" fill="rgb(27,123,232)" stroke="none" stroke-width="0"/>
<circle cx="570.84" cy="582.91" r="1.10" fill="rgb(43,115,222)" stroke="none" stroke-width="0"/>
<circle cx="560.20" cy="581.12" r="1.10" fill="rgb(175,43,134)" stroke="none" stroke-width="0"/>
<circle cx="561.23" cy="581.99" r="1.10" fill="rgb(54,109,215)" stroke="none" stroke-width="0"/>
<circle cx="559.09" cy="580.86" r="1.10" fill="rgb(70,100,204)" stroke="none" stroke-width="0"/>
<circle cx="552.60" cy="585.55" r="1.10" fill="rgb(186,37,127)" stroke="none" stroke-width="0"/>
<circle cx="582.19" cy="583.49" r="1.10" fill="rgb(126,69,166)" stroke="none" stroke-width="0"/>
<circle cx="566.39" cy="585.82" r="1.10" fill="rgb(155,54,148)" stroke="none" stroke-width="0"/>
<circle cx="546.10" cy="583.20" r="1.10" fill="rgb(153,55,149)" stroke="none" stroke-width="0"/>
<circle cx="571.12" cy="581.01" r="1.10" fill="rgb(171,45,137)" stroke="none" stroke-width="0"/>
<circle cx="551.66" cy="582.97" r="1.10" fill="rgb(58,107,212)" stroke="none" stroke-width="0"/>
<circle cx="574.83" cy="584.35" r="1.10" fill="rgb(53,110,215)" stroke="none" stroke-width="0"/>
<circle cx="560.66" cy="586.62" r="1.10" fill="rgb(216,20,107)" stroke="none" stroke-width="0"/>
<circle cx="574.08" cy="584.81" r="1.10" fill="rgb(189,35,125)" stroke="none" stroke-width="0"/>
<circle cx="555.79" cy="584.09" r="1.10" fill="rgb(114,76,175)" stroke="none" stroke-width="0"/>
<circle cx="569.55" cy="586.20" r="1.10" fill="rgb(86,91,193)" stroke="none" stroke-width="0"/>
<circle cx="550.78" cy="584.87" r="1.10" fill="rgb(133,65,162)" stroke="none" stroke-width="0"/>
<circle cx="566.93" cy="587.70" r="1.10" fill="rgb(186,37,127)" stroke="none" stroke-width="0"/>
<circle cx="561.89" cy="581.05" r="1.10" fill="rgb(196,31,120)" stroke="none" stroke-width="0"/>
<circle cx="590.26" cy="583.16" r="1.10" fill="rgb(6,135,247)" stroke="none" stroke-width="0"/>
<circle cx="592.38" cy="583.45" r="1.10" fill="rgb(23,126,235)" stroke="none" stroke-width="0"/>
<circle cx="587.74" cy="582.79" r="1.10" fill="rgb(19,128,237)" stroke="none" stroke-width="0"/>
<circle cx="584.76" cy="584.33" r="1.10" fill="rgb(17,129,239)" stroke="none" stroke-width="0"/>
<circle cx="596.31" cy="583.34" r="1.10" fill="rgb(2,137,249)" stroke="none" stroke-width="0"/>
<circle cx="587.57" cy="584.47" r="1.10" fill="rgb(21,127,236)" stroke="none" stroke-width="0"/>
<circle cx="587.40" cy="585.58" r="1.10" fill="rgb(20,127,237)" stroke="none" stroke-width="0"/>
<circle cx="594.11" cy="581.42" r="1.10" fill="rgb(12,132,242)" stroke="none" stroke-width="0"/>
<circle cx="591.74" cy="585.73" r="1.10" fill="rgb(10,133,243)" stroke="none" stroke-width="0"/>
<circle cx="590.17" cy="584.34" r="1.10" fill="rgb(11,132,243)" stroke="none" stroke-width="0"/>
<circle cx="588.71" cy="582.40" r="1.10" fill="rgb(21,127,236)" stroke="none" stroke-width="0"/>
<circle cx="592.15" cy="584.30" r="1.10" fill="rgb(7,134,246)" stroke="none" stroke-width="0"/>
<circle cx="592.44" cy="584.78" r="1.10" fill="rgb(11,132,243)" stroke="none" stroke-width="0"/>
<circle cx="591.50" cy="584.68" r="1.10" fill="rgb(20,127,237)" stroke="none" stroke-width="0"/>
<circle cx="593.97" cy="581.50" r="1.10" fill="rgb(20,127,237)" stroke="none" stroke-width="0"/>
<circle cx="593.77" cy="582.03" r="1.10" fill="rgb(6,135,246)" stroke="none" stroke-width="0"/>
<circle cx="593.31" cy="582.05" r="1.10" fill="rgb(22,126,235)" stroke="none" stroke-width="0"/>
<circle cx="589.09" cy="584.35" r="1.10" fill="rgb(22,126,235)" stroke="none" stroke-width="0"/>
<circle cx="586.64" cy="585.87" r="1.10" fill="rgb(12,131,242)" stroke="none" stroke-width="0"/>
<circle cx="592.62" cy="586.50" r="1.10" fill="rgb(4,136,247)" stroke="none" stroke-width="0"/>
<circle cx="591.04" cy="583.71" r="1.10" fill="rgb(0,138,250)" stroke="none" stroke-width="0"/>
<circle cx="588.11" cy="581.23" r="1.10" fill="rgb(24,125,235)" stroke="none" stroke-width="0"/>
<circle cx="583.67" cy="583.07" r="1.10" fill="rgb(8,134,245)" stroke="none" stroke-width="0"/>
<circle cx="591.85" cy="580.70" r="1.10" fill="rgb(14,131,241)" stroke="none" stroke-width="0"/>
<circle cx="592.81" cy="582.77" r="1.10" fill="rgb(23,126,235)" stroke="none" stroke-width="0"/>
<circle cx="586.68" cy="585.57" r="1.10" fill="rgb(16,129,239)" stroke="none" stroke-width="0"/>
<circle cx="594.49" cy="583.29" r="1.10" fill="rgb(24,125,234)" stroke="none" stroke-width="0"/>
<circle cx="592.32" cy="582.60" r="1.10" fill="rgb(16,129,239)" stroke="none" stroke-width="0"/>
<circle cx="587.62" cy="583.64" r="1.10" fill="rgb(17,129,239)" stroke="none" stroke-width="0"/>
<circle cx="587.40" cy="586.02" r="1.10" fill="rgb(12,132,242)" stroke="none" stroke-width="0"/>
<circle cx="583.51" cy="582.79" r="1.10" fill="rgb(21,127,236)" stroke="none" stroke-width="0"/>
<circle cx="597.47" cy="583.67" r="1.10" fill="rgb(14,131,241)" stroke="none" stroke-width="0"/>
<circle cx="584.28" cy="584.40" r="1.10" fill="rgb(18,128,238)" stroke="none" stroke-width="0"/>
<circle cx="591.94" cy="585.23" r="1.10" fill="rgb(0,138,250)" stroke="none" stroke-width="0"/>
<circle cx="589.10" cy="587.01" r="1.10" fill="rgb(22,126,235)" stroke="none" stroke-width="0"/>
<circle cx="591.74" cy="580.97" r="1.10" fill="rgb(14,130,241)" stroke="none" stroke-width="0"/>
<circle cx="589.00" cy="582.67" r="1.10" fill="rgb(19,128,238)" stroke="none" stroke-width="0"/>
<circle cx="589.47" cy="584.62" r="1.10" fill="rgb(7,135,246)" stroke="none" stroke-width="0"/>
<circle cx="590.23" cy="583.85" r="1.10" fill="rgb(10,133,243)" stroke="none" stroke-width="0"/>
<circle cx="587.00" cy="586.22" r="1.10" fill="rgb(16,129,240)" stroke="none" stroke-width="0"/>
<circle cx="591.83" cy="582.66" r="1.10" fill="rgb(24,125,234)" stroke="none" stroke-width="0"/>
<circle cx="584.87" cy="584.12" r="1.10" fill="rgb(17,129,239)" stroke="none" stroke-width="0"/>
<circle cx="589.62" cy="584.10" r="1.10" fill="rgb(21,127,237)" stroke="none" stroke-width="0"/>
<circle cx="592.11" cy="585.48" r="1.10" fill="rgb(8,134,245)" stroke="none" stroke-width="0"/>
<circle cx="592.77" cy="585.75" r="1.10" fill="rgb(4,136,248)" stroke="none" stroke-width="0"/>
<circle cx="593.35" cy="584.74" r="1.10" fill="rgb(4,136,248)" stroke="none" stroke-width="0"/>
<circle cx="589.54" cy="581.89" r="1.10" fill="rgb(9,133,244)" stroke="none" stroke-width="0"/>
<circle cx="591.10" cy="587.06" r="1.10" fill="rgb(24,125,234)" stroke="none" stroke-width="0"/>
<circle cx="591.19" cy="586.86" r="1.10" fill="rgb(5,136,247)" stroke="none" stroke-width="0"/>
<circle cx="592.87" cy="582.45" r="1.10" fill="rgb(11,132,243)" stroke="none" stroke-width="0"/>
<circle cx="544.69" cy="583.29" r="1.10" fill="rgb(78,96,198)" stroke="none" stroke-width="0"/>
<circle cx="554.72" cy="583.03" r="1.10" fill="rgb(222,17,103)" stroke="none" stroke-width="0"/>
<circle cx="548.14" cy="583.40" r="1.10" fill="rgb(210,24,111)" stroke="none" stroke-width="0"/>
<circle cx="571.06" cy="584.06" r="1.10" fill="rgb(155,54,147)" stroke="none" stroke-width="0"/>
<circle cx="552.15" cy="584.01" r="1.10" fill="rgb(56,108,213)" stroke="none" stroke-width="0"/>
<circle cx="557.78" cy="583.84" r="1.10" fill="rgb(139,62,158)" stroke="none" stroke-width="0"/>
<circle cx="568.01" cy="583.23" r="1.10" fill="rgb(81,94,196)" stroke="none" stroke-width="0"/>
<circle cx="573.97" cy="583.08" r="1.10" fill="rgb(133,66,162)" stroke="none" stroke-width="0"/>
<circle cx="563.57" cy="584.04" r="1.10" fill="rgb(78,96,198)" stroke="none" stroke-width="0"/>
<circle cx="542.26" cy="583.63" r="1.10" fill="rgb(194,33,122)" stroke="none" stroke-width="0"/>
<circle cx="553.56" cy="583.03" r="1.10" fill="rgb(217,20,107)" stroke="none" stroke-width="0"/>
<circle cx="549.57" cy="583.60" r="1.10" fill="rgb(39,117,224)" stroke="none" stroke-width="0"/>
<circle cx="568.05" cy="583.33" r="1.10" fill="rgb(163,49,142)" stroke="none" stroke-width="0"/>
<circle cx="570.00" cy="583.11" r="1.10" fill="rgb(48,112,219)" stroke="none" stroke-width="0"/>
<circle cx="564.10" cy="583.77" r="1.10" fill="rgb(222,17,103)" stroke="none" stroke-width="0"/>
<circle cx="565.81" cy="583.29" r="1.10" fill="rgb(183,38,129)" stroke="none" stroke-width="0"/>
<circle cx="574.80" cy="583.18" r="1.10" fill="rgb(176,42,133)" stroke="none" stroke-width="0"/>
<circle cx="554.97" cy="583.20" r="1.10" fill="rgb(189,35,125)" stroke="none" stroke-width="0"/>
<circle cx="547.48" cy="583.56" r="1.10" fill="rgb(203,28,116)" stroke="none" stroke-width="0"/>
<circle cx="559.63" cy="584.30" r="1.10" fill="rgb(162,50,143)" stroke="none" stroke-width="0"/>
<circle cx="599.85" cy="582.37" r="1.10" fill="rgb(8,134,245)" stroke="none" stroke-width="0"/>
<circle cx="614.43" cy="584.42" r="1.10" fill="rgb(12,132,242)" stroke="none" stroke-width="0"/>
<circle cx="627.70" cy="583.25" r="1.10" fill="rgb(14,130,241)" stroke="none" stroke-width="0"/>
<circle cx="622.80" cy="584.40" r="1.10" fill="rgb(6,135,246)" stroke="none" stroke-width="0"/>
<circle cx="633.99" cy="582.59" r="1.10" fill="rgb(21,127,236)" stroke="none" stroke-width="0"/>
<circle cx="627.89" cy="583.50" r="1.10" fill="rgb(19,128,238)" stroke="none" stroke-width="0"/>
<circle cx="639.72" cy="584.13" r="1.10" fill="rgb(22,126,235)" stroke="none" stroke-width="0"/>
<circle cx="635.68" cy="584.48" r="1.10" fill="rgb(16,129,240)" stroke="none" stroke-width="0"/>
<circle cx="599.73" cy="584.03" r="1.10" fill="rgb(17,129,239)" stroke="none" stroke-width="0"/>
<circle cx="624.81" cy="582.38" r="1.10" fill="rgb(7,135,246)" stroke="none" stroke-width="0"/>
<circle cx="624.34" cy="582.91" r="1.10" fill="rgb(21,127,237)" stroke="none" stroke-width="0"/>
<circle cx="604.00" cy="582.44" r="1.10" fill="rgb(5,135,247)" stroke="none" stroke-width="0"/>
<circle cx="628.13" cy="584.29" r="1.10" fill="rgb(24,125,234)" stroke="none" stroke-width="0"/>
<circle cx="611.64" cy="582.39" r="1.10" fill="rgb(17,129,239)" stroke="none" stroke-width="0"/>
<circle cx="636.60" cy="582.21" r="1.10" fill="rgb(8,134,245)" stroke="none" stroke-width="0"/>
<circle cx="625.69" cy="582.92" r="1.10" fill="rgb(3,137,248)" stroke="none" stroke-width="0"/>
<circle cx="595.97" cy="583.64" r="1.10" fill="rgb(11,132,243)" stroke="none" stroke-width="0"/>
<circle cx="634.97" cy="584.35" r="1.10" fill="rgb(1,138,250)" stroke="none" stroke-width="0"/>
<circle cx="598.65" cy="583.84" r="1.10" fill="rgb(5,135,247)" stroke="none" stroke-width="0"/>
<circle cx="610.62" cy="583.68" r="1.10" fill="rgb(8,134,245)" stroke="none" stroke-width="0"/>
<circle cx="604.24" cy="582.74" r="1.10" fill="rgb(20,127,237)" stroke="none" stroke-width="0"/>
<circle cx="636.64" cy="583.60" r="1.10" fill="rgb(20,127,237)" stroke="none" stroke-width="0"/>
<circle cx="594.48" cy="582.27" r="1.10" fill="rgb(19,128,237)" stroke="none" stroke-width="0"/>
<circle cx="619.20" cy="582.36" r="1.10" fill="rgb(10,133,243)" stroke="none" stroke-width="0"/>
<circle cx="625.73" cy="583.72" r="1.10" fill="rgb(18,128,238)" stroke="none" stroke-width="0"/>
<circle cx="613.75" cy="583.73" r="1.10" fill="rgb(13,131,242)" stroke="none" stroke-width="0"/>
<circle cx="604.68" cy="584.79" r="1.10" fill="rgb(22,126,236)" stroke="none" stroke-width="0"/>
<circle cx="634.81" cy="583.06" r="1.10" fill="rgb(24,125,234)" stroke="none" stroke-width="0"/>
<circle cx="644.30" cy="583.44" r="1.10" fill="rgb(1,138,249)" stroke="none" stroke-width="0"/>
<circle cx="599.86" cy="583.97" r="1.10" fill="rgb(11,132,243)" stroke="none" stroke-width="0"/>
<circle cx="629.82" cy="583.09" r="1.10" fill="rgb(11,132,243)" stroke="none" stroke-width="0"/>
<circle cx="602.79" cy="582.93" r="1.10" fill="rgb(10,133,244)" stroke="none" stroke-width="0"/>
<circle cx="603.01" cy="583.54" r="1.10" fill="rgb(18,128,238)" stroke="none" stroke-width="0"/>
<circle cx="615.75" cy="584.03" r="1.10" fill="rgb(5,136,247)" stroke="none" stroke-width="0"/>
<circle cx="603.14" cy="583.66" r="1.10" fill="rgb(6,135,246)" stroke="none" stroke-width="0"/>
<circle cx="629.44" cy="584.14" r="1.10" fill="rgb(24,125,234)" stroke="none" stroke-width="0"/>
<circle cx="642.32" cy="584.08" r="1.10" fill="rgb(23,126,235)" stroke="none" stroke-width="0"/>
<circle cx="630.39" cy="582.73" r="1.10" fill="rgb(1,138,249)" stroke="none" stroke-width="0"/>
<circle cx="593.57" cy="584.08" r="1.10" fill="rgb(22,126,236)" stroke="none" stroke-width="0"/>
<circle cx="625.74" cy="583.12" r="1.10" fill="rgb(6,135,246)" stroke="none" stroke-width="0"/>
<circle cx="601.42" cy="584.78" r="1.10" fill="rgb(16,130,240)" stroke="none" stroke-width="0"/>
<circle cx="608.83" cy="582.66" r="1.10" fill="rgb(1,138,250)" stroke="none" stroke-width="0"/>
<circle cx="611.41" cy="584.29" r="1.10" fill="rgb(22,126,235)" stroke="none" stroke-width="0"/>
<circle cx="616.61" cy="582.48" r="1.10" fill="rgb(2,137,249)" stroke="none" stroke-width="0"/>
<circle cx="600.91" cy="583.43" r="1.10" fill="rgb(19,128,237)" stroke="none" stroke-width="0"/>
<circle cx="644.52" cy="584.27" r="1.10" fill="rgb(23,126,235)" stroke="none" stroke-width="0"/>
<circle cx="617.71" cy="582.53" r="1.10" fill="rgb(20,127,237)" stroke="none" stroke-width="0"/>
<circle cx="598.56" cy="583.52" r="1.10" fill="rgb(14,131,241)" stroke="none" stroke-width="0"/>
<circle cx="603.80" cy="582.26" r="1.10" fill="rgb(6,135,246)" stroke="none" stroke-width="0"/>
<circle cx="640.27" cy="584.66" r="1.10" fill="rgb(18,129,238)" stroke="none" stroke-width="0"/>
<circle cx="644.00" cy="584.10" r="1.10" fill="rgb(11,132,243)" stroke="none" stroke-width="0"/>
<circle cx="612.91" cy="584.39" r="1.10" fill="rgb(20,127,237)" stroke="none" stroke-width="0"/>
<circle cx="599.86" cy="582.76" r="1.10" fill="rgb(0,138,250)" stroke="none" stroke-width="0"/>
<circle cx="623.40" cy="582.22" r="1.10" fill="rgb(9,133,244)" stroke="none" stroke-width="0"/>
<circle cx="636.17" cy="583.41" r="1.10" fill="rgb(20,128,237)" stroke="none" stroke-width="0"/>
</svg></body></html>
